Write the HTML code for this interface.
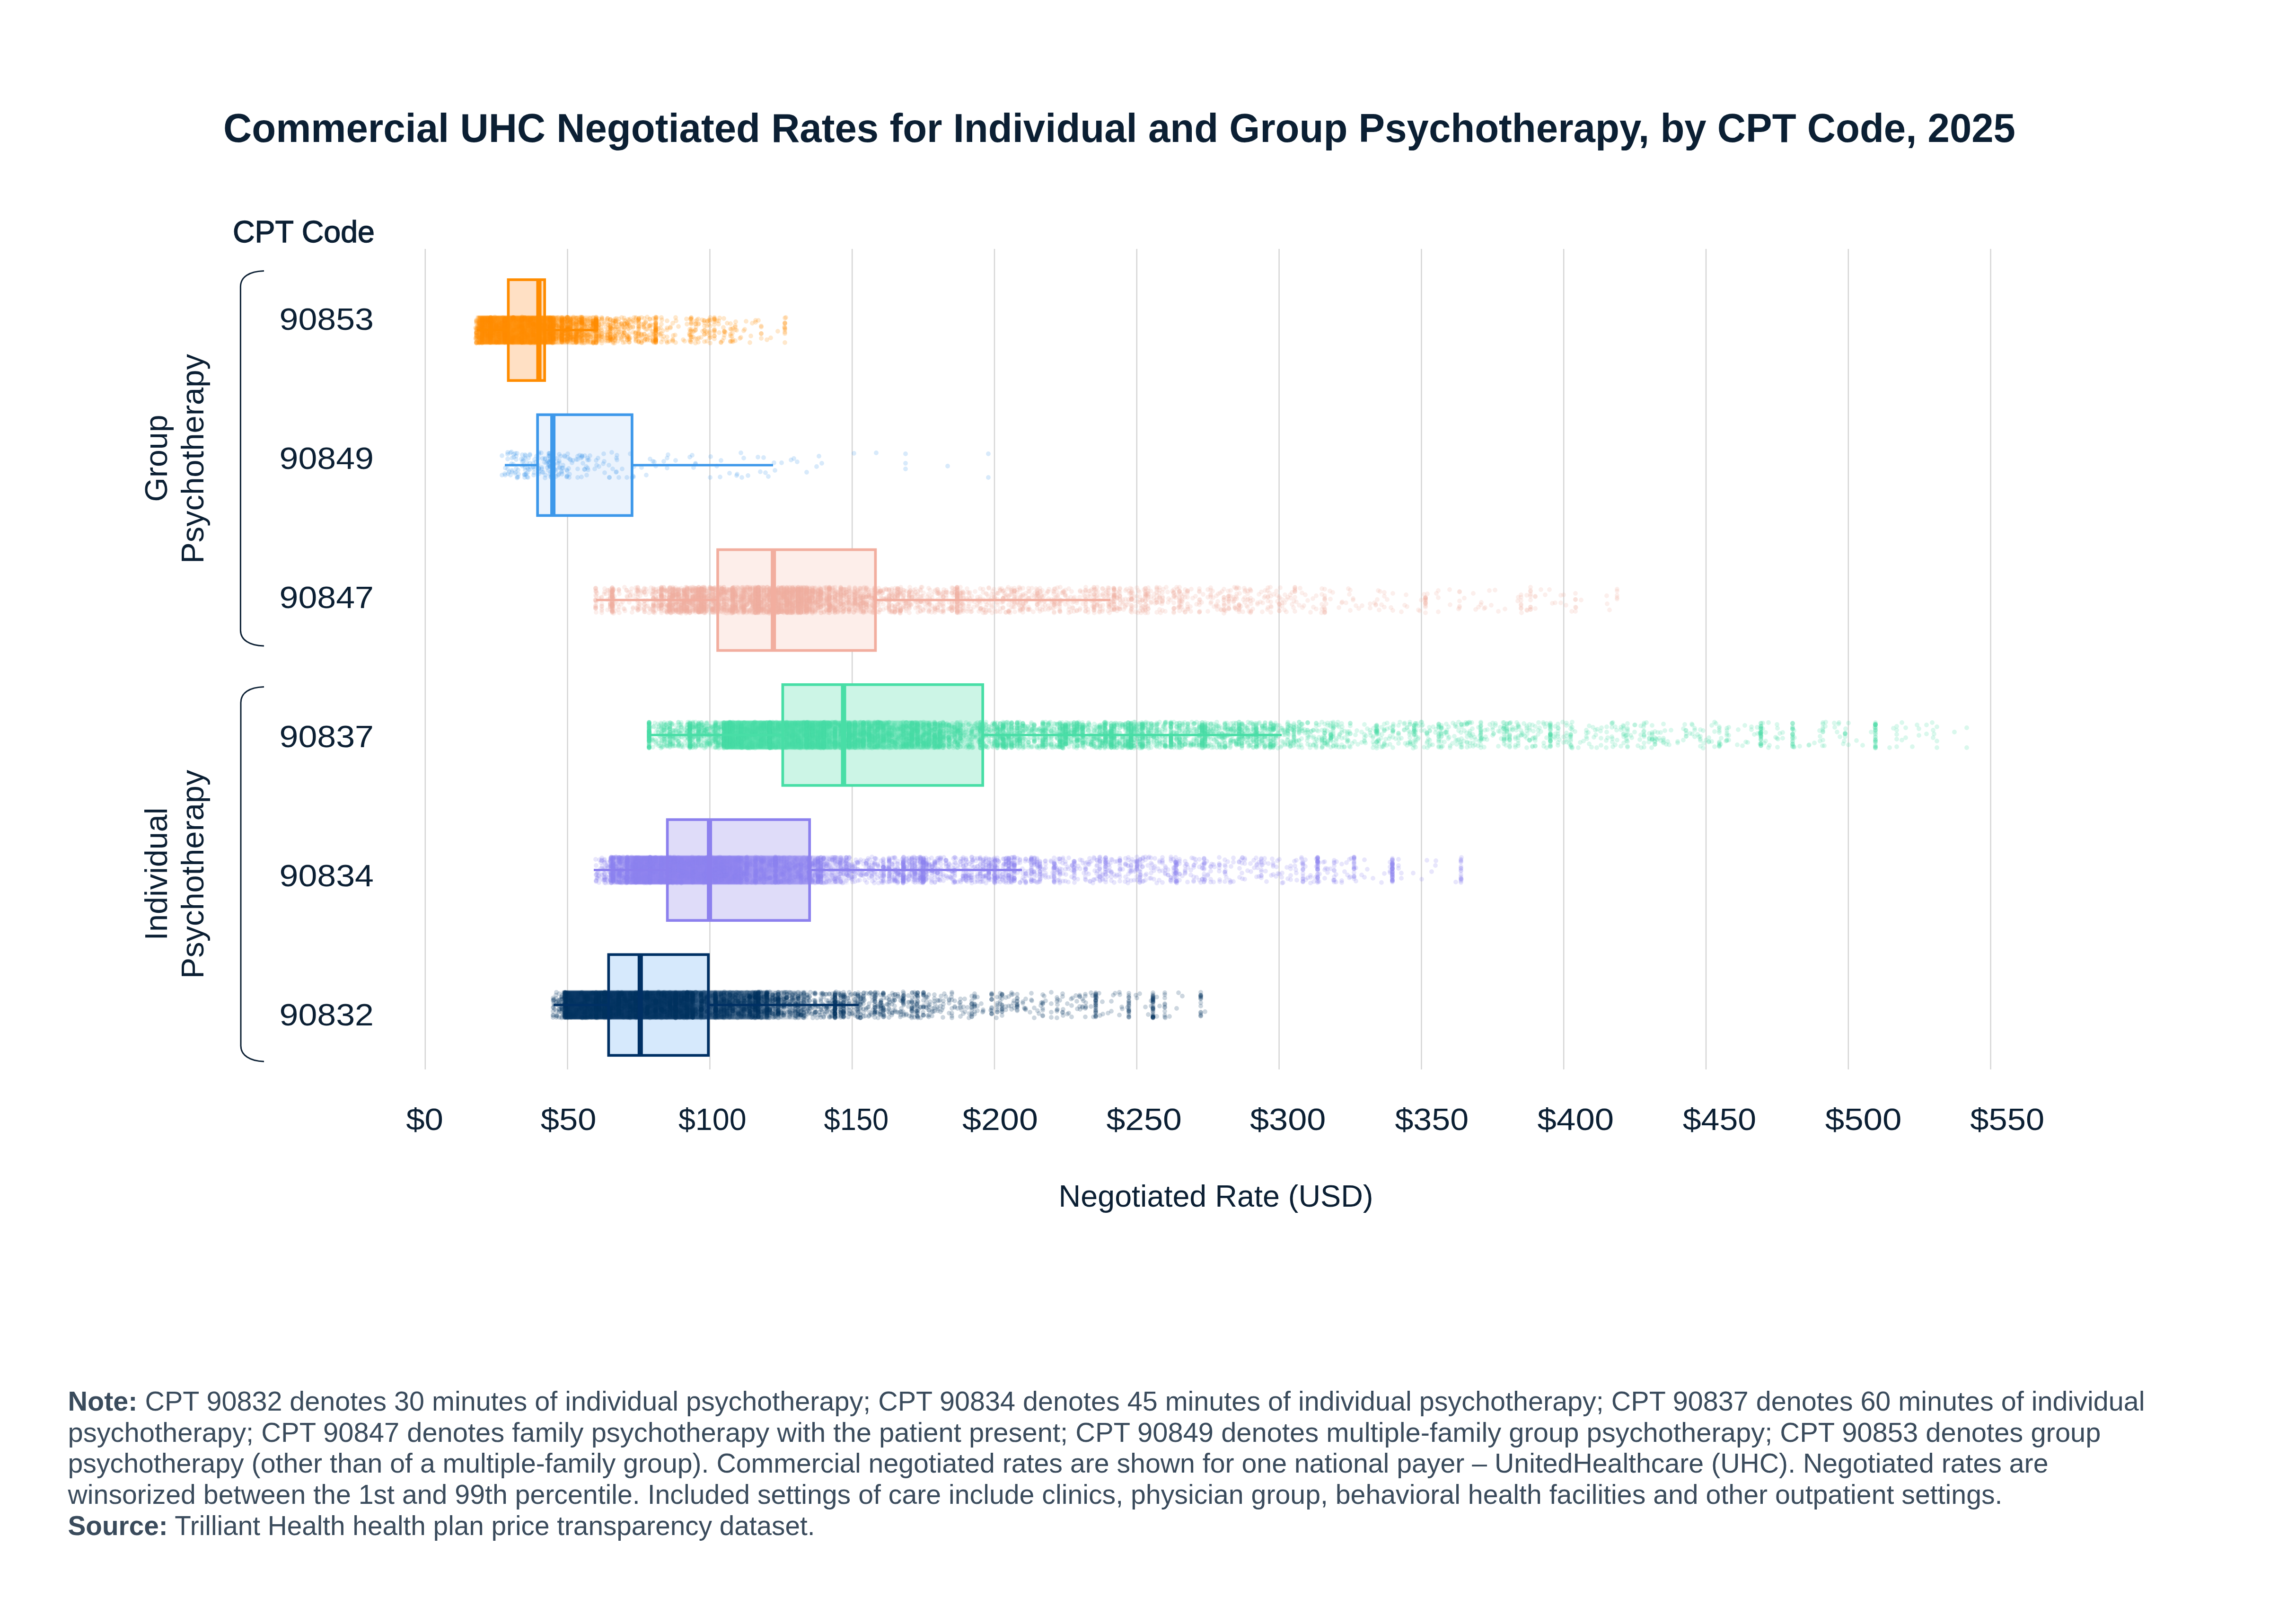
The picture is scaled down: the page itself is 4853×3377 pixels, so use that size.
<!DOCTYPE html><html><head><meta charset="utf-8"><title>Commercial UHC Negotiated Rates</title><style>html,body{margin:0;padding:0;background:#fff}svg{display:block}text{font-family:"Liberation Sans",Arial,sans-serif;fill:#0b1f33}</style></head><body><svg width="4853" height="3377" viewBox="0 0 4853 3377"><rect width="4853" height="3377" fill="#fff"/><text x="472" y="300" font-size="86" font-weight="700" textLength="3788" lengthAdjust="spacingAndGlyphs">Commercial UHC Negotiated Rates for Individual and Group Psychotherapy, by CPT Code, 2025</text><text x="492" y="511.7" font-size="64" stroke="#0b1f33" stroke-width="1.4" textLength="300" lengthAdjust="spacingAndGlyphs">CPT Code</text><path d="M898.8 526V2260M1199.6 526V2260M1500.4 526V2260M1801.2 526V2260M2102.0 526V2260M2402.8 526V2260M2703.6 526V2260M3004.4 526V2260M3305.2 526V2260M3606.0 526V2260M3906.8 526V2260M4207.6 526V2260" stroke="#d5d5d5" stroke-width="2.5" fill="none"/><text x="897.6" y="2388" font-size="65" text-anchor="middle" textLength="78.8" lengthAdjust="spacingAndGlyphs">$0</text><text x="1201.7" y="2388" font-size="65" text-anchor="middle" textLength="117.8" lengthAdjust="spacingAndGlyphs">$50</text><text x="1505.8" y="2388" font-size="65" text-anchor="middle" textLength="143.8" lengthAdjust="spacingAndGlyphs">$100</text><text x="1809.9" y="2388" font-size="65" text-anchor="middle" textLength="136.8" lengthAdjust="spacingAndGlyphs">$150</text><text x="2114.0" y="2388" font-size="65" text-anchor="middle" textLength="159.8" lengthAdjust="spacingAndGlyphs">$200</text><text x="2418.1" y="2388" font-size="65" text-anchor="middle" textLength="159.3" lengthAdjust="spacingAndGlyphs">$250</text><text x="2722.2" y="2388" font-size="65" text-anchor="middle" textLength="160.5" lengthAdjust="spacingAndGlyphs">$300</text><text x="3026.3" y="2388" font-size="65" text-anchor="middle" textLength="155.8" lengthAdjust="spacingAndGlyphs">$350</text><text x="3330.4" y="2388" font-size="65" text-anchor="middle" textLength="161.6" lengthAdjust="spacingAndGlyphs">$400</text><text x="3634.5" y="2388" font-size="65" text-anchor="middle" textLength="155.5" lengthAdjust="spacingAndGlyphs">$450</text><text x="3938.6" y="2388" font-size="65" text-anchor="middle" textLength="161.8" lengthAdjust="spacingAndGlyphs">$500</text><text x="4242.7" y="2388" font-size="65" text-anchor="middle" textLength="156.8" lengthAdjust="spacingAndGlyphs">$550</text><text x="2570" y="2549.5" font-size="65" text-anchor="middle" textLength="665" lengthAdjust="spacingAndGlyphs">Negotiated Rate (USD)</text><text x="790" y="697" font-size="65" text-anchor="end" textLength="199.5" lengthAdjust="spacingAndGlyphs">90853</text><text x="790" y="991" font-size="65" text-anchor="end" textLength="199.5" lengthAdjust="spacingAndGlyphs">90849</text><text x="790" y="1285" font-size="65" text-anchor="end" textLength="199.5" lengthAdjust="spacingAndGlyphs">90847</text><text x="790" y="1579" font-size="65" text-anchor="end" textLength="199.5" lengthAdjust="spacingAndGlyphs">90837</text><text x="790" y="1873" font-size="65" text-anchor="end" textLength="199.5" lengthAdjust="spacingAndGlyphs">90834</text><text x="790" y="2167" font-size="65" text-anchor="end" textLength="199.5" lengthAdjust="spacingAndGlyphs">90832</text><path d="M558 572.5C527 573.5 508.4 585 508.4 606V1332C508.4 1352 527 1364.5 558 1365M558 1451.5C527 1452.5 509 1464 509 1485V2210C509 2230 528 2242.5 558 2243.3" stroke="#0b1f33" stroke-width="3" fill="none"/><text transform="translate(353,968.5) rotate(-90)" x="0" y="0" font-size="66" text-anchor="middle" textLength="184" lengthAdjust="spacingAndGlyphs">Group</text><text transform="translate(429.6,969.5) rotate(-90)" x="0" y="0" font-size="66" text-anchor="middle" textLength="443" lengthAdjust="spacingAndGlyphs">Psychotherapy</text><text transform="translate(353,1847) rotate(-90)" x="0" y="0" font-size="66" text-anchor="middle" textLength="281" lengthAdjust="spacingAndGlyphs">Individual</text><text transform="translate(429.6,1847.5) rotate(-90)" x="0" y="0" font-size="66" text-anchor="middle" textLength="441.5" lengthAdjust="spacingAndGlyphs">Psychotherapy</text><text x="143.5" y="2981.0" font-size="57" style="fill:#3a4b5c" textLength="4390.0" lengthAdjust="spacingAndGlyphs"><tspan font-weight="700">Note:</tspan> CPT 90832 denotes 30 minutes of individual psychotherapy; CPT 90834 denotes 45 minutes of individual psychotherapy; CPT 90837 denotes 60 minutes of individual</text><text x="143.5" y="3046.7" font-size="57" style="fill:#3a4b5c" textLength="4297.0" lengthAdjust="spacingAndGlyphs">psychotherapy; CPT 90847 denotes family psychotherapy with the patient present; CPT 90849 denotes multiple-family group psychotherapy; CPT 90853 denotes group</text><text x="143.5" y="3112.4" font-size="57" style="fill:#3a4b5c" textLength="4186.0" lengthAdjust="spacingAndGlyphs">psychotherapy (other than of a multiple-family group). Commercial negotiated rates are shown for one national payer – UnitedHealthcare (UHC). Negotiated rates are</text><text x="143.5" y="3178.1" font-size="57" style="fill:#3a4b5c" textLength="4089.0" lengthAdjust="spacingAndGlyphs">winsorized between the 1st and 99th percentile. Included settings of care include clinics, physician group, behavioral health facilities and other outpatient settings.</text><text x="143.5" y="3243.8" font-size="57" style="fill:#3a4b5c" textLength="1579.0" lengthAdjust="spacingAndGlyphs"><tspan font-weight="700">Source:</tspan> Trilliant Health health plan price transparency dataset.</text><rect x="1074.4" y="591.1" width="76.8" height="213" fill="#ffe0c4"/><rect x="1136.2" y="876.4" width="199.7" height="213" fill="#ebf3fd"/><rect x="1517.0" y="1161.6" width="333.4" height="213" fill="#fdeeea"/><rect x="1654.4" y="1446.8" width="422.8" height="213" fill="#ccf5e6"/><rect x="1410.6" y="1732.1" width="300.6" height="213" fill="#dfdcf9"/><rect x="1286.4" y="2017.3" width="210.8" height="213" fill="#d6e9fc"/><defs><linearGradient id="g0" gradientUnits="userSpaceOnUse" x1="1005" x2="1268" y1="0" y2="0"><stop offset="0.0000" stop-color="#ff8c00" stop-opacity="0.000"/><stop offset="0.0114" stop-color="#ff8c00" stop-opacity="0.400"/><stop offset="0.0228" stop-color="#ff8c00" stop-opacity="0.823"/><stop offset="0.0342" stop-color="#ff8c00" stop-opacity="0.899"/><stop offset="0.0456" stop-color="#ff8c00" stop-opacity="0.920"/><stop offset="0.0570" stop-color="#ff8c00" stop-opacity="0.936"/><stop offset="0.6160" stop-color="#ff8c00" stop-opacity="0.902"/><stop offset="0.6274" stop-color="#ff8c00" stop-opacity="0.814"/><stop offset="0.6388" stop-color="#ff8c00" stop-opacity="0.647"/><stop offset="0.6502" stop-color="#ff8c00" stop-opacity="0.456"/><stop offset="0.6730" stop-color="#ff8c00" stop-opacity="0.444"/><stop offset="0.6958" stop-color="#ff8c00" stop-opacity="0.432"/><stop offset="0.7186" stop-color="#ff8c00" stop-opacity="0.420"/><stop offset="0.7414" stop-color="#ff8c00" stop-opacity="0.408"/><stop offset="0.7643" stop-color="#ff8c00" stop-opacity="0.395"/><stop offset="0.7871" stop-color="#ff8c00" stop-opacity="0.382"/><stop offset="0.8099" stop-color="#ff8c00" stop-opacity="0.369"/><stop offset="0.8327" stop-color="#ff8c00" stop-opacity="0.356"/><stop offset="0.8555" stop-color="#ff8c00" stop-opacity="0.342"/><stop offset="0.8783" stop-color="#ff8c00" stop-opacity="0.328"/><stop offset="0.9011" stop-color="#ff8c00" stop-opacity="0.314"/><stop offset="0.9240" stop-color="#ff8c00" stop-opacity="0.299"/><stop offset="0.9468" stop-color="#ff8c00" stop-opacity="0.284"/><stop offset="0.9696" stop-color="#ff8c00" stop-opacity="0.269"/><stop offset="0.9810" stop-color="#ff8c00" stop-opacity="0.211"/><stop offset="0.9924" stop-color="#ff8c00" stop-opacity="0.030"/></linearGradient><linearGradient id="g3" gradientUnits="userSpaceOnUse" x1="1468" x2="1987" y1="0" y2="0"><stop offset="0.0000" stop-color="#48dea6" stop-opacity="0.000"/><stop offset="0.0116" stop-color="#48dea6" stop-opacity="0.020"/><stop offset="0.0173" stop-color="#48dea6" stop-opacity="0.035"/><stop offset="0.0231" stop-color="#48dea6" stop-opacity="0.050"/><stop offset="0.0289" stop-color="#48dea6" stop-opacity="0.064"/><stop offset="0.0347" stop-color="#48dea6" stop-opacity="0.078"/><stop offset="0.0405" stop-color="#48dea6" stop-opacity="0.092"/><stop offset="0.0462" stop-color="#48dea6" stop-opacity="0.106"/><stop offset="0.0520" stop-color="#48dea6" stop-opacity="0.120"/><stop offset="0.0578" stop-color="#48dea6" stop-opacity="0.133"/><stop offset="0.0636" stop-color="#48dea6" stop-opacity="0.146"/><stop offset="0.0694" stop-color="#48dea6" stop-opacity="0.159"/><stop offset="0.0751" stop-color="#48dea6" stop-opacity="0.172"/><stop offset="0.0809" stop-color="#48dea6" stop-opacity="0.185"/><stop offset="0.0867" stop-color="#48dea6" stop-opacity="0.197"/><stop offset="0.0925" stop-color="#48dea6" stop-opacity="0.209"/><stop offset="0.0983" stop-color="#48dea6" stop-opacity="0.221"/><stop offset="0.1040" stop-color="#48dea6" stop-opacity="0.233"/><stop offset="0.1098" stop-color="#48dea6" stop-opacity="0.245"/><stop offset="0.1156" stop-color="#48dea6" stop-opacity="0.256"/><stop offset="0.1214" stop-color="#48dea6" stop-opacity="0.406"/><stop offset="0.1272" stop-color="#48dea6" stop-opacity="0.687"/><stop offset="0.1329" stop-color="#48dea6" stop-opacity="0.836"/><stop offset="0.1387" stop-color="#48dea6" stop-opacity="0.914"/><stop offset="0.5491" stop-color="#48dea6" stop-opacity="0.863"/><stop offset="0.5549" stop-color="#48dea6" stop-opacity="0.783"/><stop offset="0.5607" stop-color="#48dea6" stop-opacity="0.657"/><stop offset="0.5665" stop-color="#48dea6" stop-opacity="0.601"/><stop offset="0.9538" stop-color="#48dea6" stop-opacity="0.498"/><stop offset="0.9595" stop-color="#48dea6" stop-opacity="0.368"/><stop offset="0.9653" stop-color="#48dea6" stop-opacity="0.205"/><stop offset="0.9711" stop-color="#48dea6" stop-opacity="0.124"/><stop offset="0.9769" stop-color="#48dea6" stop-opacity="0.097"/><stop offset="0.9827" stop-color="#48dea6" stop-opacity="0.069"/><stop offset="0.9884" stop-color="#48dea6" stop-opacity="0.040"/><stop offset="0.9942" stop-color="#48dea6" stop-opacity="0.010"/><stop offset="1.0000" stop-color="#48dea6" stop-opacity="0.000"/></linearGradient><linearGradient id="g4" gradientUnits="userSpaceOnUse" x1="1286" x2="1797" y1="0" y2="0"><stop offset="0.0000" stop-color="#8c80ee" stop-opacity="0.000"/><stop offset="0.0059" stop-color="#8c80ee" stop-opacity="0.076"/><stop offset="0.0117" stop-color="#8c80ee" stop-opacity="0.324"/><stop offset="0.0176" stop-color="#8c80ee" stop-opacity="0.505"/><stop offset="0.0235" stop-color="#8c80ee" stop-opacity="0.539"/><stop offset="0.0294" stop-color="#8c80ee" stop-opacity="0.571"/><stop offset="0.0352" stop-color="#8c80ee" stop-opacity="0.600"/><stop offset="0.0411" stop-color="#8c80ee" stop-opacity="0.627"/><stop offset="0.0470" stop-color="#8c80ee" stop-opacity="0.653"/><stop offset="0.0528" stop-color="#8c80ee" stop-opacity="0.677"/><stop offset="0.0587" stop-color="#8c80ee" stop-opacity="0.699"/><stop offset="0.0646" stop-color="#8c80ee" stop-opacity="0.719"/><stop offset="0.0705" stop-color="#8c80ee" stop-opacity="0.738"/><stop offset="0.0763" stop-color="#8c80ee" stop-opacity="0.756"/><stop offset="0.0822" stop-color="#8c80ee" stop-opacity="0.773"/><stop offset="0.0881" stop-color="#8c80ee" stop-opacity="0.820"/><stop offset="0.0939" stop-color="#8c80ee" stop-opacity="0.896"/><stop offset="0.0998" stop-color="#8c80ee" stop-opacity="0.940"/><stop offset="0.1057" stop-color="#8c80ee" stop-opacity="0.965"/><stop offset="0.5401" stop-color="#8c80ee" stop-opacity="0.950"/><stop offset="0.5460" stop-color="#8c80ee" stop-opacity="0.914"/><stop offset="0.5519" stop-color="#8c80ee" stop-opacity="0.850"/><stop offset="0.5577" stop-color="#8c80ee" stop-opacity="0.783"/><stop offset="0.5988" stop-color="#8c80ee" stop-opacity="0.773"/><stop offset="0.6399" stop-color="#8c80ee" stop-opacity="0.762"/><stop offset="0.6810" stop-color="#8c80ee" stop-opacity="0.751"/><stop offset="0.7221" stop-color="#8c80ee" stop-opacity="0.739"/><stop offset="0.7573" stop-color="#8c80ee" stop-opacity="0.729"/><stop offset="0.7926" stop-color="#8c80ee" stop-opacity="0.718"/><stop offset="0.8278" stop-color="#8c80ee" stop-opacity="0.707"/><stop offset="0.8337" stop-color="#8c80ee" stop-opacity="0.655"/><stop offset="0.8395" stop-color="#8c80ee" stop-opacity="0.562"/><stop offset="0.8454" stop-color="#8c80ee" stop-opacity="0.444"/><stop offset="0.8513" stop-color="#8c80ee" stop-opacity="0.346"/><stop offset="0.8630" stop-color="#8c80ee" stop-opacity="0.334"/><stop offset="0.8748" stop-color="#8c80ee" stop-opacity="0.322"/><stop offset="0.8865" stop-color="#8c80ee" stop-opacity="0.309"/><stop offset="0.8982" stop-color="#8c80ee" stop-opacity="0.297"/><stop offset="0.9100" stop-color="#8c80ee" stop-opacity="0.284"/><stop offset="0.9217" stop-color="#8c80ee" stop-opacity="0.270"/><stop offset="0.9335" stop-color="#8c80ee" stop-opacity="0.257"/><stop offset="0.9452" stop-color="#8c80ee" stop-opacity="0.243"/><stop offset="0.9569" stop-color="#8c80ee" stop-opacity="0.229"/><stop offset="0.9687" stop-color="#8c80ee" stop-opacity="0.215"/><stop offset="0.9804" stop-color="#8c80ee" stop-opacity="0.200"/><stop offset="0.9922" stop-color="#8c80ee" stop-opacity="0.074"/><stop offset="0.9980" stop-color="#8c80ee" stop-opacity="0.000"/></linearGradient><linearGradient id="g5" gradientUnits="userSpaceOnUse" x1="1188" x2="1712" y1="0" y2="0"><stop offset="0.0000" stop-color="#00305f" stop-opacity="0.000"/><stop offset="0.0057" stop-color="#00305f" stop-opacity="0.429"/><stop offset="0.0115" stop-color="#00305f" stop-opacity="0.894"/><stop offset="0.0172" stop-color="#00305f" stop-opacity="0.965"/><stop offset="0.5267" stop-color="#00305f" stop-opacity="0.928"/><stop offset="0.5324" stop-color="#00305f" stop-opacity="0.875"/><stop offset="0.5382" stop-color="#00305f" stop-opacity="0.783"/><stop offset="0.5668" stop-color="#00305f" stop-opacity="0.771"/><stop offset="0.5897" stop-color="#00305f" stop-opacity="0.761"/><stop offset="0.6126" stop-color="#00305f" stop-opacity="0.750"/><stop offset="0.6355" stop-color="#00305f" stop-opacity="0.739"/><stop offset="0.6584" stop-color="#00305f" stop-opacity="0.727"/><stop offset="0.6813" stop-color="#00305f" stop-opacity="0.715"/><stop offset="0.7042" stop-color="#00305f" stop-opacity="0.702"/><stop offset="0.7214" stop-color="#00305f" stop-opacity="0.692"/><stop offset="0.7385" stop-color="#00305f" stop-opacity="0.682"/><stop offset="0.7557" stop-color="#00305f" stop-opacity="0.671"/><stop offset="0.7729" stop-color="#00305f" stop-opacity="0.660"/><stop offset="0.7901" stop-color="#00305f" stop-opacity="0.648"/><stop offset="0.8073" stop-color="#00305f" stop-opacity="0.637"/><stop offset="0.8244" stop-color="#00305f" stop-opacity="0.624"/><stop offset="0.8302" stop-color="#00305f" stop-opacity="0.540"/><stop offset="0.8359" stop-color="#00305f" stop-opacity="0.437"/><stop offset="0.8416" stop-color="#00305f" stop-opacity="0.312"/><stop offset="0.8473" stop-color="#00305f" stop-opacity="0.262"/><stop offset="0.8702" stop-color="#00305f" stop-opacity="0.250"/><stop offset="0.8931" stop-color="#00305f" stop-opacity="0.238"/><stop offset="0.9160" stop-color="#00305f" stop-opacity="0.226"/><stop offset="0.9389" stop-color="#00305f" stop-opacity="0.214"/><stop offset="0.9618" stop-color="#00305f" stop-opacity="0.201"/><stop offset="0.9790" stop-color="#00305f" stop-opacity="0.175"/><stop offset="0.9847" stop-color="#00305f" stop-opacity="0.121"/><stop offset="0.9905" stop-color="#00305f" stop-opacity="0.062"/><stop offset="0.9962" stop-color="#00305f" stop-opacity="0.000"/></linearGradient><linearGradient id="vg" x1="0" y1="0" x2="0" y2="1"><stop offset="0" stop-color="#000"/><stop offset="0.047" stop-color="#fff"/><stop offset="0.953" stop-color="#fff"/><stop offset="1" stop-color="#000"/></linearGradient><mask id="vm" maskContentUnits="objectBoundingBox"><rect width="1" height="1" fill="url(#vg)"/></mask></defs><rect x="1005" y="665.7" width="263" height="63.8" fill="url(#g0)" mask="url(#vm)"/><g stroke="#ff8c00" stroke-width="9.8" stroke-linecap="round" stroke-opacity="0.2" fill="none"><path d="M1005 693h0m0 22h0m2 -11h0m0 -25h0m0 46h0m10 -11h0m0 -17h0m2 -21h0m0 49h0m4 -38h0m2 19h0m4 14h0m1 -44h0m1 17h0m6 17h0m0 -26h0m6 15h0m1 23h0m2 -46h0m2 36h0m1 -24h0m5 35h0m1 -20h0m5 -20h0m3 -12h0m1 22h0m3 29h0m0 -13h0m6 -24h0m0 15h0m3 13h0m4 -37h0m2 47h0m2 -25h0m4 15h0m1 -28h0m2 -10h0m6 27h0m0 16h0m2 -34h0m4 -11h0m2 21h0m2 30h0m1 -13h0m7 -23h0m0 -13h0m5 28h0m1 20h0m5 -38h0m0 -12h0m1 42h0m3 -18h0m3 28h0m3 -54h0m1 40h0m1 -24h0m4 12h0m3 23h0m1 -43h0m6 24h0m0 -16h0m5 30h0m1 -42h0m5 15h0m0 17h0m5 18h0m1 -48h0m3 24h0m3 15h0m0 -28h0m4 -17h0m3 34h0m4 -16h0m1 -12h0m0 38h0m6 -11h0m4 -12h0m0 -12h0m2 -10h0m0 46h0m6 -11h0m4 -31h0m2 15h0m0 28h0m6 -15h0m2 -22h0m1 42h0m4 -30h0m2 20h0m1 -42h0m2 13h0m1 19h0m0 23h0m6 -34h0m2 18h0m1 -32h0m3 44h0m4 -26h0m2 -13h0m0 24h0m6 12h0m0 -47h0m3 28h0m2 -15h0m1 24h0m6 9h0m0 -24h0m0 -19h0m5 34h0m1 17h0m0 -40h0m8 33h0m1 -16h0m0 -10h0m2 -16h0m7 37h0m1 -19h0m5 -11h0m0 42h0m0 -20h0m4 -31h0m2 41h0m4 -24h0m1 12h0m5 10h0m2 -29h0m0 -13h0m3 53h0m1 -26h0m4 -20h0m3 12h0m1 19h0m4 14h0m2 -49h0m6 16h0m0 12h0m5 10h0m1 -39h0m5 31h0m1 17h0m0 -27h0m6 -23h0m0 14h0m2 29h0m7 -18h0m0 -16h0m3 39h0m4 -11h0m0 -20h0m6 12h0m2 21h0m1 -48h0m5 14h0m0 22h0m10 -16h0m0 16h0m2 -38h0m0 52h0m11 -2h0m1 -28h0m0 -15h0m12 43h0m0 -38h0m1 26h0m5 -38h0m6 19h0m10 28h0m7 -44h0m1 11h0m5 20h0m1 14h0m3 -44h0m6 25h0m3 16h0m0 -31h0m6 -11h0m6 39h0m3 -13h0m3 -23h0m1 12h0m0 33h0m10 -46h0m1 38h0m0 -11h0m1 22h0m0 -36h0m9 -16h0m0 37h0m0 -11h0m9 -14h0m1 18h0m1 -31h0m3 52h0m5 -32h0m1 22h0m3 -12h0m4 -19h0m7 39h0m0 -12h0m0 -15h0m10 2h0m0 23h0m1 -40h0m9 35h0m8 -16h0m5 -20h0m8 45h0m2 -14h0m3 -27h0m13 -6h0m6 38h0m0 -24h0m0 14h0m12 13h0m23 -18h0m14 -9h0m1 14h0m0 19h0m0 -52h0"/><path d="M1007 723h0m0 -19h0m0 -11h0m0 -12h0m6 34h0m3 -39h0m2 14h0m1 14h0m0 20h0m6 -42h0m4 28h0m2 -11h0m0 -27h0m0 48h0m5 -38h0m5 27h0m2 -12h0m3 -27h0m2 51h0m1 -33h0m4 18h0m6 13h0m1 -26h0m2 -13h0m2 27h0m6 15h0m2 -22h0m0 -13h0m1 24h0m0 -39h0m8 50h0m1 -19h0m2 -32h0m7 20h0m0 18h0m2 10h0m2 -45h0m7 28h0m1 -11h0m0 23h0m0 10h0m6 -53h0m4 36h0m2 -26h0m0 38h0m1 -25h0m9 -22h0m0 35h0m1 -24h0m0 14h0m1 28h0m9 -7h0m3 -45h0m0 16h0m0 15h0m11 -9h0m0 -21h0m1 49h0m1 -11h0m5 -27h0m0 17h0m6 -30h0m0 47h0m1 -26h0m4 14h0m1 -23h0m6 38h0m0 -23h0m1 -25h0m3 15h0m2 25h0m6 -37h0m0 21h0m0 24h0m6 -11h0m1 -22h0m5 -18h0m0 51h0m1 -24h0m5 -15h0m0 25h0m6 16h0m1 -54h0m4 23h0m1 19h0m1 -32h0m2 22h0m6 18h0m1 -44h0m2 20h0m0 12h0m5 -23h0m3 34h0m3 -23h0m0 12h0m2 -33h0m6 14h0m0 34h0m5 -45h0m1 21h0m2 11h0m4 13h0m0 -35h0m0 -18h0m4 28h0m2 -18h0m1 30h0m5 -39h0m0 49h0m5 -36h0m2 24h0m5 -35h0m1 48h0m0 -27h0m5 11h0m6 -16h0m0 -12h0m0 37h0m3 11h0m3 -22h0m6 -29h0m1 12h0m4 30h0m1 -14h0m5 -30h0m1 13h0m1 38h0m5 -13h0m1 -15h0m3 -18h0m8 15h0m2 -21h0m2 33h0m2 12h0m0 -34h0m6 9h0m0 -17h0m6 47h0m0 -12h0m4 -23h0m2 -13h0m6 44h0m0 -21h0m5 -22h0m2 12h0m5 15h0m0 19h0m6 -31h0m0 -15h0m0 37h0m6 -9h0m6 -17h0m3 32h0m0 -18h0m9 25h0m0 -12h0m7 -19h0m5 24h0m7 -39h0m18 43h0m11 -12h0m0 -13h0m1 26h0m0 -48h0m2 11h0m9 12h0m0 28h0m0 -46h0m7 35h0m7 -38h0m5 31h0m5 14h0m0 -32h0m2 -11h0m4 31h0m10 -38h0m0 15h0m0 16h0m0 14h0m9 -38h0m5 45h0m6 -50h0m1 27h0m13 -16h0m0 22h0m0 15h0m2 -25h0m8 -8h0m3 10h0m9 15h0m8 -17h0m23 -15h0m12 24h0m0 -16h0m20 25h0m30 -20h0m0 -11h0m2 -12h0"/><path d="M1007 708h0m0 16h0m0 -27h0m0 -13h0m11 5h0m1 28h0m0 -39h0m0 22h0m11 -17h0m1 18h0m0 13h0m5 10h0m1 -32h0m0 -21h0m6 13h0m0 25h0m6 14h0m0 -28h0m3 -22h0m2 38h0m7 -23h0m2 12h0m4 -28h0m0 38h0m0 11h0m5 -32h0m6 -12h0m0 27h0m2 10h0m4 10h0m2 -53h0m1 27h0m4 16h0m6 -24h0m0 33h0m1 -45h0m5 27h0m1 -35h0m3 17h0m2 35h0m1 -24h0m5 15h0m1 -34h0m5 45h0m1 -24h0m1 -10h0m4 22h0m1 -39h0m4 10h0m1 40h0m1 -26h0m5 -25h0m2 42h0m1 -23h0m4 13h0m5 16h0m3 -45h0m0 34h0m3 -19h0m6 29h0m0 -40h0m0 24h0m5 -12h0m1 -20h0m1 40h0m4 -29h0m2 21h0m5 -10h0m0 23h0m2 -41h0m3 32h0m3 -24h0m4 35h0m0 -44h0m0 24h0m6 -8h0m1 20h0m5 -31h0m0 40h0m1 -19h0m5 9h0m6 -26h0m0 41h0m0 -28h0m0 -24h0m5 42h0m5 -35h0m1 18h0m1 24h0m6 -12h0m1 -20h0m5 29h0m1 -19h0m0 -21h0m5 31h0m1 -20h0m6 36h0m0 -24h0m0 -23h0m6 10h0m0 28h0m6 -15h0m5 11h0m0 -20h0m1 -16h0m8 45h0m4 -48h0m0 28h0m1 -15h0m5 29h0m2 -21h0m4 -11h0m3 22h0m1 13h0m3 -45h0m5 22h0m2 14h0m3 -25h0m1 34h0m5 -15h0m1 -10h0m0 -16h0m6 37h0m2 -30h0m2 11h0m0 10h0m8 -28h0m6 27h0m0 17h0m6 -40h0m0 14h0m6 29h0m0 -18h0m4 -15h0m4 26h0m1 -35h0m3 -12h0m6 44h0m0 -25h0m7 17h0m0 16h0m5 -27h0m0 -14h0m0 -11h0m9 36h0m4 -30h0m11 21h0m4 25h0m13 -14h0m1 16h0m30 -16h0m3 -36h0m0 51h0m0 -40h0m0 16h0m10 -8h0m2 -15h0m1 40h0m15 -34h0m0 16h0m11 -19h0m0 20h0m1 14h0m9 -17h0m0 -20h0m17 44h0m4 -12h0m16 13h0m0 -10h0m2 -17h0m48 -17h0m62 7h0m0 13h0"/><path d="M1007 708h0m0 17h0m0 -49h0m0 19h0m6 -10h0m6 13h0m0 11h0m0 -35h0m6 13h0m6 -9h0m0 27h0m3 -10h0m3 25h0m6 -35h0m0 18h0m6 21h0m4 -40h0m1 22h0m1 -12h0m10 -5h0m2 30h0m0 -10h0m0 -31h0m6 19h0m2 -11h0m7 35h0m1 -11h0m1 -37h0m1 24h0m9 -4h0m1 18h0m3 -35h0m5 9h0m0 35h0m0 -16h0m6 -31h0m7 16h0m0 34h0m0 -13h0m5 -35h0m1 23h0m5 -11h0m0 23h0m0 12h0m6 -49h0m7 20h0m2 23h0m2 -34h0m2 -10h0m2 31h0m3 21h0m7 -28h0m0 -11h0m0 -14h0m0 42h0m5 9h0m0 -18h0m6 -12h0m0 22h0m0 -35h0m6 26h0m7 -25h0m0 10h0m5 20h0m0 12h0m0 -51h0m6 28h0m1 -16h0m5 -12h0m0 46h0m5 -26h0m1 -11h0m0 26h0m7 12h0m5 -32h0m1 19h0m0 -32h0m7 41h0m3 -32h0m1 -11h0m1 28h0m5 26h0m3 -39h0m0 24h0m9 -37h0m1 24h0m0 15h0m5 -27h0m1 39h0m4 -24h0m1 -25h0m1 35h0m4 -18h0m2 28h0m6 -16h0m0 -30h0m10 40h0m4 -28h0m1 16h0m3 -27h0m0 46h0m9 -30h0m1 19h0m0 -31h0m6 42h0m2 -20h0m6 -15h0m4 23h0m7 -26h0m1 35h0m7 -26h0m2 -12h0m9 31h0m0 -40h0m6 19h0m0 32h0m0 -21h0m11 -9h0m1 28h0m0 -14h0m10 -17h0m2 -14h0m0 44h0m8 -11h0m4 -10h0m0 21h0m0 -46h0m0 11h0m12 21h0m19 -14h0m5 28h0m37 -19h0m2 12h0m0 -38h0m9 24h0m1 -14h0m5 39h0m13 -45h0m0 28h0m9 -20h0m3 -15h0m9 27h0m0 12h0m0 -30h0m21 22h0m17 2h0m1 18h0m5 -31h0m105 2h0m0 -11h0"/><path d="M1007 704h0m0 12h0m0 -38h0m2 11h0m4 36h0m6 -31h0m0 -14h0m0 27h0m10 -30h0m2 34h0m1 -24h0m3 10h0m2 23h0m0 -49h0m6 10h0m2 22h0m4 -11h0m1 31h0m5 -11h0m1 -31h0m1 18h0m10 -19h0m0 13h0m0 24h0m0 -10h0m10 -17h0m2 -10h0m3 39h0m3 -48h0m7 25h0m4 13h0m2 -23h0m5 -12h0m0 49h0m0 -22h0m6 13h0m0 -21h0m7 -9h0m1 -12h0m4 53h0m0 -16h0m2 -18h0m5 -17h0m5 12h0m0 22h0m0 11h0m10 -24h0m2 22h0m1 -35h0m5 18h0m2 24h0m5 -36h0m2 -12h0m3 39h0m0 -11h0m6 -16h0m3 -10h0m1 29h0m4 -10h0m5 -9h0m1 -10h0m4 31h0m0 -11h0m1 22h0m5 -46h0m1 11h0m5 31h0m0 -19h0m6 -18h0m1 26h0m6 13h0m6 -32h0m0 11h0m0 11h0m2 -36h0m8 39h0m1 -34h0m1 17h0m0 27h0m10 -18h0m0 -12h0m2 26h0m6 -39h0m3 18h0m3 29h0m5 -23h0m1 -24h0m0 13h0m0 23h0m12 -9h0m0 11h0m1 -43h0m11 41h0m4 -32h0m2 10h0m0 12h0m4 14h0m6 -22h0m0 -18h0m2 34h0m13 -23h0m1 16h0m10 -19h0m0 26h0m2 -37h0m2 48h0m9 -43h0m5 22h0m0 17h0m6 -40h0m0 31h0m6 14h0m6 -35h0m0 17h0m12 -12h0m6 17h0m2 13h0m4 -27h0m0 -14h0m0 -12h0m17 40h0m58 -30h0m0 27h0m0 -37h0m0 25h0m15 -11h0m13 13h0m6 -19h0m15 -4h0m21 25h0m18 18h0m110 -16h0"/><path d="M1007 713h0m0 -12h0m6 -18h0m0 41h0m6 -31h0m0 15h0m0 -35h0m12 3h0m0 30h0m1 -19h0m5 27h0m0 -17h0m6 -19h0m3 13h0m3 14h0m6 17h0m0 -27h0m6 -12h0m0 23h0m6 -9h0m0 -22h0m0 43h0m5 -11h0m1 -20h0m10 26h0m1 -42h0m12 48h0m2 -30h0m2 -12h0m3 28h0m6 18h0m0 -43h0m7 9h0m0 19h0m5 -32h0m0 44h0m6 -18h0m0 -17h0m7 26h0m2 13h0m7 -38h0m4 -13h0m3 21h0m2 27h0m4 -15h0m7 -27h0m0 17h0m1 19h0m5 -10h0m5 -28h0m1 39h0m1 -27h0m4 16h0m7 9h0m0 -31h0m0 12h0m1 -24h0m5 34h0m4 -20h0m2 35h0m1 -25h0m0 -24h0m6 35h0m4 -25h0m4 35h0m4 -19h0m2 11h0m3 -23h0m6 33h0m0 -45h0m1 30h0m4 -17h0m8 22h0m1 13h0m8 -42h0m1 15h0m2 28h0m6 -36h0m0 14h0m0 11h0m0 -39h0m12 40h0m0 -15h0m6 -17h0m6 31h0m3 9h0m3 -43h0m0 11h0m0 12h0m6 13h0m4 -18h0m2 -15h0m3 26h0m11 -15h0m2 18h0m8 -24h0m0 33h0m22 -7h0m0 -34h0m2 12h0m0 34h0m12 -40h0m2 34h0m16 -30h0m1 31h0m5 -14h0m0 -27h0m6 17h0m69 19h0m3 -12h0m13 -17h0m17 21h0m7 -29h0m14 2h0"/><path d="M1007 718h0m0 -16h0m6 -21h0m6 9h0m0 27h0m0 -16h0m6 -21h0m6 28h0m6 -10h0m0 -27h0m0 14h0m0 32h0m12 -25h0m6 32h0m2 -11h0m4 -17h0m6 -8h0m0 23h0m0 -35h0m0 48h0m6 -27h0m10 20h0m2 -45h0m13 38h0m0 -14h0m5 -17h0m0 45h0m5 -18h0m8 10h0m1 -35h0m10 3h0m0 22h0m3 14h0m4 -28h0m8 29h0m2 -29h0m8 32h0m6 -30h0m2 11h0m3 -30h0m1 10h0m0 36h0m5 -22h0m1 13h0m4 -30h0m7 28h0m1 -15h0m5 -20h0m1 44h0m0 -33h0m6 18h0m4 -10h0m1 -14h0m0 42h0m5 -9h0m2 -13h0m6 -18h0m5 35h0m1 -11h0m0 -14h0m6 -11h0m5 28h0m1 -38h0m0 26h0m12 -12h0m0 29h0m11 -27h0m1 10h0m0 26h0m6 -48h0m0 36h0m5 -23h0m7 12h0m2 12h0m10 -5h0m6 11h0m0 -23h0m0 -20h0m10 45h0m2 -43h0m0 14h0m18 1h0m0 20h0m6 -31h0m4 37h0m20 -12h0m0 -31h0m15 36h0m21 7h0m0 -18h0m0 -14h0m2 -15h0m73 47h0m33 -17h0m16 -27h0"/><path d="M1007 723h0m0 -10h0m2 -17h0m10 -11h0m0 33h0m0 -20h0m6 9h0m0 -32h0m12 32h0m0 -13h0m0 -20h0m0 50h0m12 -38h0m3 14h0m3 19h0m3 -28h0m9 -11h0m0 22h0m0 11h0m6 -22h0m0 33h0m10 -3h0m2 -49h0m14 44h0m0 -24h0m4 -22h0m0 34h0m7 15h0m8 -43h0m2 11h0m4 34h0m4 -19h0m3 -22h0m3 38h0m10 -31h0m8 33h0m7 -26h0m4 12h0m0 -35h0m1 12h0m4 41h0m2 -28h0m5 -10h0m1 26h0m0 -40h0m8 31h0m3 11h0m0 -40h0m0 16h0m7 8h0m5 -19h0m1 34h0m5 -21h0m6 8h0m1 13h0m0 -29h0m0 -11h0m6 50h0m2 -17h0m0 -11h0m4 -14h0m6 28h0m0 -39h0m2 25h0m12 12h0m10 -23h0m0 11h0m6 -20h0m0 43h0m0 -13h0m6 -21h0m18 25h0m6 10h0m0 -28h0m6 -12h0m4 31h0m8 -30h0m0 16h0m12 7h0m0 -20h0m9 33h0m1 -28h0m20 16h0m0 -28h0m18 35h0m18 7h0m0 -25h0m0 13h0m79 6h0"/><path d="M1007 703h0m2 -10h0m10 -16h0m0 11h0m0 25h0m0 -15h0m13 -17h0m1 30h0m4 -11h0m2 -10h0m10 2h0m8 22h0m1 -11h0m3 -12h0m6 -13h0m0 30h0m0 12h0m6 -28h0m12 22h0m1 -42h0m17 17h0m0 24h0m0 -37h0m0 24h0m10 6h0m8 -25h0m6 11h0m1 14h0m17 -18h0m13 28h0m5 -10h0m0 -30h0m0 14h0m6 25h0m7 -12h0m1 -16h0m10 23h0m0 -31h0m0 11h0m1 33h0m6 -25h0m5 -18h0m1 28h0m0 13h0m5 -24h0m7 -12h0m0 27h0m6 10h0m0 -19h0m6 -27h0m3 35h0m3 -25h0m0 11h0m4 -23h0m1 32h0m14 6h0m5 -24h0m6 -10h0m0 20h0m0 23h0m4 -10h0m3 -25h0m19 28h0m4 -15h0m0 -12h0m6 35h0m6 -40h0m18 21h0m1 -18h0m8 27h0m21 -39h0m0 40h0m0 -29h0m36 34h0m0 -15h0m0 -11h0"/><path d="M1007 710h0m4 -16h0m8 -15h0m0 25h0m1 13h0m3 -23h0m10 15h0m1 -30h0m3 12h0m6 11h0m7 -12h0m17 -4h0m0 11h0m0 18h0m0 -41h0m6 31h0m0 18h0m13 -11h0m1 -36h0m16 14h0m0 -14h0m0 37h0m3 -12h0m11 12h0m4 -39h0m7 24h0m0 -13h0m0 29h0m17 -19h0m13 27h0m5 -12h0m0 -19h0m0 -15h0m7 25h0m0 18h0m7 -10h0m10 3h0m0 -12h0m1 -20h0m0 43h0m12 -41h0m0 16h0m0 11h0m0 -38h0m6 48h0m6 -18h0m2 10h0m4 13h0m0 -47h0m2 10h0m3 15h0m7 -23h0m0 37h0m0 -23h0m24 0h0m0 -12h0m6 43h0m0 -52h0m2 31h0m28 4h0m0 -11h0m2 21h0m10 -32h0m28 30h0m0 -28h0m21 -15h0m5 35h0m30 15h0m0 -19h0m0 -12h0"/><path d="M1008 710h0m5 -20h0m6 -14h0m0 35h0m6 -13h0m9 9h0m3 -22h0m0 -12h0m6 21h0m12 0h0m12 -2h0m0 -15h0m0 25h0m0 14h0m19 5h0m4 -43h0m13 -5h0m0 20h0m0 30h0m6 -11h0m1 -11h0m12 -27h0m6 34h0m1 -17h0m17 4h0m17 17h0m0 -21h0m0 -18h0m7 9h0m9 31h0m8 -9h0m1 -22h0m0 37h0m0 -27h0m7 20h0m0 -38h0m1 24h0m9 17h0m0 -41h0m1 13h0m11 31h0m1 -11h0m1 -22h0m5 13h0m1 -22h0m5 35h0m0 -23h0m4 13h0m2 -24h0m18 8h0m2 11h0m4 -20h0m0 48h0m6 -15h0m24 2h0m0 -20h0m10 23h0m32 0h0m54 5h0m0 -20h0m0 -16h0"/><path d="M1011 712h0m2 -15h0m6 -12h0m6 25h0m0 -12h0m0 -25h0m12 40h0m0 -37h0m0 12h0m0 12h0m18 -13h0m12 4h0m0 -15h0m0 36h0m0 11h0m6 -20h0m30 -28h0m0 18h0m0 29h0m6 -18h0m13 -29h0m8 34h0m3 -21h0m18 -1h0m12 25h0m0 -19h0m0 -13h0m7 24h0m17 13h0m0 -15h0m1 -12h0m0 -16h0m12 22h0m0 -20h0m0 32h0m6 -22h0m11 25h0m1 10h0m2 -21h0m10 -17h0m1 36h0m0 -17h0m23 -23h0m5 14h0m1 32h0m6 -18h0m24 7h0m4 -18h0m92 23h0m0 -24h0"/><path d="M1019 693h0m0 -12h0m1 28h0m17 -28h0m0 31h0m0 -17h0m30 -9h0m0 10h0m0 19h0m0 -41h0m6 31h0m30 -29h0m0 44h0m1 -27h0m6 17h0m13 -29h0m10 9h0m18 -3h0m12 18h0m1 -33h0m0 16h0m5 27h0m1 -18h0m17 21h0m1 -24h0m0 -12h0m0 24h0m12 -11h0m0 10h0m0 12h0m6 -36h0m12 31h0m6 -11h0m6 -17h0m0 -10h0m4 40h0m20 -27h0m6 9h0m0 -18h0m0 39h0m30 -10h0m3 10h0m93 4h0m0 -24h0"/><path d="M1019 696h0m1 -21h0m7 15h0m10 -13h0m0 31h0m0 -16h0m30 2h0m0 -10h0m0 25h0m0 13h0m1 -48h0m35 11h0m0 -11h0m0 41h0m4 -16h0m17 -15h0m10 4h0m30 -12h0m0 29h0m0 -16h0m5 27h0m19 0h0m0 -28h0m0 14h0m0 -29h0m12 22h0m0 15h0m6 -27h0m12 35h0m0 -13h0m12 -25h0m24 3h0m6 11h0m3 25h0m0 -41h0m27 39h0m96 -1h0m0 -18h0"/><path d="M1022 683h0m3 17h0m12 4h0m0 -29h0m0 12h0m1 29h0m29 -20h0m0 -11h0m0 24h0m0 -34h0m6 44h0m30 -45h0m1 15h0m60 -11h0m0 25h0m0 11h0m1 -22h0m23 21h0m0 -33h0m0 12h0m0 11h0m12 -1h0m0 -11h0m5 25h0m1 -40h0m12 38h0m6 -9h0m6 -22h0m24 -5h0m6 16h0m7 17h0m23 1h0m96 12h0m0 -13h0m0 -18h0"/><path d="M1025 692h0m0 -12h0m12 25h0m0 -28h0m2 17h0m28 -10h0m0 17h0m0 12h0m6 9h0m0 -46h0m31 1h0m5 20h0m55 -19h0m0 17h0m0 12h0m6 11h0m18 -9h0m0 -16h0m0 -15h0m5 42h0m7 -25h0m0 10h0m6 11h0m0 -40h0m12 40h0m7 -16h0m5 -22h0m24 10h0m6 -8h0m0 17h0m31 16h0m95 10h0m0 -28h0"/><path d="M1025 699h0m3 -22h0m9 26h0m0 -17h0m30 6h0m0 -13h0m0 28h0m6 12h0m36 -48h0m55 24h0m0 -20h0m2 31h0m3 -21h0m1 31h0m18 -7h0m0 -17h0m1 -16h0m4 45h0m7 -16h0m0 -11h0m6 -20h0m0 39h0m12 8h0m2 -11h0m6 -10h0m4 -18h0m24 0h0m6 11h0m126 27h0"/><path d="M1025 701h0m12 12h0m0 -37h0m30 22h0m0 -18h0m0 31h0m42 -38h0m55 29h0m0 -28h0m0 14h0m5 24h0m19 -11h0m0 17h0m0 -36h0m12 16h0m6 -8h0m0 19h0m1 -33h0m13 37h0m10 -32h0m24 6h0m6 -11h0m0 20h0m126 20h0"/><path d="M1037 709h0m2 -29h0m28 6h0m0 15h0m1 14h0m42 -40h0m54 19h0m5 11h0m1 -21h0m0 -11h0m0 44h0m18 -8h0m0 -14h0m1 -19h0m6 42h0m5 -19h0m6 -10h0m1 24h0m23 -31h0m26 2h0m4 10h0m0 -19h0m126 49h0m0 -11h0"/><path d="M1037 704h0m3 -27h0m27 -1h0m0 27h0m6 11h0m0 -24h0m38 -15h0m53 20h0m6 10h0m0 -31h0m0 42h0m18 -8h0m0 10h0m2 -32h0m4 -11h0m6 19h0m7 18h0m23 -37h0m30 6h0m0 10h0m126 31h0"/><path d="M1037 712h0m30 -33h0m0 24h0m6 9h0m0 -21h0m97 22h0m0 -25h0m0 -12h0m18 25h0m5 16h0m1 -41h0m6 22h0m8 10h0m23 -33h0m29 6h0m4 18h0m122 16h0"/><path d="M1037 707h0m30 -30h0m1 21h0m3 9h0m2 -20h0m0 32h0m97 -38h0m0 14h0m0 13h0m20 -3h0m3 -12h0m12 2h0m28 -13h0m27 1h0"/><path d="M1067 677h0m1 30h0m5 10h0m1 -22h0m96 -6h0m0 26h0m0 -40h0m24 37h0m6 -21h0m60 -11h0m0 11h0"/><path d="M1068 678h0m0 26h0m102 -16h0m24 16h0m6 -13h0m60 -5h0"/><path d="M1068 676h0m3 31h0m99 -18h0m32 7h0m58 -14h0"/><path d="M1068 676h0m5 33h0m97 -12h0m36 -2h0m54 -8h0"/><path d="M1073 684h0m0 22h0m97 -15h0m36 0h0m54 -10h0"/><path d="M1074 711h0m96 -16h0m36 1h0m54 -17h0m2 10h0"/><path d="M1206 697h0m54 -13h0"/><path d="M1206 694h0m54 -10h0"/><path d="M1260 685h0"/><path d="M1260 688h0"/><path d="M1260 685h0"/><path d="M1260 679h0"/><path d="M1260 685h0"/><path d="M1260 685h0"/><path d="M1260 684h0"/><path d="M1260 678h0"/></g><g stroke="#3d98ea" stroke-width="9.8" stroke-linecap="round" stroke-opacity="0.2" fill="none"><path d="M1061 1004h0m0 -41h0m7 26h0m5 -33h0m0 14h0m1 31h0m7 -21h0m1 14h0m4 -34h0m5 30h0m0 -19h0m2 37h0m9 -38h0m2 15h0m4 18h0m2 -42h0m3 16h0m2 12h0m5 -29h0m7 19h0m1 25h0m1 -13h0m5 -27h0m3 19h0m2 14h0m5 -40h0m3 12h0m5 41h0m3 -32h0m4 16h0m1 -36h0m3 11h0m1 38h0m7 -26h0m2 11h0m2 15h0m2 -38h0m5 -9h0m1 28h0m5 14h0m5 -39h0m5 30h0m0 14h0m6 -37h0m14 1h0m3 38h0m0 -18h0m4 -29h0m7 17h0m3 13h0m1 -29h0m4 41h0m2 -32h0m15 19h0m3 -18h0m15 7h0m1 -21h0m2 40h0m9 -16h0m1 26h0m5 -53h0m2 35h0m8 -23h0m5 41h0m7 -18h0m10 18h0m7 -50h0m4 50h0m4 -23h0m16 2h0m10 16h0m8 -34h0m9 6h0m20 -1h0m7 14h0m0 -21h0m18 5h0m30 -7h0m8 22h0m4 -9h0m31 30h0m1 -44h0m13 20h0m7 23h0m2 -35h0m18 27h0m15 5h0m9 -48h0m2 52h0m4 -41h0m9 37h0m21 -39h0m5 31h0m7 -30h0m4 32h0m18 -21h0m2 16h0m14 -16h0m20 -6h0m13 4h0m20 22h0m21 -12h0m5 -22h0m6 15h0m68 -21h0m47 -1h0m62 2h0m0 20h0m0 12h0m89 -6h0m86 -26h0m0 50h0"/><path d="M1067 1001h0m6 -10h0m0 -31h0m6 44h0m3 -36h0m3 13h0m4 -23h0m1 40h0m3 12h0m11 -34h0m0 -15h0m5 42h0m1 -15h0m7 -20h0m3 24h0m0 -13h0m9 20h0m1 -28h0m9 20h0m0 -35h0m7 42h0m5 -21h0m6 11h0m3 -25h0m3 39h0m1 -29h0m5 -15h0m6 36h0m4 -15h0m1 25h0m5 -40h0m2 32h0m3 -13h0m8 25h0m1 -13h0m1 -36h0m6 13h0m15 -1h0m8 37h0m1 -44h0m6 28h0m6 -24h0m19 15h0m3 -15h0m13 7h0m11 34h0m14 -11h0m2 -26h0m34 34h0m42 -31h0m6 10h0m26 -24h0m51 1h0m7 19h0m88 21h0m66 5h0m54 -38h0"/><path d="M1068 1004h0m8 -7h0m3 -40h0m7 9h0m2 34h0m5 -42h0m2 50h0m11 -34h0m3 35h0m1 -16h0m1 -30h0m9 23h0m13 -10h0m6 25h0m0 -42h0m0 31h0m13 -20h0m1 34h0m6 -25h0m2 -21h0m3 39h0m1 12h0m5 -37h0m11 30h0m1 -14h0m0 -14h0m12 -9h0m5 40h0m3 -15h0m7 -12h0m12 -14h0m18 22h0m6 -14h0m21 14h0m37 11h0m1 -35h0m35 46h0"/><path d="M1081 955h0m1 42h0m9 -33h0m4 29h0m11 -23h0m1 13h0m4 20h0m6 -11h0m3 -30h0m7 25h0m11 -19h0m7 20h0m3 10h0m4 -29h0m8 7h0m2 -13h0m1 23h0m3 19h0m16 -27h0m5 20h0m13 -31h0m3 42h0m8 -36h0m17 -5h0m14 21h0m5 -26h0"/><path d="M1096 1002h0m14 -34h0m2 33h0m16 -14h0m17 4h0m12 -16h0m3 10h0m0 -20h0m8 12h0m1 -20h0m19 32h0m16 13h0m26 -36h0m13 27h0"/><path d="M1114 1008h0m46 -25h0m2 -24h0m2 14h0m26 16h0m40 -26h0"/><path d="M1115 999h0m46 -23h0m2 10h0"/><path d="M1116 1009h0m47 -23h0m3 -13h0"/></g><g stroke="#f2ae9f" stroke-width="9.8" stroke-linecap="round" stroke-opacity="0.2" fill="none"><path d="M1258 1268h0m1 -25h0m0 38h0m1 13h0m2 -40h0m9 8h0m1 14h0m0 19h0m6 -51h0m3 11h0m3 34h0m0 -22h0m6 11h0m0 -32h0m4 16h0m0 30h0m5 -17h0m8 13h0m1 -39h0m5 28h0m7 10h0m0 -46h0m5 19h0m5 13h0m3 -22h0m3 43h0m2 -10h0m6 -42h0m0 13h0m0 11h0m4 15h0m7 -32h0m6 37h0m1 -16h0m3 -13h0m1 -12h0m3 35h0m3 15h0m4 -53h0m2 14h0m3 20h0m0 13h0m5 -22h0m0 -22h0m6 34h0m4 -22h0m2 12h0m0 -27h0m0 53h0m8 -46h0m1 35h0m3 11h0m4 -31h0m2 -20h0m0 35h0m6 11h0m0 -37h0m0 18h0m6 -9h0m0 -20h0m4 43h0m2 -14h0m0 -20h0m3 44h0m3 -16h0m2 -21h0m2 10h0m2 -20h0m0 41h0m6 -11h0m0 -22h0m4 -12h0m1 47h0m1 -22h0m6 -10h0m0 19h0m2 -37h0m4 48h0m0 -20h0m3 -16h0m2 25h0m2 -37h0m3 53h0m0 -29h0m3 -15h0m1 33h0m4 -42h0m1 31h0m2 -14h0m0 37h0m5 -13h0m2 -17h0m1 -20h0m5 11h0m1 33h0m1 -14h0m3 -32h0m2 22h0m4 28h0m3 -16h0m0 -23h0m2 -11h0m4 23h0m0 19h0m4 -29h0m2 -10h0m0 30h0m3 19h0m4 -10h0m1 -19h0m1 -13h0m7 43h0m1 -36h0m0 19h0m1 -31h0m5 23h0m2 15h0m3 -45h0m1 21h0m2 33h0m2 -44h0m1 23h0m2 11h0m3 -43h0m1 22h0m2 29h0m2 -42h0m4 25h0m2 -35h0m2 48h0m2 -26h0m1 -10h0m4 20h0m1 22h0m1 -50h0m0 38h0m5 -27h0m1 11h0m4 23h0m0 -46h0m0 33h0m6 -17h0m4 9h0m1 22h0m1 -50h0m1 11h0m3 30h0m4 -16h0m2 -25h0m2 52h0m1 -41h0m1 22h0m6 -8h0m1 -25h0m1 40h0m2 -30h0m2 44h0m3 -35h0m2 10h0m1 16h0m0 -44h0m6 12h0m1 39h0m2 -19h0m1 -11h0m1 -22h0m4 47h0m1 -35h0m4 19h0m3 23h0m1 -13h0m0 -41h0m2 20h0m0 -10h0m7 41h0m1 -18h0m1 -33h0m1 15h0m5 27h0m1 -15h0m0 -20h0m2 47h0m4 -38h0m2 20h0m2 -30h0m2 45h0m0 -25h0m5 -12h0m1 28h0m2 -39h0m2 21h0m2 28h0m3 -18h0m1 -21h0m5 -11h0m1 40h0m2 11h0m0 -31h0m5 10h0m1 -24h0m3 34h0m1 -25h0m2 37h0m4 -27h0m3 -26h0m4 48h0m1 -31h0m2 12h0m4 -27h0m0 38h0m6 -20h0m1 31h0m1 -18h0m1 -25h0m3 -9h0m4 45h0m1 -22h0m6 -16h0m1 28h0m4 18h0m2 -35h0m4 -13h0m1 29h0m1 11h0m6 -30h0m6 26h0m2 -17h0m1 -15h0m0 44h0m7 -18h0m2 -16h0m4 -17h0m2 46h0m0 -21h0m4 -12h0m2 24h0m2 -39h0m3 52h0m2 -31h0m5 -10h0m0 30h0m3 -12h0m4 25h0m3 -34h0m1 -18h0m1 41h0m6 -11h0m0 20h0m1 -40h0m7 10h0m3 -14h0m1 39h0m0 -11h0m6 -9h0m6 17h0m0 -39h0m0 13h0m5 35h0m7 -45h0m0 12h0m0 22h0m9 -10h0m1 -21h0m1 41h0m2 -52h0m4 44h0m1 -23h0m2 -14h0m2 26h0m8 -11h0m0 -10h0m0 28h0m1 14h0m1 -54h0m9 14h0m2 15h0m1 15h0m0 -40h0m5 49h0m5 -23h0m0 13h0m1 -36h0m1 12h0m8 16h0m5 -15h0m3 -18h0m0 48h0m2 -19h0m5 -16h0m6 38h0m0 -11h0m1 -36h0m5 20h0m2 -12h0m1 22h0m5 16h0m3 -32h0m2 -15h0m9 41h0m2 -14h0m6 -31h0m0 11h0m3 32h0m3 -14h0m4 -22h0m1 43h0m0 -31h0m7 20h0m0 -40h0m2 12h0m4 39h0m0 -27h0m8 -21h0m1 43h0m1 -18h0m8 -9h0m0 32h0m6 -20h0m1 -22h0m5 12h0m0 19h0m3 11h0m3 -48h0m7 44h0m0 -21h0m5 -13h0m2 24h0m4 12h0m0 -47h0m3 25h0m3 14h0m0 -26h0m5 -11h0m3 48h0m4 -27h0m0 12h0m0 -24h0m5 -10h0m4 29h0m3 12h0m1 -21h0m3 -10h0m2 40h0m5 -53h0m1 37h0m0 -10h0m3 -11h0m6 26h0m3 -10h0m0 -30h0m0 20h0m1 30h0m5 -41h0m4 27h0m0 -38h0m2 48h0m0 -26h0m9 18h0m3 -27h0m0 14h0m4 20h0m2 -45h0m8 15h0m2 35h0m6 -49h0m2 42h0m0 -15h0m0 -13h0m11 31h0m0 -41h0m0 14h0m4 10h0m5 -18h0m3 26h0m1 -15h0m10 20h0m0 -36h0m2 46h0m0 -26h0m7 -27h0m0 18h0m2 15h0m3 13h0m4 -35h0m2 17h0m6 -11h0m0 -12h0m5 26h0m2 15h0m4 -26h0m2 -12h0m2 23h0m3 19h0m12 -3h0m0 -27h0m1 -14h0m6 28h0m5 -16h0m0 32h0m0 -44h0m10 7h0m3 15h0m2 11h0m3 -35h0m1 49h0m3 -35h0m3 13h0m5 19h0m1 -10h0m5 -38h0m1 13h0m8 -6h0m3 40h0m1 -25h0m2 11h0m7 -20h0m2 -14h0m1 46h0m0 -17h0m6 -9h0m3 23h0m1 -36h0m2 25h0m6 -8h0m2 21h0m4 -40h0m3 30h0m3 -11h0m4 -24h0m1 49h0m1 -39h0m1 27h0m6 -10h0m2 23h0m3 -33h0m0 -18h0m5 9h0m1 17h0m3 12h0m0 15h0m6 -49h0m3 13h0m0 31h0m0 -20h0m5 11h0m6 -32h0m1 12h0m1 11h0m9 -4h0m2 -27h0m0 53h0m0 -42h0m6 9h0m5 15h0m1 -24h0m0 38h0m8 -49h0m3 10h0m1 22h0m11 -20h0m1 40h0m0 -19h0m4 -11h0m2 -22h0m3 43h0m3 -34h0m0 21h0m6 -10h0m2 28h0m4 -43h0m5 16h0m0 14h0m1 11h0m7 -42h0m3 19h0m8 13h0m6 -26h0m0 43h0m0 -26h0m18 24h0m0 -30h0m0 -16h0m6 29h0m4 -26h0m1 14h0m2 19h0m8 -11h0m1 -16h0m6 33h0m6 -20h0m0 -23h0m0 35h0m9 -19h0m1 24h0m0 -14h0m4 -23h0m6 24h0m2 -31h0m1 41h0m3 -21h0m6 32h0m0 -50h0m0 35h0m9 -11h0m2 -24h0m5 37h0m2 -25h0m1 11h0m2 26h0m2 -47h0m6 23h0m10 9h0m3 -21h0m7 37h0m1 -19h0m3 -11h0m2 -15h0m5 40h0m4 -35h0m2 -12h0m1 31h0m12 -23h0m2 22h0m4 13h0m0 -23h0m2 -19h0m9 32h0m0 15h0m1 -32h0m11 0h0m4 20h0m6 -36h0m0 51h0m0 -30h0m9 17h0m2 -36h0m4 10h0m12 16h0m6 25h0m5 -29h0m1 18h0m17 12h0m1 -18h0m0 -33h0m0 12h0m6 30h0m0 -18h0m11 -19h0m1 17h0m18 18h0m6 -10h0m14 -30h0m2 12h0m2 34h0m6 -22h0m6 12h0m13 0h0m17 5h0m9 -11h0m8 -26h0m2 41h0m5 -11h0m6 -18h0m14 24h0m4 -30h0m18 39h0m7 -14h0m3 -22h0m26 32h0m6 -21h0m6 -12h0m3 20h0m0 19h0m23 -41h0m4 39h0m0 -30h0m24 -17h0m1 32h0m18 9h0m2 -37h0m0 20h0m10 -6h0m19 -10h0m5 34h0m11 -10h0m7 8h0m11 -38h0m4 31h0m8 -32h0m7 45h0m14 -5h0m27 -17h0m7 -13h0m0 28h0m1 10h0m11 -37h0m0 31h0m8 -48h0m0 27h0m0 15h0m10 -22h0m12 -15h0m9 11h0m9 -11h0m6 29h0m18 -17h0m0 16h0m11 5h0m12 13h0m8 -38h0m0 13h0m0 16h0m12 -15h0m54 -9h0m1 17h0m5 13h0m16 -31h0m0 -13h0"/><path d="M1259 1269h0m0 17h0m0 -28h0m0 -15h0m13 38h0m0 -18h0m5 -8h0m9 -7h0m3 18h0m1 16h0m4 10h0m0 -37h0m0 -13h0m8 28h0m6 -24h0m0 37h0m1 12h0m7 -23h0m2 14h0m6 -39h0m2 15h0m9 -18h0m3 15h0m0 27h0m7 -39h0m3 26h0m0 17h0m0 -28h0m9 -10h0m5 37h0m0 -12h0m0 -34h0m9 7h0m2 36h0m8 -21h0m0 -10h0m0 24h0m0 -36h0m0 51h0m11 -44h0m0 11h0m0 21h0m0 -10h0m6 -31h0m4 36h0m2 -15h0m0 28h0m3 -40h0m6 29h0m1 -10h0m0 23h0m2 -51h0m0 16h0m8 19h0m1 -30h0m1 41h0m1 -29h0m7 7h0m0 13h0m0 15h0m2 -40h0m4 -10h0m4 41h0m1 -14h0m1 -18h0m4 44h0m2 -34h0m0 -21h0m1 38h0m5 -29h0m2 41h0m3 -50h0m0 28h0m1 13h0m5 -27h0m1 39h0m3 -29h0m1 -20h0m2 35h0m4 -23h0m2 33h0m0 -20h0m3 -29h0m3 37h0m0 -16h0m5 -14h0m0 44h0m5 -11h0m1 -16h0m3 -23h0m3 49h0m1 -35h0m1 18h0m5 -28h0m0 19h0m1 19h0m5 10h0m0 -39h0m1 18h0m5 -32h0m1 44h0m1 -20h0m3 -13h0m5 25h0m2 19h0m0 -36h0m3 -14h0m3 37h0m0 -14h0m5 -15h0m1 -11h0m0 51h0m5 -12h0m1 -21h0m1 11h0m5 20h0m0 -50h0m4 26h0m1 15h0m1 -29h0m4 -9h0m1 50h0m2 -19h0m2 -13h0m5 -22h0m0 12h0m3 39h0m0 -17h0m2 -12h0m5 21h0m1 -33h0m2 19h0m1 25h0m2 -54h0m1 19h0m5 -11h0m0 32h0m1 -12h0m5 22h0m1 -50h0m0 19h0m4 11h0m2 -22h0m0 33h0m4 10h0m2 -32h0m0 -19h0m3 37h0m2 -27h0m2 17h0m1 25h0m3 -52h0m4 43h0m0 -24h0m1 14h0m2 21h0m0 -46h0m7 17h0m1 20h0m2 -30h0m2 -14h0m0 33h0m4 19h0m1 -28h0m4 -17h0m1 31h0m5 11h0m0 -29h0m2 10h0m1 -30h0m2 11h0m4 29h0m0 13h0m4 -50h0m1 28h0m1 -13h0m5 31h0m1 -10h0m0 -29h0m6 15h0m0 -26h0m3 16h0m1 25h0m2 12h0m2 -46h0m3 23h0m5 -10h0m2 26h0m0 -43h0m3 32h0m3 20h0m1 -42h0m5 13h0m0 -25h0m2 45h0m4 -31h0m4 12h0m2 13h0m0 -36h0m1 50h0m5 -40h0m3 22h0m1 -35h0m2 24h0m0 22h0m6 -36h0m4 18h0m1 11h0m1 -38h0m4 11h0m2 41h0m6 -23h0m4 17h0m2 -43h0m0 15h0m3 18h0m5 -25h0m2 34h0m2 -15h0m6 -23h0m0 11h0m4 26h0m3 -12h0m4 -17h0m1 -15h0m3 25h0m1 23h0m2 -12h0m3 -28h0m3 10h0m4 14h0m2 17h0m0 -49h0m4 20h0m2 19h0m4 -36h0m2 10h0m2 37h0m4 -14h0m2 -14h0m3 -12h0m1 -11h0m0 46h0m6 -10h0m3 16h0m2 -44h0m4 17h0m8 -23h0m1 41h0m6 -14h0m0 -15h0m6 -12h0m0 35h0m0 12h0m6 -23h0m0 -15h0m6 37h0m0 -47h0m1 34h0m4 -24h0m7 29h0m0 -17h0m6 26h0m1 -42h0m4 21h0m1 -11h0m6 18h0m4 -30h0m3 11h0m5 21h0m3 -13h0m3 -20h0m0 45h0m11 -7h0m2 -15h0m4 -13h0m1 37h0m2 -16h0m1 -30h0m9 3h0m1 40h0m5 -12h0m4 -26h0m7 27h0m1 12h0m1 -30h0m6 -9h0m7 34h0m5 -33h0m0 19h0m2 -29h0m3 40h0m6 -10h0m0 -24h0m0 45h0m0 -33h0m7 19h0m5 -30h0m1 39h0m2 -25h0m7 -12h0m2 29h0m3 -16h0m2 28h0m6 -10h0m8 -15h0m6 18h0m6 9h0m0 -43h0m5 20h0m1 11h0m5 -22h0m1 -19h0m2 48h0m4 -11h0m2 -30h0m4 16h0m6 27h0m2 -38h0m7 -10h0m3 26h0m0 14h0m3 -25h0m3 35h0m3 -49h0m9 6h0m0 18h0m0 13h0m11 -20h0m1 11h0m0 -26h0m6 39h0m3 -25h0m3 -18h0m0 51h0m0 -19h0m12 -25h0m0 39h0m0 -24h0m12 -4h0m6 17h0m0 -29h0m6 17h0m0 26h0m4 -35h0m2 25h0m4 -12h0m6 -20h0m2 38h0m6 -21h0m5 -12h0m1 38h0m0 -15h0m2 -34h0m6 14h0m3 19h0m1 14h0m1 -50h0m5 12h0m6 24h0m5 -13h0m2 31h0m0 -51h0m8 40h0m2 -19h0m7 26h0m0 -17h0m7 -24h0m8 9h0m4 13h0m0 -31h0m0 41h0m5 12h0m4 -33h0m0 -12h0m6 22h0m2 19h0m0 -49h0m0 14h0m7 23h0m0 -13h0m5 29h0m7 -50h0m0 35h0m2 -19h0m9 -18h0m1 14h0m0 17h0m2 22h0m9 -34h0m0 -14h0m1 37h0m0 -12h0m12 -12h0m0 27h0m0 -44h0m6 33h0m6 -10h0m2 -21h0m6 9h0m3 9h0m1 16h0m1 15h0m0 -49h0m9 36h0m4 14h0m1 -47h0m3 13h0m0 12h0m3 12h0m9 -42h0m0 13h0m0 39h0m0 -17h0m6 -11h0m12 -3h0m3 11h0m3 -32h0m5 10h0m1 11h0m0 24h0m6 -16h0m2 -27h0m4 47h0m7 -27h0m8 -16h0m3 46h0m0 -33h0m1 23h0m7 -40h0m4 29h0m0 -12h0m0 29h0m10 -35h0m2 37h0m5 -10h0m7 9h0m10 -32h0m8 13h0m0 -24h0m0 44h0m8 -37h0m16 2h0m0 -11h0m1 25h0m11 -13h0m0 19h0m2 10h0m6 -35h0m8 36h0m0 -22h0m1 11h0m8 -29h0m1 11h0m0 26h0m10 -24h0m3 23h0m2 -42h0m7 36h0m1 -25h0m7 39h0m4 -30h0m0 10h0m0 -23h0m6 33h0m6 -36h0m0 17h0m0 31h0m15 -21h0m8 -23h0m8 9h0m5 -12h0m1 36h0m0 -14h0m6 24h0m0 -34h0m13 -2h0m5 33h0m0 -13h0m6 -11h0m9 26h0m3 -31h0m9 -10h0m3 32h0m1 -14h0m2 -28h0m16 42h0m6 -27h0m23 2h0m0 28h0m12 0h0m6 -42h0m0 19h0m3 12h0m14 -24h0m20 20h0m17 -25h0m6 18h0m12 21h0m24 -10h0m12 3h0m3 -12h0m6 -17h0m9 33h0m6 -16h0m12 23h0m30 -8h0m27 9h0m12 -28h0m0 20h0m27 -35h0m45 3h0m0 30h0m40 2h0m6 -10h0m8 11h0m70 -22h0m6 24h0m13 4h0m7 -42h0m0 12h0m10 26h0m42 -12h0m18 -17h0m25 35h0m0 -25h0m88 -18h0m0 17h0"/><path d="M1259 1268h0m0 17h0m0 -41h0m13 43h0m6 -36h0m12 25h0m0 -13h0m0 -13h0m0 38h0m11 3h0m5 -14h0m2 -31h0m13 45h0m4 -43h0m7 10h0m14 27h0m2 -37h0m0 21h0m5 -10h0m9 -8h0m0 33h0m0 -14h0m12 17h0m5 -31h0m2 18h0m0 -28h0m3 49h0m6 -28h0m0 14h0m2 -32h0m6 10h0m0 14h0m0 18h0m5 -49h0m4 41h0m3 -26h0m0 36h0m3 -49h0m1 30h0m5 10h0m0 -20h0m3 -10h0m1 39h0m2 -49h0m3 33h0m1 -15h0m4 32h0m2 -46h0m3 36h0m1 -17h0m6 -14h0m1 39h0m0 -14h0m3 -37h0m1 26h0m6 21h0m0 -30h0m1 17h0m1 -27h0m6 20h0m2 22h0m2 -47h0m2 33h0m0 -21h0m5 10h0m1 29h0m5 -43h0m1 27h0m5 -18h0m1 28h0m0 -44h0m4 27h0m6 -16h0m1 28h0m1 -41h0m1 23h0m0 30h0m6 -45h0m2 22h0m0 14h0m3 -27h0m6 20h0m0 13h0m0 -42h0m1 17h0m6 -9h0m1 -14h0m2 43h0m2 -13h0m4 -23h0m4 37h0m1 -21h0m3 -21h0m1 33h0m3 -20h0m2 30h0m1 -19h0m3 -29h0m3 39h0m0 -26h0m5 14h0m0 25h0m3 -47h0m3 13h0m0 22h0m4 9h0m2 -18h0m2 -30h0m2 12h0m8 36h0m0 -21h0m1 -25h0m1 13h0m5 20h0m2 10h0m1 -21h0m3 -14h0m0 -11h0m5 36h0m0 18h0m1 -35h0m5 -17h0m0 43h0m2 -18h0m4 27h0m1 -38h0m1 19h0m3 -29h0m1 20h0m4 22h0m3 -33h0m2 23h0m3 -10h0m1 -22h0m6 45h0m0 -32h0m1 20h0m4 -34h0m0 24h0m5 16h0m2 -30h0m5 -14h0m1 32h0m0 21h0m2 -33h0m4 22h0m0 -33h0m4 22h0m4 -30h0m0 47h0m0 -31h0m8 22h0m1 -12h0m1 -19h0m0 45h0m6 -34h0m0 -20h0m3 43h0m2 11h0m1 -21h0m0 -21h0m5 -12h0m1 23h0m3 18h0m2 12h0m0 -42h0m7 12h0m0 12h0m0 10h0m0 -44h0m6 13h0m3 36h0m2 -17h0m1 -30h0m2 19h0m4 20h0m4 -33h0m2 18h0m4 11h0m2 14h0m2 -43h0m4 23h0m2 -13h0m1 28h0m3 -43h0m5 32h0m1 -22h0m4 35h0m1 -22h0m6 -13h0m2 26h0m5 -13h0m0 -25h0m5 34h0m1 14h0m0 -38h0m6 8h0m4 12h0m1 20h0m0 -43h0m9 7h0m0 22h0m1 -11h0m1 26h0m2 -52h0m5 9h0m1 27h0m6 -8h0m0 23h0m0 -50h0m0 17h0m6 22h0m3 -32h0m2 11h0m1 29h0m1 -17h0m8 -10h0m1 -15h0m3 28h0m1 16h0m4 -38h0m8 -11h0m0 28h0m2 18h0m2 -30h0m7 -13h0m2 20h0m9 17h0m0 -22h0m0 -15h0m7 47h0m5 -11h0m0 -21h0m1 -18h0m5 9h0m4 27h0m1 16h0m7 -48h0m1 23h0m0 -12h0m4 25h0m7 -14h0m1 -11h0m2 -10h0m1 31h0m9 -12h0m1 -16h0m5 33h0m6 -12h0m1 -31h0m3 19h0m1 28h0m8 -14h0m5 15h0m1 -25h0m5 16h0m11 -26h0m1 35h0m4 -18h0m6 -15h0m2 32h0m6 -25h0m0 -15h0m9 38h0m4 -36h0m5 24h0m5 -28h0m0 38h0m0 -27h0m0 38h0m7 -20h0m6 10h0m0 -27h0m7 7h0m1 27h0m4 -15h0m0 -24h0m17 25h0m7 -12h0m0 22h0m6 -43h0m4 50h0m4 -39h0m4 18h0m6 -10h0m1 31h0m9 -42h0m2 20h0m6 13h0m5 -36h0m1 14h0m11 -3h0m1 30h0m5 -44h0m2 26h0m5 10h0m0 -28h0m9 22h0m3 -34h0m0 48h0m0 -24h0m6 -11h0m6 18h0m6 9h0m0 -19h0m2 -14h0m11 3h0m5 11h0m0 13h0m6 -27h0m0 37h0m8 -27h0m3 28h0m7 -38h0m6 35h0m1 -14h0m5 -20h0m3 31h0m1 -20h0m8 7h0m0 23h0m7 -41h0m9 17h0m4 14h0m3 11h0m7 -22h0m6 19h0m12 -39h0m7 25h0m0 15h0m5 -31h0m1 -11h0m11 35h0m0 -22h0m1 -20h0m4 9h0m8 18h0m0 18h0m7 -33h0m10 6h0m1 -13h0m0 34h0m4 -10h0m4 18h0m3 -36h0m0 10h0m1 14h0m12 -18h0m0 -14h0m0 42h0m8 -14h0m11 -24h0m5 17h0m0 22h0m14 -16h0m4 19h0m5 -22h0m1 13h0m6 -38h0m0 16h0m5 35h0m7 -21h0m7 -19h0m5 18h0m0 -27h0m6 17h0m2 32h0m21 -27h0m7 18h0m0 -33h0m12 30h0m0 -42h0m0 12h0m0 16h0m12 25h0m0 -32h0m5 -14h0m6 34h0m19 -4h0m0 -34h0m1 23h0m0 25h0m23 -30h0m0 -20h0m12 39h0m10 8h0m2 -39h0m4 25h0m0 -12h0m10 7h0m0 -11h0m1 28h0m10 -17h0m3 15h0m3 -30h0m0 -11h0m5 34h0m13 -31h0m5 21h0m7 8h0m0 15h0m0 -42h0m20 23h0m16 -30h0m0 19h0m6 20h0m6 -25h0m12 35h0m0 -27h0m0 12h0m15 -9h0m18 -17h0m3 22h0m16 8h0m42 3h0m2 12h0m0 -29h0m45 8h0m63 3h0m18 -25h0m87 13h0m0 15h0m4 -25h0m68 29h0m130 -22h0m0 17h0m20 4h0m0 -33h0m10 10h0m86 24h0m87 -21h0"/><path d="M1259 1280h0m0 -31h0m1 11h0m12 30h0m12 -43h0m6 27h0m0 -18h0m4 -10h0m0 40h0m2 -21h0m13 -10h0m20 -3h0m19 -1h0m0 35h0m5 -9h0m9 -24h0m0 40h0m4 -12h0m2 -12h0m9 19h0m3 -38h0m1 28h0m0 -12h0m11 -22h0m1 30h0m0 13h0m5 -24h0m4 -16h0m2 28h0m3 18h0m7 -38h0m0 27h0m0 -11h0m2 -29h0m2 53h0m4 -33h0m3 16h0m2 -29h0m1 45h0m4 -23h0m2 13h0m0 -27h0m5 37h0m2 -46h0m1 18h0m1 10h0m3 10h0m2 -30h0m4 14h0m0 -25h0m3 47h0m1 -10h0m2 -21h0m5 -12h0m1 22h0m5 -12h0m1 28h0m2 -44h0m4 27h0m1 -18h0m5 9h0m0 21h0m0 11h0m1 -51h0m3 29h0m2 -19h0m4 35h0m2 -23h0m4 10h0m2 -33h0m0 13h0m3 34h0m3 -22h0m4 -24h0m1 33h0m1 -23h0m0 43h0m2 -10h0m4 -18h0m4 -10h0m2 36h0m1 -48h0m1 33h0m3 -11h0m3 20h0m1 -33h0m3 -9h0m0 32h0m5 18h0m2 -32h0m2 21h0m2 -35h0m2 24h0m2 20h0m3 -36h0m3 25h0m3 -39h0m4 25h0m4 22h0m0 -31h0m2 18h0m1 -29h0m7 47h0m0 -33h0m2 -19h0m0 35h0m8 7h0m0 -16h0m2 -10h0m1 -17h0m5 35h0m0 17h0m1 -42h0m2 15h0m2 -25h0m2 44h0m4 -25h0m1 11h0m0 23h0m1 -46h0m5 35h0m4 -40h0m0 14h0m1 37h0m2 -25h0m5 16h0m1 -34h0m5 22h0m1 -11h0m2 -18h0m1 39h0m3 10h0m2 -37h0m3 17h0m1 -32h0m6 47h0m0 -25h0m2 -13h0m4 24h0m3 -16h0m3 -13h0m0 47h0m5 -19h0m1 11h0m0 -30h0m6 -11h0m0 51h0m5 -20h0m1 -14h0m0 25h0m2 -35h0m3 44h0m1 -54h0m4 35h0m2 -14h0m0 25h0m5 -41h0m2 25h0m2 -16h0m2 35h0m7 -20h0m0 -20h0m0 33h0m6 11h0m0 -34h0m4 -11h0m1 32h0m1 -11h0m6 -10h0m0 30h0m3 -48h0m3 34h0m2 -24h0m4 15h0m1 27h0m4 -14h0m1 -39h0m0 16h0m4 33h0m2 -19h0m4 -25h0m2 17h0m2 21h0m4 -10h0m0 20h0m2 -44h0m10 39h0m0 -13h0m0 -11h0m0 -19h0m6 11h0m6 -11h0m1 21h0m1 15h0m4 11h0m6 -37h0m3 19h0m3 14h0m0 -25h0m0 -19h0m8 32h0m1 -17h0m3 -15h0m1 42h0m4 -18h0m1 26h0m5 -51h0m1 33h0m0 -16h0m6 29h0m4 -31h0m3 20h0m3 10h0m2 -20h0m0 -23h0m8 8h0m1 27h0m9 -16h0m6 -19h0m6 34h0m0 -15h0m1 25h0m3 -35h0m8 38h0m1 -26h0m0 13h0m2 -24h0m2 -11h0m7 45h0m0 -16h0m2 -19h0m9 20h0m2 12h0m6 -25h0m0 -11h0m14 21h0m3 -14h0m4 24h0m3 10h0m1 -22h0m2 -29h0m3 12h0m9 19h0m6 14h0m3 -23h0m11 -18h0m1 39h0m6 -12h0m0 -12h0m6 34h0m0 -13h0m0 -29h0m16 31h0m5 -24h0m3 -14h0m5 40h0m0 -13h0m3 23h0m3 -42h0m1 11h0m3 10h0m15 -13h0m4 26h0m2 -17h0m15 1h0m3 -10h0m1 25h0m11 8h0m17 -22h0m0 -16h0m1 30h0m12 -39h0m0 46h0m6 -21h0m6 -10h0m6 32h0m6 -46h0m6 18h0m12 8h0m0 -28h0m2 12h0m0 30h0m10 -29h0m1 11h0m5 17h0m7 -44h0m9 18h0m3 -15h0m0 32h0m8 -10h0m8 11h0m8 -34h0m1 40h0m10 -8h0m0 -32h0m1 19h0m11 3h0m0 15h0m1 11h0m7 -44h0m20 36h0m3 -23h0m12 24h0m12 -35h0m0 33h0m0 -17h0m12 -21h0m5 42h0m1 -31h0m0 19h0m6 -35h0m6 17h0m1 22h0m4 12h0m4 -26h0m3 -18h0m6 28h0m6 12h0m0 -22h0m5 -23h0m1 14h0m0 20h0m6 8h0m6 -33h0m0 15h0m11 16h0m7 -11h0m5 -19h0m2 34h0m5 -26h0m18 28h0m0 -20h0m6 -18h0m1 27h0m5 -16h0m0 -20h0m18 17h0m0 14h0m6 -31h0m6 27h0m24 17h0m0 -35h0m12 28h0m0 -29h0m0 15h0m17 -16h0m0 38h0m30 -14h0m19 -17h0m16 25h0m12 7h0m0 -26h0m10 4h0m0 12h0m13 -12h0m3 22h0m2 -47h0m8 40h0m14 -32h0m6 21h0m1 23h0m36 -31h0m7 21h0m17 -7h0m24 -12h0m9 -19h0m63 48h0m0 -34h0m213 4h0m0 11h0m202 3h0m20 -21h0m0 32h0"/><path d="M1259 1283h0m1 -10h0m0 -22h0m12 30h0m18 -17h0m0 18h0m4 -32h0m0 45h0m5 -35h0m33 0h0m16 -18h0m0 14h0m0 33h0m3 -13h0m11 -25h0m0 26h0m1 16h0m18 -43h0m0 31h0m0 12h0m0 -29h0m12 22h0m2 -12h0m3 -26h0m0 12h0m9 17h0m2 14h0m0 -44h0m5 15h0m2 10h0m5 13h0m1 -40h0m0 12h0m6 20h0m1 14h0m4 -36h0m1 -11h0m0 21h0m6 31h0m0 -17h0m5 -9h0m1 -24h0m0 13h0m2 28h0m8 -15h0m2 -29h0m0 52h0m2 -41h0m4 31h0m0 -21h0m6 -18h0m2 30h0m2 -21h0m1 37h0m1 -26h0m6 -20h0m0 34h0m5 -22h0m1 12h0m0 25h0m5 -14h0m1 -32h0m4 10h0m5 -16h0m0 30h0m1 13h0m2 -33h0m4 10h0m2 17h0m2 13h0m4 -41h0m0 19h0m1 -30h0m6 46h0m3 -21h0m0 -17h0m2 29h0m6 12h0m1 -32h0m2 -11h0m1 23h0m8 17h0m0 -23h0m0 -12h0m2 -10h0m4 36h0m4 13h0m2 -35h0m5 14h0m1 12h0m1 -40h0m2 52h0m2 -41h0m7 -12h0m0 38h0m2 14h0m1 -25h0m1 -17h0m7 35h0m1 -44h0m1 18h0m0 15h0m6 20h0m2 -47h0m2 20h0m1 16h0m1 -26h0m6 18h0m4 10h0m1 -44h0m1 25h0m0 -14h0m5 24h0m1 16h0m2 -33h0m3 -15h0m4 26h0m0 19h0m3 -33h0m4 -12h0m2 36h0m0 -15h0m3 29h0m3 -41h0m2 20h0m4 11h0m0 -40h0m0 19h0m6 -10h0m1 38h0m1 -17h0m4 -33h0m0 21h0m4 24h0m2 -33h0m0 21h0m4 -11h0m2 -22h0m0 52h0m4 -10h0m3 -26h0m0 14h0m3 -23h0m2 42h0m5 -9h0m1 -17h0m2 -22h0m1 11h0m3 40h0m3 -19h0m3 -29h0m0 14h0m6 25h0m0 -16h0m6 -19h0m0 43h0m6 -20h0m6 -10h0m0 -13h0m0 35h0m8 -14h0m3 -18h0m7 -9h0m0 45h0m0 -26h0m6 16h0m0 -26h0m7 10h0m1 -21h0m1 43h0m3 -33h0m5 41h0m1 -21h0m6 -21h0m0 11h0m0 21h0m6 -12h0m0 22h0m3 -48h0m3 12h0m5 16h0m1 14h0m0 -46h0m9 36h0m2 -14h0m0 -12h0m3 38h0m10 -24h0m0 16h0m0 -32h0m2 43h0m8 -18h0m1 -13h0m1 -10h0m11 7h0m2 27h0m4 -15h0m1 -22h0m0 47h0m12 -46h0m0 40h0m1 -17h0m11 -7h0m2 -19h0m4 28h0m0 13h0m5 -34h0m1 12h0m6 28h0m6 -33h0m0 16h0m0 -29h0m6 49h0m7 -28h0m0 14h0m0 -30h0m12 22h0m0 -19h0m0 31h0m5 -23h0m12 3h0m1 -11h0m8 17h0m4 18h0m10 -11h0m4 -12h0m3 27h0m13 -44h0m0 35h0m11 -32h0m1 16h0m0 22h0m17 -9h0m7 -25h0m2 -13h0m3 38h0m0 -11h0m0 23h0m7 -35h0m4 18h0m16 -25h0m20 19h0m4 14h0m10 5h0m18 -28h0m12 -14h0m6 17h0m12 27h0m0 -33h0m6 -15h0m6 31h0m1 -14h0m11 9h0m4 12h0m2 -23h0m7 12h0m8 17h0m15 -33h0m3 15h0m3 -27h0m25 33h0m11 -25h0m6 26h0m9 -26h0m27 19h0m19 -23h0m0 20h0m5 21h0m12 -9h0m1 -23h0m0 11h0m3 -21h0m15 42h0m9 -30h0m4 25h0m0 -40h0m8 27h0m3 -12h0m0 30h0m0 -42h0m12 14h0m0 23h0m12 -3h0m12 -13h0m1 -17h0m0 34h0m23 -17h0m1 24h0m5 -42h0m3 10h0m3 27h0m18 -18h0m6 -21h0m6 14h0m24 -1h0m0 -14h0m12 36h0m0 -33h0m4 21h0m13 -17h0m77 43h0m10 -29h0m17 -2h0m5 16h0m29 6h0m62 -13h0m27 -27h0m63 47h0m213 -22h0m202 -3h0m20 19h0"/><path d="M1259 1285h0m1 -36h0m0 21h0m30 -11h0m0 19h0m4 -9h0m0 -24h0m0 46h0m54 -42h0m2 39h0m12 -43h0m19 36h0m0 -17h0m2 -18h0m3 44h0m9 -10h0m3 -33h0m0 10h0m0 12h0m12 -20h0m0 31h0m0 13h0m4 -28h0m7 -8h0m0 24h0m1 -40h0m0 52h0m6 -21h0m2 -12h0m1 -10h0m2 39h0m5 -10h0m2 -11h0m3 -21h0m0 45h0m3 -35h0m2 18h0m4 10h0m0 -20h0m0 -22h0m6 32h0m0 19h0m4 -46h0m2 14h0m3 19h0m3 10h0m1 -37h0m5 11h0m0 -24h0m1 42h0m5 -10h0m0 -21h0m0 39h0m6 -8h0m0 -20h0m1 -22h0m4 31h0m2 -18h0m6 -10h0m1 23h0m4 -10h0m0 31h0m5 -44h0m0 32h0m2 -11h0m4 22h0m1 -35h0m7 14h0m1 -22h0m2 50h0m0 -16h0m3 -24h0m11 34h0m0 -42h0m1 20h0m5 12h0m0 -23h0m4 39h0m2 -24h0m1 -24h0m5 42h0m2 -29h0m3 -10h0m1 24h0m4 10h0m2 11h0m0 -32h0m4 -17h0m3 26h0m5 -16h0m0 39h0m3 -50h0m2 27h0m5 18h0m1 -36h0m2 25h0m0 -35h0m5 20h0m0 31h0m6 -40h0m0 30h0m1 -11h0m5 21h0m1 -52h0m0 20h0m5 16h0m1 -27h0m4 41h0m0 -30h0m2 -19h0m6 34h0m0 -26h0m4 10h0m4 21h0m2 11h0m2 -41h0m1 20h0m5 -30h0m0 44h0m3 -28h0m3 10h0m2 11h0m1 -34h0m3 48h0m5 -22h0m1 -17h0m2 31h0m4 -43h0m3 51h0m1 -37h0m2 11h0m0 13h0m5 -32h0m4 41h0m3 -14h0m0 -20h0m5 11h0m1 -24h0m1 50h0m4 -39h0m1 29h0m6 -14h0m0 -23h0m4 38h0m2 -28h0m6 37h0m0 -27h0m2 10h0m4 -20h0m0 29h0m3 -39h0m2 20h0m4 11h0m9 -23h0m0 16h0m2 25h0m4 -10h0m0 -41h0m10 42h0m2 -37h0m0 13h0m6 33h0m0 -25h0m2 10h0m4 -27h0m0 -11h0m6 44h0m0 -20h0m6 -14h0m5 28h0m1 -11h0m0 -25h0m0 48h0m12 -31h0m0 14h0m0 -24h0m0 35h0m12 -22h0m0 21h0m5 -11h0m1 21h0m6 -47h0m0 36h0m4 -24h0m9 5h0m2 30h0m0 -13h0m3 -29h0m12 -2h0m12 13h0m6 15h0m0 -30h0m1 45h0m5 -32h0m6 26h0m6 -35h0m0 11h0m6 23h0m8 -27h0m4 12h0m7 13h0m0 -25h0m2 -10h0m16 1h0m0 23h0m6 -11h0m18 13h0m12 12h0m6 -33h0m6 26h0m6 -18h0m6 -10h0m12 30h0m6 -31h0m5 -9h0m0 23h0m0 13h0m0 13h0m7 -41h0m6 26h0m36 -2h0m6 15h0m24 -27h0m18 -13h0m0 16h0m7 -8h0m5 35h0m6 -36h0m6 -8h0m2 27h0m16 13h0m0 -11h0m14 -13h0m16 -11h0m5 22h0m4 -16h0m27 15h0m12 -2h0m11 -14h0m61 24h0m1 -36h0m0 23h0m6 -10h0m24 -6h0m2 29h0m7 -11h0m3 -26h0m0 14h0m0 28h0m13 -19h0m24 -8h0m27 26h0m2 -24h0m4 -9h0m26 20h0m7 -9h0m25 -5h0m13 -3h0m1 27h0m2 -12h0m11 -21h0m79 38h0m11 -29h0m19 28h0m91 -6h0m27 -31h0m63 39h0m213 -21h0"/><path d="M1266 1265h0m24 -11h0m0 28h0m4 -11h0m0 -28h0m0 50h0m54 -52h0m2 41h0m31 -3h0m0 12h0m0 -27h0m5 -12h0m12 26h0m0 -27h0m0 15h0m5 -25h0m8 39h0m2 11h0m1 -38h0m1 15h0m1 -25h0m5 35h0m1 -19h0m2 31h0m4 -44h0m2 27h0m2 -17h0m2 32h0m6 -24h0m0 14h0m6 10h0m0 -34h0m5 13h0m1 -24h0m5 43h0m4 -11h0m3 -20h0m0 38h0m1 -49h0m5 41h0m0 -22h0m4 -14h0m3 45h0m0 -20h0m5 -13h0m1 22h0m2 -33h0m4 22h0m0 23h0m5 -13h0m2 -22h0m4 -11h0m4 23h0m2 17h0m1 -27h0m5 -16h0m1 32h0m5 12h0m0 -28h0m5 -11h0m2 22h0m4 11h0m1 -43h0m1 22h0m3 -11h0m3 39h0m6 -44h0m3 12h0m2 11h0m0 16h0m6 -36h0m2 29h0m1 12h0m7 -30h0m2 16h0m4 -36h0m1 45h0m1 -18h0m1 -16h0m6 25h0m6 14h0m0 -46h0m0 22h0m6 13h0m0 -23h0m5 13h0m1 -23h0m0 46h0m4 -32h0m1 17h0m3 -36h0m3 26h0m0 20h0m1 -36h0m7 23h0m1 -29h0m2 12h0m2 36h0m5 -24h0m1 13h0m0 -32h0m8 10h0m3 13h0m1 -24h0m0 34h0m6 10h0m1 -36h0m2 10h0m1 13h0m2 -34h0m5 14h0m1 28h0m6 -9h0m0 -31h0m0 20h0m3 26h0m5 -37h0m4 19h0m0 -31h0m4 43h0m2 -23h0m5 -21h0m1 32h0m0 -21h0m6 37h0m0 -28h0m3 16h0m1 -28h0m2 -10h0m5 46h0m1 -18h0m0 -10h0m5 -11h0m2 30h0m5 -9h0m0 21h0m0 -34h0m0 -16h0m10 35h0m2 -12h0m0 -18h0m5 9h0m1 34h0m6 -9h0m2 -17h0m5 -16h0m5 47h0m0 -20h0m0 -16h0m8 24h0m0 -36h0m4 23h0m0 22h0m3 -35h0m9 -7h0m0 20h0m0 11h0m6 11h0m4 -31h0m2 -10h0m6 37h0m0 -13h0m12 -9h0m0 -14h0m0 29h0m12 -5h0m1 -19h0m5 35h0m6 -49h0m0 34h0m5 -20h0m11 26h0m1 -18h0m1 -13h0m13 -5h0m11 20h0m6 14h0m1 -23h0m5 -11h0m1 44h0m6 -33h0m5 30h0m1 -22h0m0 -22h0m5 13h0m12 18h0m7 -24h0m5 11h0m14 7h0m11 0h0m12 8h0m12 9h0m6 -40h0m12 30h0m6 -18h0m12 27h0m6 -33h0m5 13h0m0 -24h0m0 39h0m1 12h0m6 -38h0m7 26h0m85 -32h0m12 42h0m9 -38h0m19 34h0m31 -31h0m5 16h0m31 8h0m14 -10h0m9 -13h0m61 33h0m6 -12h0m1 -27h0m27 29h0m8 -14h0m0 -18h0m0 39h0m37 -19h0m2 -14h0m27 35h0m0 -19h0m0 -14h0m36 15h0m30 -13h0m10 20h0m2 -10h0m91 24h0m15 -25h0m14 23h0m394 -21h0"/><path d="M1290 1275h0m4 -16h0m0 -11h0m0 40h0m54 -42h0m6 40h0m27 -1h0m5 -18h0m0 -15h0m12 5h0m0 23h0m0 -38h0m6 25h0m3 -18h0m4 30h0m3 11h0m0 -28h0m5 -15h0m3 25h0m2 -16h0m4 31h0m3 -40h0m3 14h0m0 15h0m6 14h0m6 -30h0m0 14h0m0 -28h0m5 38h0m5 -13h0m2 -25h0m0 49h0m3 -15h0m3 -18h0m6 -19h0m0 29h0m0 13h0m2 -31h0m5 39h0m0 -29h0m2 14h0m3 -34h0m6 40h0m0 -20h0m7 9h0m0 -23h0m8 12h0m0 -19h0m3 39h0m0 11h0m4 -22h0m2 -22h0m3 12h0m3 17h0m5 -28h0m2 41h0m4 -27h0m1 -23h0m1 41h0m5 -32h0m6 38h0m6 -19h0m0 -24h0m0 35h0m1 -22h0m5 35h0m6 -20h0m6 -12h0m1 25h0m5 -37h0m1 26h0m5 15h0m6 -17h0m1 -27h0m0 15h0m5 32h0m2 -40h0m3 26h0m1 -12h0m1 -24h0m5 49h0m0 -33h0m3 16h0m3 -29h0m6 44h0m1 -23h0m4 -11h0m1 23h0m1 -38h0m4 55h0m2 -28h0m3 -13h0m3 -10h0m4 38h0m1 -14h0m4 -14h0m3 35h0m0 -47h0m0 34h0m3 -15h0m5 -12h0m1 36h0m5 -23h0m4 10h0m0 -25h0m0 47h0m6 -8h0m1 -32h0m5 13h0m0 -27h0m6 43h0m1 -36h0m0 13h0m1 12h0m4 20h0m6 -51h0m0 12h0m0 31h0m0 -20h0m6 9h0m4 -15h0m0 29h0m1 -41h0m7 20h0m2 11h0m4 -31h0m0 42h0m3 -31h0m3 15h0m6 -26h0m4 14h0m2 22h0m10 -8h0m3 -10h0m3 -21h0m2 51h0m0 -12h0m12 7h0m0 -35h0m0 11h0m2 11h0m10 -22h0m0 16h0m0 -29h0m6 43h0m6 -33h0m3 18h0m3 18h0m12 -15h0m0 -18h0m6 -8h0m2 38h0m4 -10h0m2 -11h0m4 27h0m6 -16h0m1 -33h0m5 17h0m11 16h0m1 -13h0m0 23h0m0 -39h0m13 3h0m17 18h0m1 21h0m5 -32h0m1 24h0m5 15h0m6 -36h0m1 24h0m0 -39h0m6 47h0m12 -11h0m11 -18h0m19 10h0m30 14h0m8 -33h0m19 -1h0m9 39h0m0 -15h0m11 -30h0m0 12h0m0 14h0m0 15h0m13 -35h0m99 43h0m9 -45h0m19 27h0m31 -24h0m4 12h0m31 7h0m84 13h0m36 -6h0m6 -17h0m0 -18h0m4 39h0m33 -16h0m29 16h0m2 -26h0m197 28h0m393 -10h0m0 -12h0"/><path d="M1294 1277h0m0 -14h0m0 -12h0m0 40h0m58 -43h0m30 33h0m4 -20h0m3 -10h0m9 8h0m0 20h0m0 -34h0m10 3h0m5 40h0m1 -25h0m2 14h0m6 -32h0m3 13h0m3 32h0m1 -12h0m4 -32h0m2 11h0m5 15h0m0 16h0m6 -27h0m0 -11h0m4 30h0m1 14h0m7 -20h0m1 -24h0m4 39h0m1 -28h0m6 20h0m0 -33h0m6 10h0m1 34h0m0 -20h0m5 -26h0m0 35h0m6 -18h0m1 29h0m0 -18h0m10 -16h0m1 21h0m3 -33h0m3 23h0m0 19h0m6 -33h0m0 -13h0m1 37h0m6 -9h0m0 17h0m3 -31h0m3 -12h0m4 39h0m1 -12h0m4 -21h0m8 39h0m2 -35h0m4 -11h0m0 23h0m1 14h0m5 -23h0m3 34h0m4 -18h0m6 9h0m0 -20h0m5 31h0m0 -48h0m5 13h0m2 20h0m6 11h0m0 -47h0m0 25h0m6 -12h0m0 25h0m6 -36h0m0 23h0m0 28h0m4 -38h0m1 21h0m7 11h0m0 -39h0m0 18h0m9 17h0m3 -31h0m1 16h0m4 24h0m1 -50h0m5 13h0m0 11h0m7 -23h0m0 36h0m3 10h0m1 -29h0m3 -9h0m2 20h0m3 10h0m0 -40h0m2 50h0m2 -35h0m5 11h0m2 13h0m1 -35h0m0 47h0m6 -31h0m2 12h0m0 12h0m2 -34h0m8 -7h0m0 22h0m1 16h0m3 -26h0m2 36h0m4 -47h0m2 33h0m0 -12h0m6 -10h0m0 31h0m2 -47h0m4 38h0m0 -11h0m6 -11h0m0 32h0m6 -17h0m0 -25h0m5 41h0m7 -10h0m0 -22h0m0 11h0m6 -24h0m11 31h0m4 -19h0m3 -12h0m0 44h0m0 -21h0m6 12h0m6 11h0m0 -30h0m6 -9h0m6 8h0m0 17h0m1 -32h0m5 43h0m7 -30h0m5 32h0m0 -43h0m0 32h0m12 -4h0m0 -17h0m6 -8h0m0 17h0m2 16h0m7 -8h0m3 -14h0m1 27h0m6 -15h0m5 -10h0m12 2h0m0 18h0m1 -38h0m3 10h0m11 -1h0m15 18h0m8 -13h0m5 35h0m5 -34h0m3 -13h0m3 42h0m13 -13h0m12 -23h0m56 38h0m28 0h0m11 -49h0m0 13h0m0 13h0m0 15h0m7 9h0m6 -37h0m108 -5h0m19 36h0m31 -25h0m5 -10h0m31 21h0m83 12h0m42 -26h0m6 34h0m31 -26h0m35 -16h0m0 38h0m586 -22h0"/><path d="M1294 1281h0m0 -25h0m0 13h0m0 -27h0m2 51h0m88 -11h0m2 -20h0m12 -7h0m0 28h0m0 -40h0m4 29h0m12 17h0m0 -10h0m0 -32h0m2 17h0m6 -10h0m7 34h0m1 -26h0m0 12h0m4 -27h0m6 12h0m0 20h0m0 13h0m6 -22h0m0 -22h0m5 41h0m0 -29h0m5 13h0m3 -31h0m5 20h0m1 24h0m5 -38h0m5 40h0m1 -29h0m1 15h0m5 -29h0m4 38h0m2 -17h0m2 -11h0m3 36h0m1 -14h0m6 -19h0m3 -13h0m3 41h0m1 -20h0m5 -9h0m1 18h0m3 15h0m2 -41h0m2 18h0m9 -21h0m1 43h0m1 -22h0m4 10h0m2 -23h0m5 38h0m6 -47h0m0 38h0m0 -22h0m6 12h0m7 16h0m6 -18h0m2 -18h0m2 31h0m4 -23h0m3 -15h0m2 25h0m8 -8h0m3 -14h0m1 27h0m1 17h0m4 -25h0m5 -14h0m0 34h0m1 -12h0m0 -35h0m8 18h0m3 29h0m1 -40h0m0 22h0m6 -13h0m2 22h0m2 11h0m2 -43h0m0 20h0m6 9h0m6 -14h0m0 -16h0m3 41h0m3 -10h0m5 -24h0m1 40h0m0 -26h0m2 -24h0m4 38h0m3 -30h0m1 17h0m2 -27h0m0 50h0m6 -11h0m2 -17h0m1 -15h0m1 43h0m9 -47h0m0 42h0m1 -16h0m0 -11h0m4 36h0m6 -47h0m0 37h0m0 -10h0m0 -12h0m9 -8h0m2 35h0m1 -47h0m0 36h0m0 -11h0m7 -18h0m3 37h0m2 -25h0m0 12h0m6 -24h0m6 24h0m0 -12h0m6 -10h0m0 30h0m12 -16h0m6 13h0m0 -28h0m0 39h0m0 -49h0m12 44h0m0 -19h0m6 -12h0m2 37h0m4 -28h0m2 -18h0m1 29h0m6 -20h0m9 9h0m1 10h0m1 -24h0m10 16h0m0 11h0m2 -22h0m10 23h0m4 -13h0m9 20h0m5 -22h0m12 12h0m0 -11h0m6 -14h0m11 4h0m14 12h0m12 26h0m6 -29h0m5 29h0m1 -41h0m18 28h0m7 -16h0m83 28h0m11 -26h0m0 -22h0m0 35h0m0 -25h0m0 37h0m122 -41h0m50 11h0m36 17h0m88 4h0m36 -20h0m72 -5h0"/><path d="M1294 1277h0m0 -26h0m0 12h0m0 26h0m92 -9h0m0 -10h0m12 -13h0m0 -12h0m0 40h0m16 -3h0m2 -32h0m0 20h0m0 23h0m4 -32h0m7 -11h0m3 36h0m1 -13h0m3 -11h0m6 24h0m2 -14h0m4 -16h0m5 33h0m1 -18h0m0 -24h0m10 29h0m2 -27h0m1 16h0m0 25h0m9 -5h0m1 -36h0m1 19h0m6 -10h0m0 21h0m0 12h0m4 -42h0m3 22h0m3 -10h0m2 28h0m11 -44h0m1 42h0m0 -22h0m6 9h0m1 -22h0m5 30h0m3 -23h0m3 -10h0m6 37h0m1 -15h0m0 -14h0m11 -8h0m1 42h0m5 -23h0m1 13h0m0 -24h0m6 -8h0m12 17h0m0 14h0m3 -27h0m2 36h0m8 -20h0m5 -28h0m0 18h0m5 10h0m3 21h0m4 -31h0m0 20h0m0 -32h0m6 23h0m0 24h0m5 -37h0m1 25h0m0 -36h0m7 19h0m1 23h0m4 -11h0m1 -30h0m5 16h0m0 30h0m6 -20h0m0 -27h0m6 18h0m0 17h0m6 8h0m0 -39h0m5 29h0m1 -15h0m2 -22h0m4 11h0m0 38h0m5 -23h0m1 11h0m2 -35h0m4 44h0m2 -30h0m4 21h0m1 -35h0m8 31h0m2 -16h0m1 29h0m0 -43h0m7 26h0m2 12h0m2 -24h0m0 -12h0m7 45h0m0 -19h0m2 -10h0m4 -11h0m6 18h0m0 10h0m0 -37h0m5 11h0m2 36h0m5 -10h0m0 -13h0m6 -13h0m13 15h0m5 10h0m0 -37h0m0 15h0m0 32h0m12 -1h0m0 -26h0m12 -7h0m6 -9h0m0 31h0m12 -12h0m12 6h0m5 -12h0m7 26h0m1 -15h0m5 -9h0m7 17h0m17 -14h0m0 10h0m8 -24h0m23 17h0m13 20h0m5 -31h0m6 34h0m0 -45h0m20 32h0m94 11h0m5 -30h0m0 -14h0m3 32h0m4 18h0m328 -37h0m69 0h0"/><path d="M1294 1278h0m0 -21h0m2 -11h0m1 50h0m90 -22h0m11 -14h0m0 -12h0m0 31h0m16 9h0m2 -37h0m0 24h0m0 -13h0m6 -19h0m6 14h0m2 32h0m4 -18h0m0 -25h0m6 41h0m6 -20h0m0 -19h0m6 44h0m0 -34h0m5 21h0m1 -12h0m3 -21h0m7 23h0m2 12h0m0 -24h0m3 -10h0m4 44h0m2 -24h0m3 13h0m0 -22h0m6 -12h0m0 42h0m3 -24h0m15 -15h0m0 38h0m1 -23h0m7 12h0m4 -17h0m0 28h0m0 -41h0m12 -1h0m0 45h0m1 -19h0m13 19h0m4 -47h0m0 11h0m1 10h0m0 15h0m18 -12h0m1 19h0m4 -29h0m2 -11h0m11 16h0m0 -16h0m6 25h0m4 16h0m2 -38h0m0 12h0m4 14h0m2 -34h0m0 54h0m6 -10h0m3 -23h0m3 -14h0m6 45h0m0 -35h0m6 -9h0m0 33h0m0 -15h0m11 1h0m1 -15h0m3 37h0m3 -10h0m6 -13h0m0 -13h0m2 38h0m4 -47h0m0 35h0m5 -25h0m0 13h0m1 20h0m6 -12h0m0 -29h0m2 48h0m3 -32h0m1 22h0m2 -32h0m6 26h0m1 -36h0m2 18h0m1 30h0m6 -42h0m0 22h0m5 14h0m1 -24h0m6 -19h0m0 32h0m0 21h0m0 -43h0m6 12h0m0 23h0m6 -38h0m6 24h0m6 -17h0m6 22h0m0 -32h0m0 22h0m15 0h0m3 11h0m0 -32h0m0 44h0m12 -28h0m0 20h0m13 -26h0m5 -12h0m1 33h0m11 -17h0m12 7h0m6 -12h0m7 26h0m4 -17h0m11 14h0m14 -19h0m9 -9h0m24 17h0m16 -16h0m6 38h0m119 -36h0m0 11h0m7 22h0m330 -24h0m0 -11h0"/><path d="M1294 1279h0m0 -29h0m0 13h0m104 -4h0m0 -13h0m0 33h0m16 5h0m2 -33h0m0 20h0m1 24h0m4 -35h0m7 -8h0m2 38h0m4 -28h0m0 18h0m3 -34h0m3 46h0m2 -20h0m4 9h0m0 -31h0m2 11h0m4 30h0m0 -19h0m6 -8h0m6 8h0m0 -22h0m6 12h0m0 29h0m5 -46h0m2 36h0m0 -26h0m5 14h0m0 24h0m6 -43h0m0 30h0m2 -17h0m4 27h0m12 -45h0m0 49h0m1 -23h0m0 -15h0m0 25h0m11 -5h0m0 -18h0m7 -12h0m8 44h0m1 -25h0m2 14h0m9 11h0m3 -43h0m1 15h0m0 12h0m5 10h0m14 -22h0m3 18h0m1 -31h0m1 41h0m12 -28h0m2 -16h0m5 29h0m5 -18h0m0 30h0m2 -43h0m3 23h0m1 10h0m6 10h0m6 -39h0m0 16h0m6 21h0m6 -36h0m0 12h0m0 11h0m0 24h0m12 -25h0m0 -18h0m3 32h0m4 -21h0m2 29h0m3 -18h0m0 -20h0m0 -11h0m6 42h0m0 -23h0m6 15h0m0 -26h0m0 42h0m6 -30h0m2 -18h0m4 45h0m0 -13h0m6 -32h0m5 22h0m1 18h0m0 -31h0m6 -10h0m0 50h0m0 -19h0m6 -14h0m3 23h0m3 -44h0m0 13h0m0 21h0m6 -10h0m6 -17h0m0 42h0m6 -18h0m6 -15h0m6 20h0m0 -30h0m1 19h0m17 -6h0m0 10h0m0 -24h0m0 35h0m14 7h0m0 -19h0m3 -11h0m13 -4h0m12 15h0m13 -1h0m17 7h0m1 -18h0m23 5h0m37 2h0m17 -10h0m1 33h0m119 -27h0m1 -13h0m6 24h0m2 18h0m329 -24h0"/><path d="M1294 1272h0m0 12h0m0 -25h0m2 -12h0m102 14h0m0 -15h0m0 34h0m16 -2h0m2 11h0m0 -37h0m6 15h0m6 -13h0m2 35h0m6 -16h0m1 -12h0m3 22h0m6 -10h0m0 19h0m1 -43h0m2 10h0m3 24h0m6 -12h0m6 -22h0m1 12h0m5 18h0m6 10h0m0 -38h0m1 12h0m5 9h0m6 15h0m0 -40h0m0 13h0m18 -9h0m0 37h0m1 -19h0m7 -11h0m5 24h0m5 -27h0m2 -11h0m7 39h0m1 -19h0m14 25h0m1 -34h0m0 -13h0m0 24h0m6 13h0m13 -13h0m4 -11h0m0 29h0m14 -13h0m5 -13h0m1 21h0m5 -29h0m0 44h0m0 -26h0m6 -27h0m0 37h0m1 -19h0m5 30h0m14 -30h0m4 28h0m0 -40h0m0 22h0m12 6h0m0 -10h0m0 -16h0m6 34h0m0 11h0m6 -36h0m3 22h0m2 -33h0m1 19h0m2 24h0m4 -33h0m0 18h0m5 -28h0m1 41h0m0 -22h0m6 -9h0m0 22h0m8 6h0m1 -37h0m3 14h0m0 12h0m6 16h0m0 -47h0m3 26h0m3 -17h0m0 28h0m6 10h0m0 -47h0m0 21h0m6 -9h0m2 17h0m4 -26h0m1 36h0m11 -2h0m1 -31h0m5 15h0m18 -3h0m0 16h0m0 -31h0m0 43h0m14 -6h0m4 -25h0m38 18h0m16 -2h0m24 -5h0m1 -12h0m173 4h0"/><path d="M1294 1275h0m0 -24h0m0 12h0m2 24h0m102 -25h0m0 25h0m4 -40h0m12 36h0m2 -26h0m0 12h0m3 26h0m3 -48h0m7 10h0m2 35h0m5 -10h0m10 -3h0m0 -10h0m1 -14h0m1 36h0m4 -45h0m6 27h0m0 18h0m7 -44h0m1 15h0m5 18h0m5 -32h0m1 45h0m0 -30h0m5 17h0m6 -29h0m1 41h0m5 -24h0m12 -24h0m1 50h0m0 -34h0m1 24h0m6 -15h0m5 17h0m0 -26h0m0 -10h0m11 -4h0m4 41h0m2 -16h0m12 18h0m1 -42h0m0 14h0m0 10h0m7 8h0m13 -21h0m1 11h0m2 18h0m1 -40h0m13 25h0m5 -12h0m4 23h0m1 -11h0m1 -23h0m0 46h0m6 -35h0m3 27h0m3 -11h0m8 10h0m6 -24h0m4 28h0m0 -46h0m6 31h0m6 -17h0m0 -13h0m6 40h0m6 -20h0m0 -12h0m0 23h0m3 14h0m3 -46h0m5 18h0m1 13h0m1 18h0m1 -43h0m10 5h0m0 38h0m0 -21h0m12 -20h0m0 13h0m0 18h0m0 -41h0m6 51h0m1 -20h0m5 10h0m0 -34h0m1 14h0m5 28h0m2 -16h0m4 -15h0m0 -10h0m6 20h0m4 -19h0m8 21h0m5 -14h0m1 26h0m18 -23h0m0 17h0m0 -33h0m0 44h0m25 -30h0m32 7h0m15 7h0m25 -6h0m173 -12h0m3 14h0"/><path d="M1294 1282h0m0 -24h0m0 13h0m2 -24h0m102 6h0m0 33h0m6 -25h0m10 19h0m2 12h0m5 -32h0m2 -12h0m9 7h0m2 32h0m10 -9h0m3 10h0m1 -31h0m4 10h0m1 -23h0m11 33h0m1 -31h0m1 14h0m5 28h0m2 -36h0m4 10h0m0 -20h0m2 33h0m3 12h0m2 -33h0m5 24h0m1 -35h0m4 20h0m1 24h0m12 -43h0m0 45h0m5 -26h0m7 14h0m4 -20h0m7 -8h0m7 30h0m11 8h0m1 -41h0m0 20h0m5 -9h0m1 21h0m15 -11h0m2 21h0m1 -10h0m1 -31h0m4 10h0m10 11h0m8 7h0m1 -14h0m0 26h0m0 -42h0m12 28h0m0 16h0m15 -27h0m3 19h0m1 -32h0m5 20h0m6 -16h0m6 35h0m0 -12h0m9 17h0m0 -37h0m9 9h0m0 -23h0m0 38h0m0 -27h0m0 37h0m8 -19h0m3 -17h0m1 33h0m12 -33h0m0 17h0m0 17h0m6 -26h0m0 -17h0m5 29h0m4 14h0m3 -33h0m1 13h0m11 -5h0m0 -12h0m13 21h0m0 -18h0m23 11h0m0 -15h0m0 26h0m1 10h0m60 -12h0m11 -6h0m0 11h0m25 -11h0m173 -3h0m0 -11h0"/><path d="M1294 1257h0m0 22h0m3 -34h0m101 16h0m1 17h0m6 -32h0m11 41h0m0 -11h0m5 -17h0m3 -13h0m10 9h0m1 39h0m5 -9h0m6 -13h0m2 -14h0m1 33h0m10 -23h0m5 10h0m6 -14h0m0 -15h0m2 40h0m8 -33h0m2 11h0m0 23h0m0 -46h0m0 35h0m26 6h0m4 -18h0m0 -21h0m7 31h0m1 -19h0m10 -7h0m18 40h0m1 -36h0m0 14h0m1 11h0m0 -38h0m21 19h0m1 19h0m1 13h0m6 -45h0m12 19h0m5 15h0m1 -28h0m0 -10h0m2 51h0m3 -30h0m7 9h0m0 14h0m18 -31h0m0 24h0m0 -13h0m1 -22h0m11 21h0m0 -11h0m6 -9h0m0 46h0m0 -14h0m10 -23h0m5 33h0m3 -24h0m0 -21h0m0 34h0m8 16h0m0 -23h0m1 -22h0m3 12h0m0 20h0m12 -32h0m0 22h0m0 21h0m6 -33h0m6 18h0m0 -28h0m2 17h0m4 24h0m6 -19h0m0 -12h0m8 -8h0m12 20h0m4 -20h0m0 10h0m18 0h0m0 -18h0m1 36h0m96 -16h0m173 -9h0m7 8h0"/><path d="M1294 1250h0m0 14h0m0 18h0m104 -19h0m18 18h0m6 -23h0m0 31h0m12 -27h0m6 23h0m6 -14h0m3 -18h0m3 40h0m12 -26h0m7 -23h0m0 15h0m6 22h0m0 12h0m0 -25h0m1 -16h0m10 34h0m0 -10h0m0 -29h0m1 11h0m20 36h0m3 -13h0m12 -28h0m9 -7h0m15 46h0m1 -44h0m0 16h0m5 18h0m18 -21h0m1 22h0m20 -7h0m1 -13h0m3 -10h0m0 36h0m5 -17h0m1 -31h0m6 40h0m0 10h0m18 -36h0m0 35h0m6 -21h0m1 -22h0m8 11h0m3 29h0m0 -39h0m6 30h0m4 -16h0m1 -11h0m7 32h0m0 -13h0m0 -26h0m0 49h0m12 -41h0m0 20h0m0 14h0m12 -25h0m0 -12h0m0 22h0m0 12h0m6 10h0m4 -26h0m2 12h0m0 -28h0m6 40h0m3 -26h0m3 -10h0m2 19h0m6 -26h0m16 2h0m0 14h0m18 1h0m0 -24h0m1 47h0m270 -31h0"/><path d="M1294 1281h0m0 -31h0m0 10h0m104 -5h0m18 33h0m6 -10h0m0 -23h0m0 13h0m12 -12h0m6 30h0m6 -11h0m3 -25h0m3 39h0m0 -26h0m13 11h0m6 -10h0m6 -17h0m0 42h0m5 -27h0m0 11h0m6 13h0m1 -37h0m21 42h0m9 -12h0m5 -27h0m24 43h0m1 -48h0m0 37h0m0 -25h0m1 11h0m23 -1h0m0 11h0m0 11h0m3 -38h0m21 23h0m0 -14h0m0 -13h0m2 37h0m11 -9h0m5 13h0m12 -33h0m0 24h0m6 -8h0m6 -11h0m1 -15h0m5 31h0m0 15h0m10 -44h0m2 11h0m6 15h0m1 20h0m1 -42h0m6 16h0m4 -18h0m0 29h0m0 10h0m12 -20h0m0 -13h0m0 -11h0m0 34h0m0 13h0m10 -26h0m2 -10h0m6 25h0m0 -35h0m0 47h0m6 -27h0m6 -8h0m18 -2h0m18 12h0m2 12h0m275 -21h0"/><path d="M1294 1274h0m0 -24h0m1 13h0m103 -8h0m18 23h0m5 9h0m1 -30h0m0 10h0m13 -12h0m6 35h0m5 -11h0m4 -30h0m2 19h0m0 21h0m13 -17h0m7 -12h0m5 -14h0m0 37h0m0 -14h0m5 -11h0m1 35h0m5 -17h0m2 -32h0m22 47h0m10 -8h0m2 -26h0m25 28h0m0 -34h0m0 12h0m0 11h0m24 -7h0m0 20h0m24 -3h0m0 -11h0m0 -13h0m0 -14h0m6 47h0m7 -14h0m17 -20h0m2 29h0m3 -39h0m2 25h0m8 -9h0m3 -14h0m0 38h0m2 -11h0m10 -29h0m0 11h0m6 17h0m6 -28h0m0 43h0m0 -24h0m6 -8h0m12 2h0m0 15h0m0 -28h0m0 42h0m8 -22h0m10 12h0m0 -30h0m0 16h0m2 26h0m10 -29h0m6 -12h0m12 -2h0m18 12h0m3 20h0"/><path d="M1294 1256h0m0 21h0m110 -14h0m12 17h0m6 -16h0m0 -11h0m14 2h0m6 26h0m10 -27h0m0 29h0m0 -15h0m15 -1h0m10 -17h0m0 31h0m0 12h0m0 -30h0m6 9h0m5 14h0m1 -26h0m2 -12h0m22 40h0m14 -37h0m22 44h0m0 -11h0m0 -30h0m6 12h0m18 17h0m0 -18h0m24 17h0m0 -16h0m0 -13h0m5 -9h0m1 48h0m12 -6h0m12 -28h0m4 31h0m8 -15h0m1 -24h0m6 44h0m5 -13h0m6 -25h0m6 11h0m0 12h0m6 -29h0m2 42h0m4 -31h0m0 15h0m12 -7h0m0 -13h0m0 -11h0m0 35h0m0 12h0m12 -24h0m6 15h0m0 -33h0m6 20h0m13 -18h0m11 1h0m18 18h0m3 17h0"/><path d="M1294 1282h0m2 -30h0m0 14h0m108 -8h0m12 28h0m6 -25h0m23 25h0m1 -11h0m6 -23h0m16 16h0m9 -12h0m0 32h0m2 -21h0m3 -23h0m0 32h0m6 11h0m1 -27h0m24 25h0m17 -32h0m19 38h0m0 -31h0m0 -12h0m5 35h0m1 -12h0m18 -9h0m0 28h0m2 -10h0m22 3h0m0 -26h0m0 13h0m3 -23h0m3 44h0m24 -35h0m4 33h0m8 -20h0m6 -16h0m0 27h0m1 13h0m11 -35h0m0 -11h0m6 19h0m0 11h0m6 -31h0m3 49h0m3 -32h0m0 22h0m3 -33h0m9 16h0m0 -12h0m0 23h0m0 -33h0m6 43h0m6 -13h0m6 -26h0m0 38h0m0 -20h0m12 -5h0m19 -4h0m17 6h0"/><path d="M1294 1276h0m2 -15h0m120 27h0m6 -9h0m0 -28h0m24 36h0m2 -11h0m4 -15h0m0 -10h0m18 16h0m7 -10h0m0 -11h0m0 39h0m5 -11h0m6 10h0m25 -2h0m18 -31h0m18 37h0m0 -34h0m6 -8h0m19 37h0m23 2h0m0 -11h0m0 -27h0m0 12h0m33 -5h0m2 35h0m7 -20h0m6 -12h0m0 -11h0m3 47h0m9 -39h0m6 11h0m0 13h0m12 -15h0m0 -11h0m0 24h0m0 16h0m12 -30h0m0 12h0m0 -25h0m6 36h0m12 -15h0m0 -20h0m0 30h0m6 9h0m0 -27h0m25 -6h0"/><path d="M1294 1280h0m128 6h0m0 -26h0m25 23h0m5 -23h0m0 -10h0m1 20h0m19 -8h0m5 -16h0m0 43h0m5 -25h0m0 13h0m3 -25h0m3 33h0m61 -3h0m0 -23h0m0 34h0m0 -45h0m25 41h0m23 -9h0m0 -26h0m5 10h0m1 24h0m0 -46h0m28 8h0m8 20h0m6 -18h0m6 37h0m6 -39h0m6 10h0m0 11h0m0 13h0m8 -6h0m4 -16h0m0 -12h0m12 11h0m0 16h0m0 -30h0m6 43h0m12 -39h0m0 29h0m6 -11h0m0 19h0m26 -30h0"/><path d="M1294 1278h0m128 3h0m1 -21h0m26 15h0m0 12h0m3 -31h0m21 5h0m4 -13h0m2 42h0m3 -25h0m0 16h0m67 6h0m0 -30h0m26 28h0m22 -3h0m0 -35h0m1 14h0m5 13h0m36 0h0m6 -27h0m6 41h0m6 -41h0m0 11h0m6 11h0m0 12h0m12 -29h0m12 6h0m0 15h0m0 -27h0m6 48h0m12 -17h0m0 -29h0m0 40h0m6 -24h0"/><path d="M1296 1281h0m126 -3h0m1 -17h0m29 23h0m1 -23h0m1 10h0m23 -6h0m0 -10h0m2 35h0m3 -12h0m1 -34h0m6 43h0m60 -2h0m0 -21h0m2 -15h0m46 37h0m1 -39h0m4 18h0m1 11h0m36 -4h0m6 -19h0m12 2h0m6 8h0m0 11h0m12 -21h0m12 13h0m0 -13h0m0 30h0m6 -39h0m0 50h0m2 -20h0m10 2h0m0 -19h0m0 -10h0m1 40h0m8 -23h0"/><path d="M1296 1283h0m126 3h0m7 -30h0m23 30h0m2 -30h0m23 11h0m0 -11h0m2 29h0m4 -39h0m6 34h0m60 2h0m1 -23h0m3 -10h0m44 36h0m3 -35h0m3 25h0m0 -14h0m36 13h0m6 -27h0m12 13h0m6 8h0m0 -18h0m6 31h0m7 -33h0m11 11h0m0 12h0m0 11h0m0 -38h0m18 26h0m0 14h0m0 -30h0m12 10h0"/><path d="M1296 1276h0m156 8h0m25 -21h0m2 24h0m4 -38h0m2 23h0m4 11h0m60 1h0m2 -34h0m3 11h0m43 22h0m5 -34h0m1 25h0m0 -12h0m38 6h0m5 -17h0m11 7h0m6 9h0m1 -18h0m5 28h0m8 -32h0m10 18h0m0 -12h0m0 26h0m19 -31h0m5 44h0m0 -18h0"/><path d="M1454 1284h0m23 -30h0m2 35h0m3 -24h0m7 15h0m60 10h0m5 -34h0m48 -8h0m1 39h0m0 -15h0m0 -11h0m39 6h0m15 -13h0m6 17h0m8 7h0m7 -31h0m9 20h0m0 -13h0m0 24h0m19 -32h0m6 25h0"/><path d="M1477 1261h0m2 25h0m4 -40h0m0 24h0m7 9h0m59 10h0m5 -32h0m48 -10h0m0 10h0m1 30h0m0 -12h0m55 -17h0m8 19h0m12 -28h0m9 14h0m0 14h0m1 -29h0m23 1h0"/><path d="M1482 1258h0m0 11h0m0 13h0m1 -36h0m0 46h0m67 -5h0m5 -26h0m0 -11h0m47 4h0m1 33h0m0 -20h0m0 -24h0m57 11h0m9 15h0m18 -17h0m0 18h0m3 12h0m3 -21h0"/><path d="M1482 1265h0m1 -14h0m0 38h0m6 -12h0m62 10h0m4 -32h0m47 -7h0m1 31h0m0 -11h0m0 22h0m60 -37h0m6 17h0m18 -16h0m0 23h0m0 -13h0"/><path d="M1483 1257h0m2 33h0m4 -17h0m65 9h0m1 -21h0m47 -5h0m1 25h0m0 -12h0m60 -13h0m8 18h0m16 -24h0m0 27h0m6 -17h0"/><path d="M1483 1258h0m0 -11h0m6 36h0m66 2h0m0 -23h0m47 -12h0m1 29h0m0 -12h0m0 24h0m60 -36h0m8 20h0m16 -30h0m0 13h0m0 18h0m6 9h0"/><path d="M1483 1260h0m72 25h0m0 -32h0m48 4h0m0 -10h0m0 36h0m0 -14h0m60 -8h0m24 -9h0m1 17h0m5 9h0"/><path d="M1555 1284h0m1 -25h0m47 -10h0m0 26h0m0 12h0m0 -24h0m60 -11h0m24 -1h0m1 19h0m5 -11h0"/><path d="M1556 1285h0m47 -35h0m0 34h0m0 -15h0m60 -16h0m24 2h0m2 16h0m4 -25h0"/><path d="M1603 1256h0m0 27h0m0 -10h0m85 -25h0m5 24h0m0 -14h0"/><path d="M1603 1256h0m0 28h0m0 -12h0m86 -22h0m4 22h0"/><path d="M1603 1255h0m0 34h0m0 -24h0m0 13h0m86 -26h0m4 12h0"/><path d="M1603 1247h0m0 39h0m0 -23h0m0 11h0m90 -27h0"/><path d="M1603 1256h0m0 25h0m0 -14h0m90 -20h0"/><path d="M1603 1257h0m0 31h0m0 -15h0m90 -23h0"/><path d="M1603 1252h0m0 36h0m0 -15h0m90 -23h0"/><path d="M1603 1249h0m0 34h0m0 -21h0m91 -14h0"/><path d="M1603 1254h0m0 29h0m0 -15h0"/><path d="M1603 1248h0m0 33h0m0 -19h0"/><path d="M1603 1248h0m0 35h0m0 -21h0"/><path d="M1603 1250h0m0 28h0"/><path d="M1603 1255h0m0 26h0"/><path d="M1603 1254h0m0 34h0"/><path d="M1603 1251h0m1 36h0"/><path d="M1603 1249h0m1 36h0"/><path d="M1603 1252h0"/><path d="M1603 1253h0"/><path d="M1603 1251h0"/><path d="M1603 1248h0"/><path d="M1603 1248h0"/></g><rect x="1468" y="1521.4" width="519" height="63.8" fill="url(#g3)" mask="url(#vm)"/><g stroke="#48dea6" stroke-width="9.8" stroke-linecap="round" stroke-opacity="0.2" fill="none"><path d="M1372 1568h0m0 11h0m0 -21h0m0 -15h0m0 -17h0m9 10h0m5 27h0m0 -14h0m4 -19h0m2 41h0m3 -13h0m2 23h0m1 -43h0m0 10h0m6 -21h0m0 44h0m2 -16h0m2 -15h0m8 33h0m0 -25h0m0 14h0m0 -35h0m9 16h0m1 17h0m2 -27h0m0 43h0m6 -10h0m1 -17h0m4 29h0m1 -51h0m0 11h0m1 20h0m6 12h0m4 -20h0m1 -12h0m2 -12h0m1 35h0m3 9h0m0 11h0m4 -44h0m2 16h0m1 -27h0m3 47h0m5 -38h0m1 25h0m2 -14h0m6 31h0m0 -50h0m1 11h0m3 16h0m4 12h0m2 12h0m1 -49h0m0 16h0m7 10h0m1 17h0m3 -34h0m5 24h0m0 -15h0m3 33h0m0 -50h0m6 41h0m0 -18h0m1 -15h0m6 24h0m0 -33h0m4 22h0m1 -13h0m0 38h0m6 -15h0m0 -32h0m4 14h0m2 31h0m1 -21h0m5 12h0m0 -34h0m5 47h0m1 -28h0m4 10h0m2 -21h0m1 -11h0m0 43h0m4 -18h0m1 27h0m5 -18h0m2 -35h0m1 14h0m3 11h0m1 20h0m6 -41h0m1 10h0m0 21h0m0 18h0m5 -29h0m0 19h0m5 -39h0m1 50h0m1 -22h0m1 -17h0m4 29h0m5 -36h0m1 21h0m4 20h0m2 -30h0m1 -18h0m0 36h0m5 -27h0m5 19h0m1 -28h0m0 39h0m1 14h0m0 -35h0m9 5h0m1 24h0m1 -36h0m3 -13h0m4 39h0m2 -11h0m1 -12h0m3 34h0m0 -46h0m5 31h0m2 -15h0m3 34h0m2 -53h0m5 31h0m1 12h0m0 -34h0m4 9h0m2 34h0m3 -17h0m2 -35h0m1 24h0m4 18h0m2 -28h0m1 39h0m2 -51h0m3 32h0m4 11h0m2 -36h0m0 14h0m4 13h0m2 15h0m0 -51h0m6 16h0m0 10h0m3 18h0m3 -42h0m0 51h0m5 -21h0m1 -15h0m2 29h0m4 -45h0m1 25h0m5 25h0m0 -38h0m0 22h0m6 -35h0m0 23h0m5 -12h0m1 22h0m1 15h0m5 -47h0m5 51h0m0 -23h0m2 12h0m1 -31h0m4 10h0m0 -21h0m3 52h0m3 -15h0m1 -29h0m3 11h0m2 27h0m6 -12h0m0 -24h0m4 40h0m2 -28h0m0 -21h0m4 36h0m2 -27h0m3 18h0m1 21h0m6 -31h0m2 -17h0m0 35h0m1 18h0m5 -42h0m0 33h0m3 -18h0m3 27h0m0 -53h0m6 16h0m0 25h0m5 -16h0m1 -24h0m4 12h0m2 35h0m0 -11h0m4 -13h0m3 -17h0m2 45h0m2 -11h0m1 -23h0m5 12h0m1 -31h0m3 51h0m3 -39h0m0 12h0m0 15h0m6 -36h0m1 51h0m2 -22h0m4 -15h0m3 22h0m0 -33h0m2 45h0m1 -23h0m5 -8h0m2 22h0m1 -35h0m6 47h0m1 -22h0m2 -18h0m5 31h0m2 -42h0m2 25h0m3 -10h0m1 34h0m5 -9h0m0 -35h0m1 24h0m5 22h0m1 -30h0m2 -22h0m1 11h0m1 29h0m5 -10h0m2 20h0m1 -47h0m0 13h0m5 25h0m6 10h0m0 -21h0m0 -23h0m4 33h0m3 -42h0m0 21h0m5 31h0m1 -16h0m2 -29h0m3 16h0m5 28h0m2 -39h0m0 28h0m5 -13h0m0 -27h0m5 51h0m0 -41h0m0 30h0m5 -15h0m1 -23h0m3 44h0m1 -12h0m4 -15h0m4 -12h0m2 33h0m4 11h0m1 -33h0m1 11h0m5 -21h0m4 46h0m1 -27h0m2 15h0m1 -26h0m3 -13h0m4 46h0m1 -15h0m3 -18h0m6 36h0m0 -45h0m2 21h0m4 -13h0m2 23h0m2 10h0m1 -42h0m4 17h0m3 14h0m2 17h0m1 -40h0m5 -10h0m1 27h0m4 -10h0m1 20h0m4 -40h0m0 53h0m2 -42h0m4 13h0m0 20h0m4 -41h0m3 14h0m2 35h0m3 -24h0m0 12h0m6 -32h0m0 10h0m3 34h0m3 -13h0m1 -39h0m1 29h0m3 -13h0m4 28h0m3 -42h0m0 32h0m1 -10h0m3 -12h0m1 39h0m6 -25h0m1 -22h0m0 38h0m6 -27h0m4 22h0m2 -13h0m0 26h0m0 -48h0m6 9h0m3 27h0m1 -12h0m2 23h0m0 -48h0m5 11h0m1 22h0m6 17h0m0 -49h0m0 21h0m5 20h0m3 -30h0m4 39h0m0 -27h0m6 -22h0m1 11h0m4 20h0m6 16h0m1 -35h0m6 23h0m0 -14h0m6 23h0m0 -33h0m0 -12h0m4 27h0m6 -10h0m2 -16h0m0 41h0m6 -13h0m3 22h0m3 -51h0m0 11h0m0 10h0m6 10h0m0 15h0m4 -45h0m2 12h0m4 38h0m1 -16h0m0 -11h0m5 -14h0m2 32h0m2 -44h0m3 34h0m1 -11h0m6 -15h0m1 36h0m5 -18h0m0 -26h0m1 16h0m4 23h0m1 15h0m4 -44h0m2 15h0m6 26h0m0 -14h0m0 -37h0m5 17h0m4 -11h0m3 40h0m0 -11h0m5 -9h0m1 -14h0m2 39h0m3 -16h0m2 -32h0m5 41h0m0 -27h0m7 36h0m0 -45h0m0 21h0m5 -11h0m0 26h0m4 -43h0m1 53h0m1 -26h0m5 12h0m2 -21h0m5 29h0m0 -40h0m0 21h0m7 12h0m2 -18h0m1 -22h0m2 52h0m5 -10h0m2 -32h0m4 42h0m1 -22h0m6 10h0m0 -36h0m1 12h0m2 34h0m4 -23h0m4 -25h0m1 38h0m1 -26h0m6 13h0m0 21h0m2 -50h0m3 15h0m2 27h0m4 -18h0m1 -20h0m0 51h0m4 -41h0m2 21h0m0 11h0m6 -44h0m0 21h0m5 17h0m1 11h0m0 -40h0m6 18h0m0 -26h0m3 14h0m3 22h0m3 10h0m1 -24h0m2 -19h0m5 10h0m1 24h0m0 13h0m4 -28h0m3 -16h0m4 41h0m1 -12h0m0 -38h0m0 19h0m10 10h0m1 -21h0m0 43h0m1 -11h0m0 -21h0m6 -19h0m4 50h0m2 -21h0m0 -20h0m6 33h0m0 -24h0m5 36h0m1 -22h0m0 -24h0m6 14h0m0 24h0m5 -42h0m4 14h0m3 25h0m6 -19h0m0 -20h0m5 46h0m1 -10h0m0 -25h0m6 12h0m0 -24h0m6 35h0m0 13h0m0 -34h0m6 -10h0m0 23h0m3 16h0m2 -25h0m7 -17h0m1 32h0m1 18h0m1 -29h0m3 -12h0m6 28h0m1 -41h0m0 54h0m2 -28h0m3 -14h0m6 21h0m0 21h0m0 -31h0m6 -11h0m0 32h0m4 -42h0m0 27h0m7 25h0m1 -39h0m0 25h0m4 -12h0m2 -26h0m4 39h0m0 -21h0m8 -12h0m0 24h0m0 15h0m5 -30h0m4 9h0m2 17h0m2 -33h0m5 23h0m0 -15h0m1 -18h0m1 52h0m8 -24h0m0 -24h0m2 50h0m0 -15h0m0 -23h0m10 7h0m1 25h0m1 -45h0m0 33h0m6 -23h0m4 32h0m0 -14h0m3 -30h0m5 16h0m4 35h0m0 -12h0m3 -10h0m0 -28h0m3 12h0m6 34h0m1 -46h0m1 29h0m4 -13h0m6 35h0m2 -13h0m1 -27h0m3 14h0m8 -11h0m0 -11h0m0 32h0m1 11h0m12 2h0m0 -34h0m0 22h0m0 -11h0m1 -24h0m10 50h0m0 -14h0m1 -39h0m0 22h0m6 -9h0m6 10h0m5 16h0m1 -37h0m5 46h0m1 -21h0m6 -10h0m3 26h0m3 -35h0m0 46h0m4 -35h0m2 13h0m6 22h0m0 -14h0m0 -40h0m4 29h0m2 -13h0m3 31h0m3 -40h0m6 18h0m1 28h0m0 -14h0m5 -26h0m0 -13h0m6 39h0m0 13h0m4 -45h0m2 24h0m6 -14h0m0 31h0m6 -15h0m6 -9h0m0 18h0m4 9h0m2 -43h0m9 33h0m2 -14h0m13 16h0m0 -22h0m6 -16h0m0 28h0m6 -19h0m7 14h0m5 26h0m0 -12h0m1 -29h0m7 11h0m0 -18h0m4 31h0m6 16h0m0 -42h0m1 15h0m5 18h0m6 -42h0m0 12h0m4 21h0m2 12h0m6 -25h0m0 -12h0m6 25h0m6 -12h0m0 22h0m0 -38h0m6 27h0m6 -18h0m0 -12h0m2 41h0m9 -19h0m1 -21h0m0 37h0m7 13h0m2 -39h0m2 -13h0m1 39h0m0 -15h0m12 -9h0m0 -18h0m6 53h0m6 -9h0m0 -20h0m5 -13h0m7 37h0m6 -26h0m7 20h0m0 -30h0m0 18h0m0 23h0m11 -29h0m1 18h0m4 -38h0m4 31h0m4 19h0m5 -9h0m1 -43h0m3 28h0m5 -20h0m1 28h0m3 -38h0m5 22h0m0 31h0m6 -13h0m1 -35h0m5 18h0m1 30h0m5 -53h0m1 44h0m2 -15h0m3 -15h0m2 37h0m5 -14h0m5 13h0m1 -39h0m3 18h0m2 -29h0m0 39h0m7 14h0m2 -36h0m1 14h0m9 -26h0m6 23h0m0 -12h0m6 -9h0m6 44h0m0 -32h0m6 16h0m4 -34h0m0 13h0m2 32h0m0 -21h0m6 8h0m0 -25h0m6 36h0m0 -28h0m12 37h0m0 -21h0m2 -15h0m1 -16h0m3 44h0m6 -17h0m0 -10h0m6 -15h0m6 9h0m0 22h0m0 20h0m12 -2h0m0 -17h0m0 -29h0m2 13h0m10 7h0m1 -25h0m2 11h0m9 32h0m0 -40h0m6 29h0m0 21h0m6 -47h0m2 19h0m0 21h0m10 -13h0m0 -25h0m6 10h0m0 24h0m10 -43h0m2 43h0m0 -12h0m6 -24h0m6 38h0m2 -14h0m1 -17h0m3 41h0m0 -55h0m6 20h0m7 34h0m4 -11h0m13 -12h0m0 -14h0m6 29h0m0 -38h0m10 24h0m3 -15h0m3 37h0m8 -35h0m1 15h0m0 15h0m11 5h0m0 -15h0m1 -29h0m0 11h0m11 -18h0m0 28h0m1 11h0m1 10h0m8 -35h0m1 21h0m8 13h0m0 -40h0m5 15h0m7 9h0m2 -32h0m0 13h0m0 35h0m7 -23h0m8 -22h0m0 15h0m7 29h0m4 -13h0m2 -29h0m6 12h0m1 11h0m0 13h0m5 -43h0m5 41h0m1 -18h0m5 30h0m1 -47h0m6 26h0m0 -13h0m12 19h0m0 -17h0m6 -18h0m6 43h0m10 -30h0m14 27h0m12 -6h0m0 -24h0m6 10h0m12 -20h0m1 21h0m5 -12h0m6 13h0m6 -10h0m0 20h0m0 15h0m12 -13h0m12 3h0m0 -34h0m6 13h0m0 32h0m10 -10h0m0 -32h0m0 12h0m14 18h0m2 -12h0m0 -15h0m22 35h0m2 -32h0m9 34h0m5 -43h0m2 35h0m12 -32h0m6 16h0m6 -15h0m6 13h0m0 22h0m2 -44h0m4 12h0m6 26h0m0 -18h0m6 32h0m0 -53h0m15 31h0m3 -27h0m1 48h0m5 -29h0m6 10h0m21 -3h0m0 -16h0m0 -12h0m0 48h0m15 0h0m19 -2h0m12 -5h0m11 -26h0m1 22h0m5 10h0m1 -46h0m24 -2h0m6 19h0m4 -20h0m2 30h0m7 15h0m4 -22h0m7 -22h0m0 46h0m17 -9h0m13 10h0m18 -28h0m8 -10h0m1 40h0m0 -14h0m0 -11h0m30 28h0m8 -41h0m7 13h0m0 26h0m11 -14h0m0 -37h0m8 11h0m14 40h0m10 -46h0m4 22h0m16 -22h0m0 19h0m12 -24h0m2 16h0m0 16h0m8 -23h0m0 30h0m0 14h0m37 -33h0m26 -9h0m0 42h0"/><path d="M1372 1566h0m0 -18h0m0 -13h0m0 46h0m10 -46h0m4 34h0m5 -27h0m3 13h0m1 21h0m2 -48h0m1 38h0m3 -24h0m3 14h0m3 -24h0m1 45h0m6 -27h0m1 -10h0m1 29h0m2 -41h0m4 31h0m3 17h0m3 -32h0m6 -17h0m0 40h0m0 -12h0m6 -19h0m2 38h0m2 -28h0m3 15h0m5 -29h0m1 44h0m3 -21h0m2 -13h0m0 24h0m6 -35h0m0 48h0m2 -29h0m5 19h0m2 -31h0m3 11h0m0 11h0m0 -32h0m6 40h0m4 -36h0m1 17h0m2 27h0m5 -35h0m0 24h0m4 -11h0m3 22h0m3 -40h0m1 30h0m2 -18h0m5 11h0m0 -31h0m0 51h0m6 -10h0m0 -24h0m7 13h0m2 17h0m0 -47h0m3 17h0m5 -10h0m1 23h0m0 11h0m0 11h0m5 -36h0m1 -18h0m4 35h0m1 18h0m6 -44h0m1 35h0m1 -20h0m5 9h0m0 20h0m1 -53h0m2 14h0m3 30h0m0 -20h0m7 28h0m0 -51h0m0 34h0m2 -20h0m8 32h0m1 -17h0m1 -11h0m3 -13h0m3 48h0m3 -39h0m1 11h0m1 -26h0m1 39h0m5 10h0m3 -40h0m2 23h0m2 -10h0m4 30h0m1 -46h0m1 35h0m6 -21h0m4 -10h0m1 23h0m1 16h0m6 -25h0m0 -20h0m5 9h0m1 41h0m4 -12h0m1 -16h0m0 -22h0m6 10h0m1 21h0m0 19h0m5 -51h0m4 28h0m1 -15h0m2 32h0m6 -22h0m0 -20h0m5 37h0m1 -26h0m5 37h0m0 -49h0m1 22h0m5 12h0m1 -24h0m5 -10h0m0 50h0m7 -42h0m0 34h0m0 -19h0m6 9h0m0 -35h0m6 11h0m0 14h0m0 22h0m5 -9h0m1 -35h0m4 44h0m1 -23h0m6 11h0m1 -20h0m0 -13h0m2 50h0m4 -25h0m0 16h0m6 -26h0m0 -13h0m0 47h0m3 -20h0m4 13h0m2 -44h0m3 25h0m2 27h0m4 -15h0m3 -27h0m0 -11h0m3 28h0m0 19h0m6 -42h0m4 11h0m0 15h0m2 18h0m6 -40h0m0 32h0m5 9h0m0 -22h0m1 -28h0m2 17h0m3 23h0m7 -30h0m0 41h0m0 -25h0m6 17h0m0 -43h0m6 20h0m0 15h0m0 18h0m6 -48h0m1 38h0m5 -23h0m0 11h0m1 23h0m5 -10h0m0 -41h0m4 17h0m2 14h0m0 19h0m5 -44h0m1 33h0m2 -18h0m4 27h0m0 -50h0m6 13h0m0 13h0m0 12h0m6 -38h0m0 48h0m5 -26h0m1 17h0m0 -28h0m6 -12h0m1 30h0m0 22h0m3 -32h0m2 -10h0m0 32h0m5 -15h0m6 -13h0m0 34h0m1 -46h0m0 35h0m9 -24h0m1 15h0m2 25h0m4 -15h0m2 -20h0m0 -11h0m4 23h0m0 18h0m6 -8h0m2 -17h0m1 -15h0m5 43h0m0 -19h0m5 -21h0m1 11h0m1 -22h0m5 43h0m0 -10h0m7 -33h0m0 11h0m2 17h0m0 25h0m4 -9h0m4 -23h0m1 -17h0m3 48h0m2 -11h0m1 -28h0m1 17h0m6 -26h0m3 13h0m0 36h0m1 -13h0m1 -13h0m7 -22h0m3 29h0m0 15h0m1 -31h0m7 -19h0m0 29h0m2 -16h0m0 31h0m7 -24h0m2 12h0m1 -25h0m0 37h0m7 -19h0m4 -14h0m1 39h0m2 -10h0m3 -39h0m2 18h0m5 15h0m1 -26h0m0 37h0m6 -23h0m6 31h0m0 -52h0m5 36h0m1 -20h0m2 30h0m3 -21h0m3 -18h0m6 25h0m3 -21h0m1 -11h0m3 41h0m3 -15h0m0 28h0m3 -41h0m2 -11h0m2 44h0m5 -18h0m4 25h0m1 -38h0m1 21h0m6 -9h0m1 18h0m0 -41h0m3 14h0m2 18h0m6 12h0m0 -22h0m0 -15h0m0 -10h0m6 34h0m6 12h0m0 -45h0m0 24h0m0 -13h0m6 25h0m4 -14h0m2 -19h0m0 43h0m6 -35h0m0 17h0m5 20h0m6 -9h0m1 -28h0m0 11h0m0 -23h0m3 53h0m6 -37h0m0 14h0m2 -24h0m1 40h0m9 -33h0m3 28h0m4 -10h0m2 -32h0m0 52h0m1 -31h0m4 -10h0m1 31h0m6 -9h0m0 20h0m3 -36h0m7 30h0m2 -40h0m0 22h0m2 -10h0m4 21h0m6 -35h0m1 24h0m4 -11h0m1 29h0m8 -44h0m2 49h0m0 -31h0m2 11h0m5 9h0m1 -30h0m0 -11h0m5 29h0m0 23h0m7 -43h0m0 12h0m0 24h0m6 -14h0m4 10h0m2 -40h0m0 20h0m6 31h0m0 -21h0m0 -21h0m6 -10h0m0 20h0m1 20h0m5 -30h0m1 39h0m1 -17h0m4 -13h0m4 23h0m2 -36h0m6 12h0m1 12h0m5 10h0m6 -12h0m0 -18h0m0 40h0m7 -14h0m5 14h0m0 -30h0m1 -14h0m5 33h0m3 -12h0m2 -15h0m0 39h0m0 -51h0m8 23h0m0 18h0m5 -39h0m1 51h0m0 -21h0m0 -18h0m5 30h0m3 -36h0m3 19h0m1 26h0m5 -51h0m0 39h0m7 -10h0m0 21h0m5 -48h0m0 36h0m3 -16h0m2 30h0m2 -41h0m5 23h0m0 -34h0m1 45h0m0 -26h0m6 -9h0m5 17h0m1 23h0m4 -42h0m1 31h0m5 13h0m0 -30h0m0 -24h0m8 31h0m0 -23h0m0 38h0m6 -25h0m6 32h0m0 -42h0m0 24h0m6 -12h0m6 26h0m0 -46h0m0 30h0m0 -19h0m6 8h0m6 20h0m3 -37h0m3 46h0m0 -21h0m10 -28h0m2 39h0m0 -13h0m0 24h0m0 -37h0m12 22h0m0 -14h0m0 -14h0m1 44h0m9 -14h0m1 -20h0m1 30h0m0 -48h0m6 30h0m5 -17h0m1 -12h0m0 46h0m6 -27h0m6 25h0m0 -11h0m0 -33h0m1 11h0m5 11h0m6 -18h0m0 41h0m3 -11h0m3 -17h0m2 34h0m4 -23h0m0 -30h0m0 10h0m0 31h0m6 -21h0m1 30h0m5 -46h0m6 15h0m0 16h0m0 17h0m5 -47h0m3 38h0m1 -15h0m3 -13h0m2 38h0m4 -12h0m4 -15h0m2 26h0m0 -47h0m2 10h0m10 3h0m0 24h0m1 -40h0m10 -1h0m0 37h0m1 -23h0m1 33h0m5 -24h0m3 -18h0m2 38h0m2 -12h0m4 -14h0m6 19h0m2 -31h0m2 43h0m1 -25h0m4 -24h0m1 14h0m3 16h0m1 11h0m5 -36h0m0 45h0m1 -29h0m6 19h0m4 -23h0m2 10h0m0 -20h0m5 45h0m1 -11h0m3 -29h0m5 9h0m1 26h0m3 -15h0m0 -29h0m4 12h0m1 38h0m4 -14h0m2 -13h0m3 -20h0m9 10h0m0 33h0m7 -24h0m6 -15h0m0 35h0m0 -46h0m9 16h0m4 14h0m0 14h0m0 -38h0m7 10h0m4 23h0m0 -39h0m6 54h0m0 -36h0m10 4h0m2 25h0m0 -46h0m0 32h0m8 -14h0m4 29h0m0 -14h0m6 -31h0m1 14h0m11 16h0m0 -16h0m0 27h0m6 -40h0m5 14h0m1 31h0m2 -10h0m3 -32h0m2 22h0m5 -10h0m0 32h0m7 -16h0m0 -30h0m5 48h0m2 -28h0m4 -22h0m5 50h0m1 -34h0m6 21h0m0 -13h0m6 -25h0m0 51h0m14 -35h0m2 29h0m14 -6h0m0 -15h0m12 -9h0m6 16h0m2 14h0m4 -39h0m0 12h0m4 19h0m10 12h0m4 -36h0m0 -11h0m3 32h0m9 -6h0m0 -18h0m6 8h0m0 34h0m12 -27h0m3 -27h0m9 17h0m6 32h0m6 -27h0m0 -22h0m0 33h0m6 14h0m3 -40h0m0 21h0m3 11h0m1 -22h0m12 -17h0m6 18h0m6 36h0m0 -13h0m5 -22h0m7 -9h0m12 -4h0m0 30h0m0 15h0m0 -27h0m14 -3h0m7 -11h0m1 22h0m2 18h0m11 -41h0m1 30h0m6 -21h0m4 27h0m2 -40h0m6 13h0m3 -17h0m3 41h0m0 -11h0m6 -12h0m0 32h0m4 -50h0m6 31h0m1 16h0m9 -8h0m2 -29h0m1 12h0m0 31h0m7 -18h0m7 -20h0m11 -14h0m2 23h0m13 -5h0m9 -19h0m0 37h0m0 -25h0m4 36h0m2 -23h0m6 11h0m0 -35h0m6 15h0m6 32h0m0 -14h0m2 -23h0m11 15h0m11 -9h0m6 20h0m0 -33h0m6 46h0m6 -42h0m0 30h0m6 -22h0m11 -16h0m1 50h0m14 -37h0m0 10h0m0 -22h0m0 36h0m0 13h0m8 -20h0m8 -27h0m0 45h0m3 -12h0m15 -14h0m0 -21h0m0 40h0m9 7h0m0 -18h0m0 -24h0m27 33h0m6 -17h0m11 30h0m3 -42h0m6 16h0m12 -15h0m13 21h0m9 -22h0m2 -10h0m5 47h0m12 -32h0m5 -9h0m1 24h0m0 13h0m8 -31h0m0 40h0m9 -20h0m7 -27h0m12 21h0m1 27h0m5 -44h0m12 25h0m6 -10h0m6 22h0m2 -12h0m4 -13h0m12 20h0m3 -24h0m9 30h0m18 -7h0m15 -36h0m2 12h0m1 13h0m8 -6h0m5 -18h0m5 25h0m0 -14h0m12 22h0m6 16h0m0 -37h0m12 24h0m12 -42h0m10 52h0m0 -34h0m4 16h0m12 5h0m0 -21h0m4 10h0m40 15h0m8 -27h0m13 8h0m7 -15h0m0 37h0m0 -14h0m18 17h0m16 -15h0m1 -21h0m11 9h0m21 3h0m0 16h0m0 -29h0m0 40h0m35 -4h0m23 -18h0m6 -14h0m0 -15h0m0 37h0m3 12h0m22 -39h0m8 -7h0m12 36h0m2 -17h0m64 -18h0m0 12h0m0 34h0m0 -14h0m45 -28h0m0 27h0m19 -3h0m28 -19h0m32 11h0"/><path d="M1372 1566h0m0 13h0m0 -31h0m0 -10h0m0 -11h0m12 1h0m3 45h0m1 -32h0m10 -7h0m0 35h0m0 -21h0m5 11h0m5 15h0m0 -43h0m1 11h0m4 13h0m3 11h0m4 -34h0m1 43h0m1 -32h0m3 15h0m9 -32h0m0 51h0m0 -31h0m1 13h0m5 -22h0m6 17h0m6 11h0m0 -19h0m1 -15h0m5 26h0m0 21h0m5 -43h0m1 13h0m6 32h0m0 -54h0m0 30h0m6 -12h0m0 23h0m5 -13h0m1 -19h0m0 40h0m6 -31h0m6 25h0m0 -15h0m0 -27h0m5 12h0m6 21h0m3 -24h0m2 12h0m2 21h0m0 -43h0m4 31h0m2 21h0m0 -41h0m8 35h0m1 -11h0m1 -31h0m2 10h0m0 11h0m6 27h0m0 -12h0m6 -21h0m0 13h0m0 -30h0m6 43h0m6 -28h0m1 36h0m0 -17h0m2 -30h0m7 16h0m2 13h0m0 16h0m0 -40h0m7 16h0m5 10h0m0 -24h0m0 36h0m7 -23h0m3 18h0m3 -30h0m2 -12h0m2 23h0m4 22h0m3 -35h0m1 24h0m5 16h0m0 -51h0m1 27h0m2 -11h0m2 26h0m7 10h0m1 -46h0m1 14h0m4 19h0m1 -10h0m4 -18h0m1 42h0m1 -54h0m5 28h0m5 -9h0m1 34h0m0 -11h0m0 -35h0m5 22h0m7 -19h0m1 43h0m2 -16h0m4 -12h0m0 -23h0m3 12h0m3 20h0m0 14h0m5 -45h0m1 16h0m4 20h0m2 -11h0m0 24h0m3 -45h0m4 12h0m1 26h0m3 -10h0m2 -27h0m5 10h0m0 33h0m3 -22h0m2 -22h0m1 33h0m6 9h0m0 -28h0m3 -12h0m3 23h0m4 18h0m2 -49h0m0 18h0m3 21h0m2 -10h0m2 -21h0m5 36h0m0 -25h0m6 -13h0m0 24h0m0 24h0m6 -39h0m2 26h0m2 -41h0m8 47h0m0 -24h0m6 10h0m0 -29h0m6 41h0m2 -20h0m4 -17h0m0 45h0m0 -18h0m6 -14h0m3 -18h0m3 47h0m0 -12h0m0 -26h0m6 16h0m1 -25h0m3 39h0m2 11h0m0 -39h0m4 11h0m2 10h0m0 -33h0m6 47h0m3 -25h0m1 -10h0m0 26h0m2 -41h0m6 50h0m0 -20h0m1 -22h0m4 12h0m4 -20h0m2 30h0m1 -20h0m0 38h0m7 -10h0m3 -20h0m1 -13h0m0 47h0m1 -24h0m6 10h0m2 -26h0m2 -12h0m2 50h0m0 -21h0m6 -20h0m0 29h0m7 -15h0m2 -21h0m2 48h0m1 -16h0m0 -20h0m6 9h0m6 21h0m0 -37h0m5 16h0m2 13h0m4 -22h0m2 38h0m2 -26h0m3 -22h0m1 32h0m5 -19h0m0 33h0m6 -16h0m1 -25h0m5 17h0m0 18h0m1 -43h0m4 14h0m2 21h0m5 -10h0m0 -24h0m0 43h0m7 -10h0m5 10h0m0 -38h0m3 15h0m7 -19h0m0 40h0m1 10h0m1 -24h0m0 -15h0m11 31h0m1 -36h0m0 23h0m0 -11h0m7 32h0m4 -27h0m0 15h0m0 -28h0m2 -11h0m6 48h0m0 -31h0m0 14h0m5 -28h0m6 11h0m0 19h0m1 11h0m7 -43h0m4 20h0m1 10h0m0 10h0m5 -32h0m1 42h0m0 -52h0m6 34h0m0 -11h0m6 -17h0m1 36h0m3 -21h0m5 29h0m2 -46h0m2 25h0m5 -14h0m0 27h0m6 -15h0m0 -20h0m6 8h0m4 22h0m2 10h0m0 -22h0m0 -19h0m6 9h0m4 22h0m1 14h0m1 -47h0m0 22h0m6 -12h0m4 26h0m2 -12h0m1 22h0m2 -49h0m3 12h0m2 26h0m4 -15h0m0 25h0m6 -33h0m0 -14h0m0 30h0m6 12h0m2 -35h0m0 13h0m4 11h0m0 20h0m0 -53h0m6 16h0m0 28h0m4 -40h0m2 49h0m0 -17h0m0 -11h0m6 -9h0m6 21h0m0 -34h0m0 48h0m5 -25h0m0 -14h0m7 -9h0m0 31h0m0 20h0m3 -37h0m7 -9h0m2 27h0m0 13h0m1 -25h0m7 -9h0m4 11h0m0 -21h0m0 36h0m6 11h0m2 -35h0m4 16h0m6 20h0m0 -36h0m0 -17h0m0 42h0m5 -10h0m7 -30h0m0 12h0m1 34h0m5 -18h0m6 16h0m0 -31h0m6 17h0m0 -28h0m2 48h0m2 -31h0m2 21h0m5 -32h0m0 18h0m1 26h0m6 -18h0m1 -16h0m5 -18h0m0 43h0m6 -17h0m0 -11h0m4 -12h0m3 46h0m5 -33h0m0 15h0m3 -27h0m3 37h0m4 -29h0m2 13h0m1 23h0m8 -12h0m1 -28h0m3 17h0m5 18h0m5 -15h0m2 -11h0m4 35h0m2 -46h0m1 25h0m5 11h0m0 -24h0m6 -9h0m2 28h0m2 -17h0m0 -22h0m0 53h0m5 -23h0m3 14h0m4 -26h0m2 -10h0m0 46h0m1 -26h0m5 10h0m5 -16h0m0 -16h0m1 42h0m6 -9h0m5 -31h0m1 22h0m0 17h0m6 -8h0m4 -19h0m1 31h0m0 -50h0m3 30h0m3 11h0m0 -31h0m7 13h0m0 -24h0m0 55h0m6 -20h0m0 -26h0m6 41h0m0 -23h0m4 -22h0m1 12h0m1 21h0m6 14h0m1 -52h0m5 41h0m0 -27h0m0 17h0m6 -26h0m6 26h0m0 11h0m5 -24h0m1 34h0m0 -50h0m5 28h0m1 13h0m5 -23h0m4 -10h0m3 33h0m0 -13h0m2 -30h0m6 52h0m4 -48h0m0 20h0m0 13h0m6 11h0m6 -15h0m0 -22h0m0 12h0m6 31h0m0 -52h0m0 41h0m6 -26h0m3 16h0m1 14h0m1 -46h0m6 9h0m1 11h0m6 27h0m2 -48h0m1 12h0m3 27h0m3 -16h0m3 25h0m6 -19h0m0 -20h0m6 31h0m0 -22h0m0 36h0m0 -53h0m6 8h0m0 18h0m6 25h0m1 -17h0m2 -14h0m4 -18h0m5 23h0m0 -10h0m0 32h0m6 -13h0m2 -27h0m3 16h0m1 28h0m6 -40h0m0 21h0m6 21h0m0 -50h0m2 22h0m5 -12h0m5 13h0m0 24h0m0 -13h0m5 -27h0m7 33h0m0 -41h0m0 19h0m6 14h0m0 -24h0m6 33h0m0 -23h0m0 -18h0m6 9h0m6 29h0m0 -13h0m5 -27h0m4 20h0m3 31h0m0 -42h0m0 27h0m6 -14h0m6 19h0m1 -11h0m0 -31h0m6 23h0m5 8h0m0 -20h0m0 42h0m1 -52h0m10 12h0m0 41h0m1 -31h0m1 17h0m0 -40h0m10 29h0m1 15h0m0 -31h0m4 41h0m2 -33h0m10 20h0m2 -22h0m7 11h0m0 -28h0m5 10h0m0 39h0m1 -11h0m7 -10h0m0 -11h0m3 28h0m2 -39h0m6 8h0m4 31h0m1 -13h0m0 -30h0m7 11h0m6 13h0m0 -28h0m5 53h0m2 -34h0m6 11h0m5 20h0m0 -49h0m2 37h0m10 -2h0m1 16h0m5 -30h0m6 18h0m0 -39h0m7 27h0m0 -19h0m5 33h0m10 -43h0m2 10h0m1 17h0m5 26h0m12 -33h0m0 17h0m6 -34h0m4 42h0m26 -6h0m3 -10h0m9 -7h0m6 8h0m6 -11h0m2 23h0m0 -34h0m0 47h0m9 -21h0m5 18h0m2 -34h0m18 0h0m0 14h0m1 -28h0m11 20h0m1 12h0m12 -34h0m5 9h0m2 33h0m11 -23h0m2 -14h0m0 32h0m0 10h0m9 -16h0m7 -25h0m11 16h0m3 12h0m2 14h0m14 -35h0m6 -11h0m0 35h0m0 -12h0m5 -13h0m0 40h0m10 -32h0m20 -17h0m3 42h0m4 -10h0m6 -33h0m1 49h0m10 -48h0m1 39h0m5 -21h0m4 10h0m3 11h0m17 -9h0m0 -14h0m0 27h0m0 -40h0m13 29h0m12 -26h0m2 13h0m14 -13h0m8 29h0m0 -19h0m5 -9h0m7 14h0m0 12h0m0 13h0m0 -48h0m6 12h0m12 35h0m0 -17h0m0 -25h0m8 15h0m10 -15h0m1 17h0m5 13h0m12 -6h0m0 19h0m12 -31h0m9 -10h0m11 21h0m0 -25h0m0 12h0m0 32h0m10 -25h0m6 -13h0m18 17h0m9 11h0m0 13h0m3 -42h0m31 24h0m3 -13h0m19 -7h0m31 -13h0m1 33h0m6 -25h0m18 4h0m4 15h0m2 10h0m37 -12h0m0 -25h0m0 51h0m11 -19h0m6 -12h0m6 25h0m4 -10h0m14 -3h0m0 10h0m48 -14h0m0 -12h0m27 13h0m10 14h0m11 -12h0m15 -30h0m7 47h0m0 -37h0m16 11h0m0 14h0m4 -27h0m66 12h0m2 15h0m0 -29h0m0 41h0m36 -14h0m31 -9h0m0 13h0m0 -26h0m0 -11h0m3 49h0m61 -40h0m6 -12h0m41 25h0m1 -11h0m63 -8h0m0 36h0m0 -21h0m0 33h0m45 -37h0"/><path d="M1372 1571h0m0 -12h0m0 -14h0m0 -15h0m8 49h0m8 -13h0m3 -18h0m1 -12h0m0 40h0m6 -18h0m5 -28h0m1 44h0m0 -31h0m5 21h0m1 -11h0m6 -13h0m0 39h0m0 -51h0m6 41h0m0 -15h0m6 -10h0m2 17h0m4 13h0m1 -43h0m2 20h0m7 28h0m3 -41h0m3 16h0m3 20h0m2 -45h0m2 12h0m1 21h0m6 13h0m1 -45h0m2 27h0m3 -16h0m6 22h0m0 12h0m0 -45h0m0 20h0m6 -9h0m5 29h0m1 -14h0m1 25h0m2 -46h0m3 12h0m4 24h0m2 -12h0m7 -18h0m3 21h0m1 -10h0m1 -20h0m3 47h0m4 -10h0m0 -27h0m1 15h0m10 -21h0m0 21h0m0 20h0m1 -30h0m6 19h0m5 -19h0m0 31h0m1 -45h0m5 23h0m1 12h0m6 -32h0m3 36h0m2 -16h0m6 -24h0m0 15h0m1 19h0m0 12h0m8 -38h0m2 16h0m2 24h0m1 -51h0m5 40h0m1 -25h0m3 10h0m1 24h0m1 -46h0m6 15h0m5 29h0m0 -37h0m3 22h0m4 -31h0m1 16h0m5 25h0m0 -15h0m1 -18h0m5 -11h0m5 28h0m0 -15h0m1 32h0m6 -40h0m5 16h0m2 29h0m5 -38h0m0 21h0m7 12h0m1 -26h0m0 -14h0m4 24h0m6 -16h0m0 30h0m0 -44h0m0 54h0m3 -29h0m6 -19h0m3 40h0m0 -12h0m0 -14h0m7 -17h0m2 48h0m1 -19h0m2 -10h0m2 21h0m4 -36h0m6 20h0m1 -11h0m5 33h0m0 -43h0m0 31h0m6 -20h0m6 37h0m0 -27h0m0 14h0m0 -33h0m6 10h0m5 32h0m1 -14h0m0 -31h0m6 21h0m3 17h0m3 -29h0m0 39h0m0 -52h0m6 25h0m4 -16h0m2 32h0m6 -21h0m0 -21h0m0 31h0m4 16h0m2 -34h0m5 -10h0m6 27h0m0 10h0m1 10h0m0 -33h0m3 -10h0m9 40h0m0 -18h0m0 -13h0m1 -11h0m5 33h0m6 13h0m0 -46h0m0 17h0m3 11h0m3 -19h0m0 29h0m6 -37h0m0 17h0m6 29h0m0 -15h0m5 -32h0m1 14h0m6 18h0m3 -33h0m1 23h0m2 -12h0m0 35h0m6 -14h0m3 -27h0m3 13h0m0 31h0m6 -21h0m0 -30h0m0 11h0m1 32h0m8 8h0m2 -44h0m1 15h0m0 14h0m8 -35h0m3 22h0m1 14h0m1 16h0m0 -43h0m9 13h0m2 16h0m1 10h0m5 -36h0m2 17h0m7 20h0m0 -45h0m2 12h0m1 13h0m6 -31h0m0 43h0m4 -20h0m3 11h0m1 -26h0m4 42h0m3 -25h0m3 -24h0m0 13h0m1 23h0m6 10h0m0 -20h0m6 9h0m5 -8h0m0 -15h0m1 -10h0m0 47h0m5 -10h0m6 9h0m0 -44h0m1 21h0m0 -11h0m6 23h0m5 13h0m0 -37h0m0 13h0m0 -23h0m7 32h0m4 13h0m0 -25h0m0 -22h0m2 11h0m5 21h0m5 -25h0m1 12h0m3 27h0m3 -17h0m5 -11h0m2 -10h0m6 19h0m0 11h0m2 12h0m0 -34h0m4 -14h0m6 21h0m0 14h0m0 12h0m0 -38h0m12 13h0m3 21h0m4 -45h0m2 35h0m3 -12h0m0 28h0m9 -51h0m0 25h0m3 -15h0m4 24h0m2 12h0m0 -26h0m2 -23h0m2 10h0m7 40h0m1 -21h0m0 -29h0m6 10h0m10 19h0m0 -18h0m1 33h0m7 -26h0m0 35h0m0 -16h0m6 -10h0m0 -23h0m6 50h0m0 -17h0m0 -21h0m6 -8h0m0 38h0m4 -17h0m7 17h0m1 -37h0m1 11h0m3 15h0m8 -16h0m0 -16h0m0 44h0m2 -15h0m10 -18h0m0 15h0m0 -26h0m1 42h0m10 -35h0m1 32h0m4 -20h0m2 29h0m6 -38h0m0 26h0m10 10h0m1 -34h0m7 25h0m0 -35h0m0 21h0m3 24h0m3 -34h0m6 -11h0m1 29h0m5 -16h0m0 28h0m12 3h0m0 -36h0m1 22h0m5 -33h0m0 24h0m5 19h0m1 -30h0m6 15h0m0 -25h0m3 40h0m3 -25h0m6 18h0m0 -32h0m6 10h0m0 12h0m6 20h0m0 -42h0m0 32h0m6 -22h0m6 29h0m0 -19h0m0 -21h0m6 29h0m6 -18h0m0 30h0m1 -43h0m5 26h0m5 16h0m2 -27h0m4 15h0m0 21h0m4 -43h0m3 30h0m0 -17h0m5 26h0m2 -36h0m4 17h0m0 -26h0m1 38h0m7 -21h0m0 31h0m4 -10h0m1 -11h0m1 -23h0m4 42h0m1 -29h0m7 19h0m0 -38h0m5 19h0m1 29h0m5 -46h0m1 31h0m5 13h0m1 -34h0m0 13h0m6 13h0m0 -40h0m3 53h0m2 -34h0m1 -11h0m0 22h0m4 13h0m8 -39h0m0 13h0m0 16h0m6 12h0m4 -37h0m0 21h0m8 21h0m2 -10h0m4 -19h0m0 -20h0m6 11h0m0 32h0m1 -17h0m11 13h0m0 -31h0m0 14h0m6 -24h0m0 32h0m6 -17h0m0 34h0m6 -44h0m0 35h0m12 -40h0m0 44h0m0 -17h0m0 -16h0m6 43h0m6 -16h0m0 -10h0m0 -25h0m6 48h0m0 -34h0m6 26h0m1 -38h0m2 20h0m9 -14h0m1 33h0m11 2h0m2 -43h0m1 12h0m3 21h0m6 -13h0m0 22h0m3 -34h0m3 24h0m0 20h0m4 -32h0m2 -18h0m0 40h0m6 -31h0m0 16h0m6 18h0m0 -26h0m6 -18h0m2 34h0m4 -23h0m6 31h0m0 -16h0m10 8h0m2 12h0m0 -23h0m0 -12h0m0 -13h0m12 11h0m0 32h0m6 -23h0m6 25h0m0 -34h0m4 22h0m2 -35h0m0 23h0m6 27h0m0 -35h0m3 16h0m9 -5h0m0 -13h0m0 31h0m12 -37h0m1 21h0m0 13h0m0 -23h0m5 33h0m5 -21h0m7 9h0m1 -29h0m0 13h0m6 28h0m5 -18h0m1 -18h0m5 36h0m1 -27h0m0 -20h0m5 34h0m0 -25h0m10 10h0m3 -16h0m8 10h0m4 31h0m6 -24h0m0 -14h0m0 28h0m6 8h0m3 -30h0m4 16h0m5 9h0m6 -32h0m0 11h0m17 -3h0m4 14h0m9 -14h0m0 32h0m6 -13h0m6 -30h0m6 32h0m1 13h0m5 -28h0m6 24h0m7 -13h0m0 -32h0m0 19h0m5 29h0m2 -40h0m16 24h0m0 -12h0m1 -12h0m5 42h0m8 -13h0m2 -19h0m34 24h0m24 -23h0m0 21h0m0 -34h0m16 38h0m0 -28h0m18 0h0m30 -6h0m6 -8h0m1 43h0m8 -22h0m0 -13h0m3 41h0m3 -50h0m2 33h0m10 -30h0m9 16h0m6 16h0m19 -28h0m0 21h0m3 -10h0m2 20h0m12 -24h0m29 25h0m2 -36h0m12 -2h0m5 23h0m24 -1h0m0 -18h0m0 29h0m31 -34h0m17 10h0m1 19h0m6 -29h0m6 30h0m0 20h0m6 -42h0m12 18h0m0 10h0m0 -34h0m14 25h0m10 -17h0m0 26h0m12 11h0m0 -16h0m24 -31h0m8 24h0m0 -17h0m0 31h0m0 11h0m16 -26h0m1 -13h0m17 24h0m9 -11h0m1 23h0m2 -33h0m109 -7h0m0 15h0m8 17h0m35 -13h0m0 -23h0m17 30h0m15 -1h0m18 7h0m69 -11h0m18 11h0m22 6h0m20 -9h0m68 -8h0m0 -16h0m0 31h0m0 -42h0m67 22h0m0 10h0m0 11h0m0 -44h0m64 18h0m5 -11h0m42 22h0m64 -27h0m0 13h0m0 30h0m0 -15h0"/><path d="M1372 1563h0m0 -13h0m0 30h0m0 -42h0m0 -11h0m20 21h0m1 -15h0m5 44h0m1 -12h0m3 -16h0m2 -11h0m6 38h0m1 -48h0m2 31h0m3 -23h0m0 11h0m6 25h0m0 -16h0m8 8h0m2 -24h0m2 36h0m4 -44h0m1 25h0m9 -15h0m4 15h0m3 -25h0m2 15h0m1 21h0m0 11h0m6 -43h0m1 21h0m5 18h0m1 -28h0m5 15h0m0 -28h0m3 18h0m4 23h0m5 -36h0m6 30h0m0 -19h0m0 -21h0m12 28h0m0 13h0m1 -32h0m5 8h0m1 -17h0m4 45h0m1 -19h0m2 -18h0m10 26h0m0 -32h0m0 43h0m0 -31h0m6 11h0m6 15h0m0 -24h0m1 -16h0m5 24h0m1 24h0m6 -8h0m0 -34h0m5 14h0m1 11h0m5 -31h0m0 42h0m3 -29h0m3 13h0m7 -15h0m0 40h0m5 -24h0m6 19h0m1 -43h0m0 13h0m5 13h0m7 19h0m0 -36h0m0 25h0m6 -34h0m0 21h0m6 -12h0m0 20h0m0 12h0m6 -46h0m2 24h0m3 13h0m0 -25h0m1 38h0m6 -23h0m2 16h0m4 -27h0m1 37h0m5 -49h0m0 24h0m3 13h0m3 -26h0m6 -15h0m0 31h0m0 22h0m6 -12h0m0 -32h0m1 13h0m6 29h0m2 -50h0m3 27h0m0 -14h0m0 27h0m6 8h0m4 -44h0m1 24h0m1 11h0m6 -21h0m0 31h0m1 -50h0m6 28h0m5 -20h0m0 38h0m0 -27h0m6 15h0m5 -20h0m1 34h0m0 -48h0m0 26h0m8 -20h0m1 36h0m1 -22h0m2 10h0m0 22h0m6 -50h0m3 34h0m1 -16h0m2 29h0m4 -46h0m2 24h0m6 10h0m1 -27h0m5 35h0m0 -24h0m6 9h0m0 -19h0m0 -11h0m6 49h0m6 -42h0m0 17h0m3 12h0m7 -21h0m2 -12h0m0 40h0m0 -13h0m6 22h0m0 -31h0m6 17h0m0 -36h0m6 9h0m0 38h0m0 -26h0m5 15h0m5 -18h0m2 -12h0m0 42h0m3 -19h0m3 -31h0m0 42h0m1 -25h0m9 10h0m2 12h0m0 -32h0m4 45h0m5 -25h0m1 17h0m1 -33h0m1 -12h0m6 54h0m0 -30h0m1 11h0m4 10h0m1 -44h0m6 15h0m0 17h0m0 20h0m6 -47h0m1 18h0m5 23h0m3 -36h0m3 18h0m6 -12h0m1 26h0m2 10h0m3 -20h0m3 -23h0m6 41h0m3 -25h0m0 -26h0m6 38h0m0 -27h0m5 41h0m2 -23h0m2 -27h0m0 13h0m3 24h0m6 13h0m1 -27h0m0 -17h0m5 29h0m1 -20h0m6 29h0m4 -14h0m2 -26h0m3 16h0m2 22h0m6 -9h0m0 -28h0m4 11h0m2 26h0m6 10h0m1 -26h0m0 -27h0m0 13h0m5 30h0m4 -38h0m1 15h0m0 10h0m0 22h0m5 -9h0m2 -43h0m6 29h0m0 -18h0m7 35h0m0 -26h0m2 16h0m4 -26h0m6 12h0m1 18h0m5 -29h0m0 42h0m6 -26h0m0 -25h0m2 15h0m1 22h0m9 -19h0m5 34h0m4 -25h0m2 -21h0m1 10h0m9 -7h0m6 13h0m3 22h0m0 -11h0m0 -30h0m4 10h0m2 39h0m7 -48h0m0 20h0m5 18h0m3 -28h0m7 -10h0m2 28h0m0 12h0m6 -31h0m0 10h0m6 19h0m3 -12h0m3 -26h0m0 14h0m0 33h0m8 -53h0m0 31h0m4 15h0m0 -27h0m6 -10h0m0 22h0m6 -8h0m0 27h0m6 -40h0m0 29h0m0 -40h0m4 29h0m2 22h0m6 -33h0m0 21h0m0 -37h0m4 51h0m8 -34h0m0 24h0m6 -35h0m3 44h0m3 -24h0m0 12h0m0 -23h0m10 34h0m4 -39h0m4 26h0m0 -17h0m0 -20h0m6 53h0m1 -25h0m0 -15h0m7 -12h0m4 18h0m0 20h0m0 13h0m13 -31h0m0 -16h0m3 47h0m2 -12h0m0 -10h0m5 -30h0m0 19h0m7 10h0m0 -22h0m0 37h0m6 -28h0m6 24h0m1 -11h0m5 -25h0m1 16h0m5 16h0m1 14h0m2 -37h0m1 -11h0m8 6h0m0 13h0m0 17h0m4 15h0m8 -43h0m6 37h0m1 -10h0m0 -16h0m10 -11h0m0 24h0m4 18h0m4 -26h0m5 17h0m1 -39h0m4 19h0m1 10h0m0 -20h0m4 33h0m1 -44h0m6 34h0m1 -10h0m1 -15h0m0 41h0m6 -50h0m6 40h0m0 -26h0m0 12h0m6 -22h0m6 25h0m0 12h0m5 -34h0m6 12h0m0 13h0m1 12h0m5 -40h0m7 42h0m0 -33h0m0 21h0m6 -9h0m0 -21h0m5 34h0m1 -24h0m4 36h0m2 -21h0m0 -28h0m6 9h0m6 34h0m0 -11h0m0 -14h0m1 -18h0m8 25h0m3 -24h0m6 14h0m0 27h0m12 -17h0m6 20h0m0 -37h0m0 -11h0m12 39h0m0 -30h0m0 10h0m0 33h0m12 -18h0m0 12h0m0 -23h0m1 -21h0m5 10h0m6 36h0m2 -44h0m4 18h0m0 13h0m6 -23h0m6 36h0m8 -46h0m4 41h0m0 -26h0m0 12h0m6 23h0m6 -45h0m0 29h0m0 -15h0m6 28h0m6 -26h0m0 -17h0m3 38h0m6 -26h0m3 -10h0m5 23h0m3 10h0m1 -22h0m3 -12h0m3 24h0m3 15h0m6 -35h0m6 38h0m0 -24h0m6 -10h0m1 21h0m6 -29h0m5 39h0m5 -12h0m1 -26h0m0 15h0m6 21h0m4 -11h0m2 -11h0m1 -14h0m10 40h0m1 -13h0m1 -10h0m5 -22h0m1 10h0m5 18h0m0 10h0m1 11h0m11 -17h0m1 -27h0m0 38h0m6 -23h0m6 25h0m0 -13h0m5 -21h0m1 12h0m4 24h0m2 -45h0m0 29h0m11 -5h0m5 -17h0m7 10h0m1 22h0m6 -31h0m5 29h0m8 -32h0m0 15h0m5 13h0m6 -31h0m0 41h0m0 -25h0m18 -7h0m18 30h0m12 -11h0m6 8h0m0 -21h0m13 3h0m0 11h0m5 -29h0m6 41h0m30 -25h0m56 -8h0m0 25h0m0 -14h0m16 21h0m19 -31h0m32 1h0m4 27h0m8 -19h0m0 -18h0m28 19h0m5 -9h0m1 29h0m18 -43h0m5 19h0m0 28h0m12 -30h0m31 14h0m0 -24h0m0 37h0m12 -45h0m12 23h0m17 -7h0m0 -17h0m1 30h0m48 -23h0m0 26h0m6 -16h0m6 9h0m2 -27h0m16 9h0m10 16h0m14 -9h0m8 16h0m36 -2h0m0 -27h0m0 11h0m16 15h0m27 6h0m0 -10h0m3 27h0m114 -25h0m38 -9h0m17 8h0m0 11h0m24 0h0m118 6h0m88 -14h0m0 -12h0m0 31h0m4 -47h0m63 31h0m0 15h0m0 -33h0m64 6h0m47 4h0m64 -13h0m0 26h0m0 -37h0m0 51h0m0 -28h0"/><path d="M1372 1556h0m0 -12h0m0 31h0m0 -45h0m6 34h0m20 -34h0m0 22h0m1 27h0m5 -17h0m0 -20h0m6 8h0m1 27h0m5 -42h0m0 33h0m6 -17h0m0 26h0m6 -12h0m6 -27h0m1 36h0m2 -26h0m15 0h0m1 -10h0m2 24h0m3 -36h0m0 50h0m6 -33h0m4 14h0m2 -24h0m0 45h0m6 -14h0m0 -16h0m6 -16h0m6 16h0m6 27h0m0 -35h0m1 19h0m7 10h0m5 -17h0m0 -11h0m5 25h0m0 -34h0m5 20h0m0 24h0m5 -40h0m1 24h0m4 11h0m3 -18h0m0 -25h0m1 13h0m5 24h0m0 14h0m6 -28h0m0 -12h0m1 -12h0m5 46h0m1 -10h0m7 -13h0m4 18h0m1 -33h0m5 14h0m0 10h0m2 21h0m5 -11h0m0 -33h0m4 12h0m1 12h0m3 21h0m4 -45h0m2 14h0m3 23h0m3 -45h0m4 12h0m0 14h0m8 18h0m3 -38h0m1 28h0m6 -11h0m3 -15h0m1 27h0m7 -20h0m1 12h0m0 -29h0m0 47h0m11 -19h0m1 -16h0m1 40h0m5 -48h0m6 24h0m5 -18h0m3 40h0m2 -13h0m2 -12h0m6 21h0m1 -37h0m5 21h0m4 -14h0m1 26h0m1 -39h0m6 25h0m3 25h0m3 -13h0m0 -21h0m6 -17h0m4 27h0m2 16h0m0 -28h0m6 -14h0m0 51h0m0 -17h0m6 -19h0m0 27h0m0 -17h0m11 15h0m1 -12h0m0 -13h0m1 -13h0m5 49h0m6 -12h0m0 -28h0m0 13h0m0 -26h0m8 53h0m3 -45h0m1 25h0m6 12h0m6 -27h0m0 11h0m0 24h0m0 -52h0m6 40h0m6 -14h0m0 -19h0m0 46h0m6 -11h0m6 -35h0m0 44h0m0 -29h0m2 10h0m4 10h0m6 -39h0m0 22h0m3 25h0m3 -10h0m0 -24h0m6 -10h0m3 18h0m3 16h0m6 -38h0m0 10h0m0 36h0m1 -16h0m5 -11h0m6 16h0m0 -34h0m1 44h0m5 -19h0m0 -16h0m5 -12h0m1 38h0m0 13h0m5 -30h0m2 -14h0m4 33h0m1 -11h0m2 -29h0m4 13h0m1 35h0m4 -10h0m2 -36h0m0 25h0m4 -13h0m6 38h0m1 -13h0m0 -12h0m2 -18h0m6 35h0m6 -11h0m4 -20h0m6 31h0m0 -21h0m0 11h0m6 -25h0m1 42h0m0 -52h0m5 44h0m2 -18h0m3 -22h0m1 32h0m1 -21h0m0 37h0m9 -45h0m2 23h0m0 14h0m0 -28h0m12 15h0m1 -21h0m0 42h0m6 -30h0m1 22h0m5 -41h0m0 30h0m3 -19h0m3 35h0m6 -14h0m0 -13h0m0 -19h0m4 49h0m2 -41h0m4 24h0m0 -13h0m2 23h0m5 -38h0m1 46h0m1 -22h0m5 -14h0m5 14h0m1 -24h0m0 45h0m4 -33h0m7 -10h0m1 21h0m6 16h0m0 -26h0m3 -9h0m3 -12h0m0 35h0m6 -18h0m6 13h0m6 22h0m5 -16h0m1 -13h0m11 -16h0m7 34h0m0 -23h0m0 11h0m0 25h0m6 -46h0m6 44h0m3 -32h0m3 12h0m0 -23h0m12 -6h0m0 42h0m0 -14h0m0 -16h0m6 40h0m5 -26h0m1 -11h0m1 25h0m5 -43h0m2 51h0m0 -41h0m1 14h0m9 13h0m0 -35h0m0 48h0m0 -36h0m6 9h0m2 21h0m4 -38h0m0 27h0m6 -15h0m5 -15h0m0 37h0m0 -11h0m1 23h0m6 -32h0m3 16h0m1 -28h0m8 41h0m6 -31h0m6 -11h0m0 22h0m1 12h0m9 -27h0m1 41h0m7 -52h0m0 42h0m0 -24h0m0 13h0m9 -21h0m7 -13h0m2 50h0m0 -31h0m0 18h0m13 -33h0m2 21h0m3 16h0m0 -28h0m0 38h0m6 -20h0m6 -15h0m0 -11h0m0 42h0m4 -10h0m2 -12h0m7 -7h0m5 12h0m0 -29h0m1 42h0m5 -32h0m5 27h0m2 -18h0m5 -10h0m0 20h0m1 18h0m12 -30h0m0 -17h0m5 46h0m3 -11h0m3 -10h0m9 11h0m1 -26h0m3 44h0m2 -31h0m4 20h0m4 -36h0m1 24h0m1 -10h0m4 29h0m7 -32h0m1 10h0m0 14h0m0 -41h0m6 51h0m0 -43h0m6 30h0m6 -17h0m0 -11h0m7 42h0m1 -23h0m4 -22h0m5 15h0m1 28h0m0 -12h0m5 -36h0m2 13h0m5 26h0m0 -16h0m3 -18h0m9 27h0m0 11h0m3 -27h0m1 -14h0m4 23h0m4 -16h0m6 32h0m0 -11h0m6 -15h0m1 -16h0m3 27h0m8 -17h0m0 27h0m6 -18h0m6 16h0m6 10h0m0 -32h0m0 -14h0m12 24h0m0 15h0m0 -39h0m0 12h0m1 39h0m11 -17h0m0 -17h0m6 27h0m0 -44h0m12 45h0m0 -34h0m2 17h0m4 -26h0m6 14h0m0 33h0m12 -51h0m0 39h0m1 -19h0m5 10h0m0 -19h0m0 38h0m6 -48h0m0 38h0m0 -18h0m6 32h0m0 -41h0m1 19h0m5 -28h0m3 16h0m9 6h0m5 -15h0m7 38h0m0 -23h0m8 9h0m4 17h0m0 -47h0m5 12h0m2 11h0m5 16h0m4 -30h0m8 28h0m6 -22h0m0 -15h0m0 27h0m6 11h0m0 13h0m5 -30h0m5 -12h0m3 19h0m6 11h0m6 -16h0m3 -24h0m2 35h0m0 -22h0m1 34h0m11 -10h0m1 -32h0m5 23h0m1 20h0m11 -42h0m0 42h0m1 -12h0m6 -10h0m5 -19h0m19 7h0m8 9h0m1 -19h0m3 43h0m7 -10h0m0 -28h0m0 11h0m11 -9h0m5 -10h0m14 17h0m35 23h0m0 -11h0m0 -15h0m13 15h0m5 -9h0m0 -14h0m8 38h0m28 -23h0m56 -7h0m0 33h0m4 -11h0m17 9h0m14 -41h0m36 34h0m8 -26h0m3 -13h0m1 28h0m48 -22h0m5 16h0m3 26h0m10 -24h0m44 -26h0m27 26h0m0 -11h0m49 -7h0m0 27h0m6 -19h0m6 13h0m20 -20h0m66 18h0m0 -18h0m0 30h0m43 -12h0m120 -1h0m52 9h0m142 14h0m88 -14h0m0 -12h0m0 -15h0m0 41h0m67 -4h0m0 -36h0m0 16h0m175 -21h0m0 12h0m0 24h0m0 14h0"/><path d="M1372 1551h0m0 11h0m0 -22h0m0 39h0m0 -51h0m26 12h0m3 38h0m3 -22h0m0 10h0m4 -34h0m8 26h0m0 13h0m0 -28h0m4 -14h0m8 25h0m6 14h0m1 -23h0m5 -14h0m2 46h0m11 -33h0m2 15h0m3 -24h0m0 35h0m0 10h0m12 -26h0m0 -17h0m2 40h0m4 -31h0m0 19h0m1 -38h0m5 29h0m1 -20h0m7 7h0m4 30h0m5 -38h0m0 16h0m1 13h0m9 -8h0m1 -11h0m2 -10h0m1 33h0m6 13h0m0 -21h0m4 -23h0m1 14h0m6 24h0m0 -11h0m0 -35h0m4 16h0m6 10h0m2 11h0m1 -40h0m0 12h0m0 40h0m5 -30h0m5 25h0m3 -16h0m4 -14h0m6 10h0m0 -21h0m0 43h0m6 -13h0m6 -19h0m3 37h0m4 -14h0m3 -18h0m3 -13h0m5 39h0m1 -17h0m3 -29h0m1 15h0m6 22h0m1 11h0m1 -23h0m1 -14h0m5 -9h0m3 16h0m3 26h0m4 -35h0m2 20h0m0 -30h0m0 53h0m4 -11h0m2 -24h0m9 7h0m3 -13h0m0 38h0m11 -29h0m1 -15h0m6 30h0m2 -24h0m4 10h0m0 26h0m6 -17h0m0 -29h0m4 10h0m2 27h0m5 -38h0m1 28h0m5 14h0m1 -34h0m6 -9h0m1 25h0m5 25h0m0 -13h0m0 -26h0m6 -11h0m0 24h0m6 -12h0m0 32h0m3 -13h0m3 21h0m6 -27h0m0 17h0m0 -31h0m6 -8h0m0 49h0m6 -10h0m0 -27h0m0 16h0m5 -27h0m7 35h0m3 -36h0m8 40h0m1 -27h0m0 16h0m2 -29h0m10 43h0m0 -44h0m0 19h0m7 9h0m0 -17h0m5 29h0m3 -36h0m3 44h0m0 -20h0m0 -11h0m9 25h0m3 -33h0m0 15h0m0 -27h0m5 37h0m1 13h0m6 -24h0m0 -11h0m3 27h0m3 -41h0m0 51h0m5 -26h0m1 -11h0m6 25h0m0 -37h0m2 19h0m4 30h0m3 -21h0m3 -12h0m0 -14h0m4 39h0m8 -33h0m0 22h0m7 9h0m0 -18h0m3 28h0m6 -47h0m1 18h0m2 21h0m5 -32h0m1 20h0m6 11h0m12 -5h0m0 -11h0m0 -16h0m6 42h0m5 -26h0m1 -18h0m5 37h0m1 -11h0m5 -29h0m0 15h0m5 23h0m5 -32h0m0 -11h0m2 35h0m0 -12h0m1 28h0m11 -22h0m1 -16h0m0 30h0m10 -7h0m2 -15h0m0 -14h0m0 43h0m6 -21h0m5 16h0m1 -31h0m0 -12h0m6 31h0m4 18h0m0 -32h0m1 -11h0m7 23h0m6 -28h0m0 20h0m6 14h0m0 -26h0m0 41h0m7 -31h0m5 -11h0m0 21h0m6 13h0m0 -23h0m6 -17h0m0 29h0m19 19h0m5 -32h0m3 10h0m10 -18h0m5 33h0m0 -13h0m0 -29h0m5 15h0m7 32h0m6 -30h0m12 -17h0m0 39h0m0 -17h0m5 -11h0m1 39h0m0 -19h0m6 -13h0m5 13h0m1 15h0m0 -42h0m6 8h0m3 -16h0m3 36h0m0 -11h0m6 22h0m0 -34h0m1 -11h0m4 24h0m7 -13h0m0 20h0m0 -32h0m0 44h0m5 -22h0m7 -15h0m2 25h0m0 19h0m5 -34h0m11 -1h0m6 -12h0m0 22h0m1 11h0m12 14h0m2 -33h0m3 20h0m0 -34h0m6 19h0m0 29h0m6 -47h0m6 41h0m1 -24h0m17 5h0m0 20h0m0 -36h0m6 25h0m3 -14h0m3 -16h0m0 41h0m6 -30h0m0 16h0m12 -12h0m0 -12h0m1 32h0m5 -40h0m1 49h0m6 -12h0m0 -29h0m5 13h0m6 22h0m8 -39h0m4 42h0m5 -16h0m3 -16h0m5 10h0m5 -14h0m0 25h0m1 11h0m6 -27h0m4 25h0m0 -39h0m2 27h0m6 -13h0m5 25h0m1 -15h0m0 -24h0m6 10h0m0 37h0m6 -48h0m1 39h0m5 -10h0m6 -29h0m2 44h0m2 -11h0m8 -19h0m0 -14h0m0 40h0m5 -13h0m6 -27h0m1 38h0m0 -21h0m8 6h0m2 -26h0m2 37h0m0 -27h0m4 37h0m0 -28h0m8 9h0m0 -26h0m6 15h0m0 21h0m1 14h0m6 -46h0m5 20h0m6 -23h0m2 10h0m2 28h0m8 -14h0m6 20h0m0 -47h0m12 32h0m0 10h0m0 -43h0m0 21h0m17 -11h0m1 25h0m0 11h0m0 -22h0m12 12h0m2 -21h0m4 12h0m0 -22h0m6 38h0m13 -11h0m5 -14h0m0 23h0m6 -38h0m0 25h0m4 -9h0m2 19h0m0 11h0m6 -38h0m4 18h0m12 -12h0m5 -10h0m3 40h0m1 -17h0m10 0h0m2 21h0m2 -42h0m4 10h0m9 15h0m3 -28h0m1 11h0m5 26h0m5 -20h0m0 -19h0m0 30h0m6 -20h0m0 34h0m12 -19h0m1 -14h0m6 32h0m9 -26h0m2 -13h0m1 29h0m0 14h0m12 -21h0m0 12h0m2 -30h0m15 34h0m0 -39h0m7 29h0m5 -9h0m25 -10h0m6 -11h0m0 43h0m7 -15h0m0 -19h0m15 -3h0m50 31h0m0 -14h0m13 2h0m5 -30h0m92 17h0m4 26h0m75 -28h0m4 -11h0m53 4h0m0 20h0m61 -29h0m23 15h0m1 17h0m50 -18h0m4 20h0m0 -32h0m92 20h0m0 11h0m0 -28h0m163 13h0m52 16h0m145 11h0m85 -21h0m0 -11h0m0 31h0m70 -28h0m0 35h0m1 -20h0m171 -27h0m0 25h0m0 23h0m0 -13h0"/><path d="M1372 1545h0m0 14h0m0 13h0m0 -38h0m26 3h0m6 19h0m2 11h0m3 -31h0m7 15h0m0 17h0m5 -38h0m8 18h0m6 24h0m4 -23h0m14 -4h0m5 -10h0m0 30h0m0 13h0m0 -24h0m12 -18h0m0 16h0m6 10h0m0 13h0m2 -31h0m1 -14h0m9 19h0m1 -14h0m6 37h0m5 -26h0m0 -12h0m6 32h0m6 -11h0m0 -21h0m6 31h0m0 11h0m1 -29h0m4 -11h0m7 22h0m0 15h0m0 -46h0m1 18h0m8 33h0m3 -10h0m0 -14h0m1 -12h0m0 -14h0m11 47h0m2 -14h0m4 -18h0m7 26h0m0 -11h0m0 -23h0m2 45h0m5 -30h0m5 -13h0m3 40h0m3 -26h0m3 13h0m6 -17h0m1 -21h0m8 13h0m3 38h0m3 -12h0m4 -34h0m2 22h0m6 14h0m2 -26h0m4 12h0m0 -24h0m0 50h0m6 -39h0m1 31h0m11 0h0m0 -39h0m0 19h0m12 -10h0m6 -9h0m0 26h0m0 13h0m9 -33h0m3 32h0m0 -16h0m6 -23h0m0 12h0m6 19h0m0 11h0m6 -30h0m6 -14h0m5 18h0m1 27h0m0 -13h0m6 -26h0m6 19h0m0 16h0m2 -42h0m4 18h0m6 26h0m0 -11h0m3 -26h0m3 13h0m0 33h0m6 -9h0m0 -32h0m0 19h0m0 -32h0m12 8h0m0 30h0m12 -19h0m0 22h0m0 11h0m0 -22h0m2 -28h0m10 44h0m0 -28h0m0 -12h0m0 24h0m9 7h0m3 -31h0m1 43h0m5 -26h0m2 10h0m4 12h0m0 -38h0m6 46h0m0 -34h0m0 11h0m4 11h0m2 -37h0m5 24h0m1 -12h0m0 30h0m6 -10h0m0 -36h0m3 22h0m9 8h0m0 -12h0m0 24h0m0 -35h0m6 47h0m3 -17h0m3 -17h0m1 -19h0m4 48h0m1 -20h0m6 -20h0m0 31h0m6 -16h0m6 13h0m6 -37h0m0 24h0m6 15h0m4 -27h0m3 14h0m0 24h0m12 -33h0m0 12h0m5 16h0m0 -38h0m6 27h0m1 -19h0m5 34h0m3 -10h0m1 -14h0m0 -15h0m9 7h0m0 17h0m1 -29h0m1 42h0m9 -8h0m6 -13h0m1 -22h0m0 46h0m5 -34h0m1 20h0m5 10h0m1 -41h0m0 21h0m5 -11h0m6 29h0m1 -14h0m0 -26h0m5 16h0m1 33h0m4 -16h0m2 -30h0m6 15h0m0 26h0m6 -43h0m1 28h0m5 -11h0m0 29h0m5 -20h0m1 -18h0m9 24h0m0 -12h0m0 -17h0m3 45h0m4 -36h0m8 16h0m13 18h0m5 -31h0m6 10h0m9 -21h0m3 28h0m0 11h0m0 -48h0m6 29h0m3 -15h0m9 9h0m12 -20h0m0 45h0m0 -32h0m6 22h0m0 -11h0m6 -9h0m0 28h0m6 -15h0m0 -23h0m6 37h0m6 -12h0m0 -25h0m0 14h0m6 23h0m0 -45h0m3 17h0m2 11h0m7 -16h0m0 25h0m2 -15h0m3 -23h0m1 47h0m6 -39h0m6 28h0m6 -23h0m12 -6h0m0 14h0m0 15h0m15 -17h0m3 30h0m1 -46h0m0 34h0m5 -12h0m0 -12h0m11 -3h0m4 19h0m4 23h0m11 -23h0m0 22h0m0 -39h0m0 29h0m11 -18h0m1 13h0m0 -29h0m0 39h0m7 -31h0m5 22h0m6 -12h0m0 -22h0m1 11h0m6 23h0m1 13h0m2 -50h0m4 20h0m4 -13h0m0 36h0m1 -11h0m14 -27h0m4 37h0m6 -8h0m0 18h0m5 -33h0m6 18h0m1 15h0m0 -46h0m6 20h0m4 -14h0m0 33h0m2 -45h0m5 27h0m6 21h0m1 -11h0m0 -19h0m0 -10h0m12 41h0m8 -46h0m8 47h0m2 -19h0m0 -19h0m6 30h0m0 -40h0m4 27h0m1 23h0m1 -39h0m6 25h0m2 -34h0m4 13h0m6 11h0m0 19h0m4 -42h0m2 11h0m0 22h0m12 -9h0m0 -13h0m1 28h0m7 -36h0m4 24h0m6 -10h0m3 -18h0m4 43h0m11 6h0m1 -20h0m11 -5h0m0 14h0m0 -40h0m18 42h0m0 -37h0m0 25h0m12 16h0m6 -27h0m8 25h0m16 -18h0m0 -12h0m0 33h0m6 -43h0m0 33h0m6 -23h0m0 34h0m0 -23h0m12 -14h0m22 17h0m2 22h0m7 -8h0m5 -34h0m1 19h0m7 -13h0m4 25h0m10 6h0m2 -32h0m0 11h0m0 -26h0m8 36h0m11 -19h0m1 12h0m15 -5h0m1 -13h0m1 36h0m0 -12h0m13 3h0m4 -32h0m1 23h0m0 21h0m11 -4h0m1 -30h0m6 -9h0m5 27h0m25 -15h0m6 -11h0m0 36h0m7 -24h0m18 -16h0m1 15h0m46 19h0m13 -3h0m5 -22h0m92 5h0m79 2h0m9 -12h0m48 4h0m1 18h0m86 5h0m52 -20h0m6 21h0m86 -9h0m0 12h0m221 1h0m224 -4h0m0 -14h0m7 22h0m235 -37h0"/><path d="M1372 1553h0m0 12h0m0 -26h0m0 41h0m0 -52h0m28 17h0m4 17h0m1 -29h0m8 23h0m3 -16h0m0 35h0m6 -13h0m1 -13h0m15 21h0m2 -26h0m13 3h0m5 -15h0m0 24h0m0 18h0m8 -33h0m6 14h0m4 17h0m0 -28h0m0 -13h0m6 30h0m6 -11h0m2 -12h0m7 31h0m4 -16h0m8 -19h0m3 31h0m0 -19h0m6 -18h0m0 27h0m2 20h0m3 -34h0m7 37h0m0 -45h0m0 30h0m1 -14h0m11 21h0m0 -14h0m0 -11h0m1 -12h0m6 45h0m6 -10h0m6 -8h0m0 -23h0m5 14h0m1 23h0m6 -9h0m6 -19h0m5 27h0m4 -32h0m1 12h0m8 -7h0m0 -15h0m11 37h0m0 -28h0m7 -10h0m0 25h0m6 17h0m2 -31h0m4 10h0m0 13h0m0 -37h0m0 53h0m12 -38h0m6 31h0m0 -41h0m12 0h0m6 12h0m0 21h0m6 -9h0m0 18h0m2 -42h0m4 32h0m3 -16h0m3 -14h0m0 39h0m6 -15h0m2 -10h0m4 22h0m6 -30h0m0 -13h0m6 22h0m0 30h0m0 -14h0m6 -28h0m1 20h0m2 18h0m3 -28h0m3 -15h0m3 28h0m6 9h0m0 -21h0m6 -18h0m0 29h0m0 18h0m6 -29h0m0 21h0m5 -36h0m9 36h0m2 -38h0m8 47h0m0 -32h0m0 17h0m2 -37h0m10 47h0m0 -43h0m0 23h0m0 -12h0m7 21h0m5 -21h0m4 35h0m2 -49h0m0 33h0m0 -10h0m6 20h0m1 -36h0m5 11h0m0 11h0m0 24h0m5 -10h0m7 -18h0m1 -20h0m5 40h0m0 -30h0m3 20h0m9 -10h0m0 -10h0m0 -13h0m1 46h0m7 -12h0m4 15h0m0 -31h0m3 -18h0m3 39h0m1 -11h0m5 -22h0m6 24h0m0 -15h0m1 26h0m8 -19h0m3 -25h0m1 11h0m0 27h0m5 11h0m1 -22h0m6 -11h0m3 27h0m11 -10h0m0 -18h0m3 31h0m7 -23h0m0 -14h0m0 27h0m6 12h0m5 -20h0m0 -23h0m1 11h0m10 2h0m1 -11h0m0 31h0m1 12h0m12 -12h0m0 -10h0m0 -16h0m0 37h0m11 -12h0m1 -16h0m0 -19h0m0 47h0m5 -37h0m6 32h0m1 -22h0m0 -18h0m6 48h0m0 -20h0m4 -14h0m0 25h0m2 -37h0m4 48h0m2 -23h0m8 -28h0m3 29h0m1 15h0m6 -34h0m6 13h0m2 11h0m4 10h0m0 -30h0m6 8h0m0 13h0m0 -31h0m20 39h0m5 -30h0m17 -7h0m0 11h0m0 24h0m2 11h0m4 -24h0m5 -17h0m11 4h0m8 -14h0m0 46h0m6 -16h0m0 -12h0m6 27h0m0 -38h0m6 25h0m0 -16h0m2 -18h0m4 48h0m6 -19h0m6 23h0m0 -44h0m0 33h0m6 -15h0m6 8h0m0 -17h0m0 -12h0m6 38h0m6 -37h0m0 13h0m20 -2h0m4 -11h0m7 24h0m11 -19h0m0 32h0m6 -12h0m0 -33h0m13 9h0m6 14h0m11 3h0m0 26h0m0 -37h0m0 24h0m1 -35h0m11 28h0m0 -15h0m0 -11h0m1 40h0m8 -24h0m9 6h0m1 -18h0m6 29h0m0 -37h0m11 14h0m1 26h0m0 -36h0m0 22h0m18 15h0m6 -13h0m12 11h0m0 -26h0m0 13h0m5 21h0m5 -29h0m0 -13h0m1 30h0m12 -14h0m0 27h0m1 -10h0m0 -28h0m5 19h0m13 14h0m6 -35h0m5 39h0m1 -13h0m6 -25h0m5 38h0m0 -16h0m1 -12h0m0 -19h0m7 9h0m5 10h0m6 15h0m2 11h0m2 -33h0m2 11h0m0 -23h0m6 32h0m6 -16h0m9 -12h0m3 26h0m14 13h0m10 5h0m12 -18h0m0 17h0m0 -39h0m6 13h0m12 12h0m0 -27h0m0 46h0m14 -14h0m4 -15h0m10 23h0m14 -36h0m0 16h0m6 22h0m6 -15h0m0 -11h0m0 -20h0m8 46h0m4 -33h0m24 13h0m7 22h0m5 -45h0m11 13h0m2 20h0m11 1h0m0 -23h0m0 -12h0m6 24h0m0 21h0m18 -21h0m11 -7h0m1 -16h0m1 31h0m5 13h0m13 -20h0m0 -15h0m12 30h0m0 -35h0m9 -5h0m27 17h0m13 -13h0m0 31h0m65 -2h0m13 -12h0m97 -3h0m0 -13h0m79 1h0m58 -5h0m138 13h0m92 5h0m0 15h0m221 2h0m224 -29h0m0 16h0m242 -23h0"/><path d="M1372 1546h0m0 14h0m0 17h0m0 -44h0m30 4h0m2 10h0m2 16h0m10 -7h0m0 -17h0m0 38h0m2 -10h0m38 -15h0m2 -11h0m0 -13h0m0 34h0m0 12h0m13 -41h0m4 19h0m1 -11h0m1 26h0m6 -40h0m5 29h0m1 -13h0m9 23h0m3 -14h0m11 0h0m0 11h0m0 -25h0m2 -11h0m4 44h0m12 -36h0m0 34h0m0 -15h0m0 26h0m6 -35h0m6 28h0m0 -16h0m1 -28h0m4 10h0m3 26h0m10 -3h0m1 12h0m5 -36h0m0 10h0m6 30h0m5 -20h0m3 -14h0m5 37h0m5 -28h0m1 18h0m5 -34h0m7 14h0m5 26h0m0 -37h0m1 27h0m6 -39h0m0 24h0m6 19h0m3 -29h0m3 15h0m0 -28h0m0 51h0m6 -32h0m12 -12h0m12 5h0m6 -10h0m0 20h0m0 22h0m12 0h0m0 -12h0m0 -22h0m1 12h0m5 -22h0m6 36h0m6 11h0m1 -32h0m5 -18h0m6 29h0m0 15h0m0 -33h0m0 44h0m12 -30h0m0 28h0m0 -11h0m0 -28h0m7 20h0m5 13h0m0 -27h0m5 10h0m1 -20h0m6 38h0m0 -25h0m2 -23h0m4 10h0m12 -5h0m6 17h0m0 29h0m0 -18h0m7 -26h0m5 36h0m0 -19h0m0 30h0m6 -43h0m6 27h0m6 11h0m0 -43h0m0 20h0m6 12h0m1 -21h0m5 30h0m0 -40h0m0 21h0m6 11h0m6 -19h0m6 -10h0m0 29h0m0 11h0m12 -25h0m0 13h0m0 -24h0m0 -14h0m9 33h0m3 -18h0m1 29h0m5 -20h0m0 -24h0m2 36h0m4 11h0m4 -38h0m2 20h0m7 -9h0m5 10h0m6 -12h0m0 22h0m9 6h0m14 -36h0m1 34h0m1 -22h0m6 30h0m0 -51h0m0 34h0m8 -24h0m3 16h0m0 22h0m1 -47h0m0 36h0m8 -20h0m3 -15h0m0 28h0m0 12h0m13 -5h0m1 -33h0m0 45h0m1 -23h0m10 19h0m0 -38h0m0 15h0m6 9h0m5 17h0m1 -39h0m3 11h0m3 12h0m4 19h0m2 -46h0m1 11h0m5 20h0m11 -25h0m1 27h0m6 12h0m2 -31h0m4 -14h0m4 34h0m2 -21h0m6 10h0m0 23h0m0 -45h0m24 40h0m4 -28h0m14 -9h0m0 32h0m6 -14h0m0 23h0m6 -38h0m18 -7h0m2 35h0m4 -16h0m3 -10h0m3 35h0m3 -19h0m3 10h0m0 -32h0m6 45h0m6 -23h0m0 10h0m6 10h0m0 -35h0m0 -13h0m8 28h0m4 -19h0m0 33h0m5 -23h0m0 14h0m7 -25h0m20 4h0m22 5h0m0 32h0m0 -10h0m3 -38h0m3 27h0m30 -1h0m0 17h0m1 -32h0m1 -11h0m5 51h0m5 -22h0m0 -12h0m0 -10h0m1 35h0m11 -23h0m7 -14h0m5 8h0m1 11h0m0 11h0m5 -32h0m6 13h0m1 13h0m0 11h0m20 4h0m3 -12h0m10 -9h0m3 -16h0m0 26h0m0 12h0m10 -43h0m1 11h0m0 34h0m1 -14h0m12 10h0m0 -22h0m0 -11h0m2 21h0m3 -31h0m13 41h0m6 -40h0m6 45h0m6 -34h0m0 23h0m0 -37h0m5 23h0m0 28h0m7 -44h0m0 28h0m7 -16h0m6 25h0m0 -11h0m5 -22h0m0 11h0m6 10h0m0 -29h0m8 19h0m10 -11h0m3 20h0m21 15h0m12 -17h0m0 17h0m0 -37h0m6 10h0m12 24h0m0 -34h0m0 23h0m30 15h0m12 -38h0m3 16h0m3 20h0m6 -10h0m0 -23h0m6 12h0m6 -12h0m24 10h0m6 10h0m1 18h0m5 -35h0m15 -1h0m9 28h0m0 -35h0m1 11h0m5 8h0m19 5h0m11 -1h0m0 -18h0m1 -11h0m0 43h0m18 -38h0m12 45h0m0 -12h0m2 -25h0m34 2h0m84 26h0m7 -10h0m97 -18h0m4 9h0m76 -6h0m58 -6h0m229 14h0m445 -5h0m242 -10h0"/><path d="M1372 1549h0m0 30h0m0 -13h0m0 -30h0m32 7h0m7 26h0m5 -33h0m0 17h0m6 19h0m1 -27h0m35 -2h0m0 12h0m0 -26h0m0 39h0m1 11h0m12 -43h0m5 18h0m6 -15h0m8 7h0m10 27h0m12 -19h0m0 -11h0m1 -11h0m0 37h0m10 5h0m7 -34h0m0 15h0m0 26h0m0 -54h0m1 40h0m11 -3h0m0 -12h0m1 23h0m0 -36h0m6 -13h0m9 39h0m8 -18h0m1 -11h0m0 23h0m0 14h0m12 -14h0m6 -16h0m5 36h0m1 -26h0m6 -16h0m6 12h0m5 26h0m1 -43h0m0 31h0m6 -23h0m1 15h0m10 -23h0m1 11h0m0 26h0m0 -14h0m0 25h0m18 -38h0m16 -10h0m4 12h0m4 10h0m6 17h0m0 -37h0m5 16h0m6 -18h0m1 33h0m6 14h0m2 -38h0m4 -11h0m6 26h0m0 15h0m0 -32h0m6 9h0m0 -17h0m6 40h0m0 -31h0m0 18h0m12 5h0m0 -10h0m0 21h0m6 -38h0m6 37h0m0 -16h0m0 -12h0m3 -14h0m11 2h0m10 19h0m0 -12h0m0 28h0m0 12h0m8 -51h0m4 11h0m3 38h0m1 -11h0m8 -34h0m2 35h0m4 -11h0m0 -15h0m0 37h0m9 -29h0m3 17h0m0 -36h0m0 47h0m12 -5h0m0 -29h0m0 15h0m6 -30h0m12 25h0m0 -11h0m1 26h0m3 -36h0m8 28h0m3 18h0m3 -39h0m1 -14h0m6 40h0m3 -30h0m2 19h0m12 -12h0m1 12h0m0 10h0m5 10h0m10 -11h0m14 -27h0m1 16h0m0 25h0m7 -16h0m5 10h0m5 -11h0m0 -26h0m0 12h0m12 -16h0m0 11h0m0 20h0m1 12h0m12 -3h0m1 -32h0m1 12h0m10 21h0m0 -10h0m0 -23h0m5 10h0m2 -19h0m5 46h0m0 -14h0m0 -22h0m6 -10h0m4 32h0m0 14h0m0 -26h0m4 -14h0m16 28h0m0 -31h0m4 39h0m8 -27h0m6 24h0m0 -14h0m4 -12h0m8 14h0m18 19h0m18 -31h0m0 17h0m3 -33h0m0 47h0m31 -9h0m2 -33h0m0 17h0m7 -9h0m5 28h0m0 -15h0m0 -25h0m6 49h0m6 -24h0m0 10h0m6 10h0m0 -48h0m12 22h0m1 14h0m1 -30h0m4 39h0m8 -38h0m25 8h0m15 1h0m0 35h0m0 -11h0m6 -36h0m0 27h0m30 21h0m0 -14h0m0 -15h0m1 -17h0m6 8h0m1 31h0m1 -16h0m9 -5h0m0 -15h0m1 42h0m8 -34h0m9 -9h0m0 15h0m1 11h0m11 -22h0m1 16h0m0 15h0m20 -2h0m10 -7h0m6 -22h0m3 37h0m3 -10h0m4 -26h0m1 11h0m1 -22h0m2 42h0m10 5h0m0 -24h0m0 12h0m5 -24h0m13 33h0m12 -44h0m0 43h0m6 -33h0m0 23h0m5 -9h0m1 27h0m0 -52h0m6 12h0m17 38h0m1 -17h0m0 -24h0m15 13h0m15 10h0m18 17h0m12 -12h0m0 -10h0m0 -19h0m18 27h0m0 -29h0m6 42h0m39 -37h0m3 31h0m0 -21h0m6 9h0m0 -24h0m36 17h0m19 -10h0m17 32h0m0 -33h0m5 -10h0m1 26h0m30 -14h0m0 11h0m1 20h0m18 -33h0m12 33h0m5 -36h0m122 16h0m97 -13h0m82 7h0m285 12h0m445 -20h0m0 14h0m242 -23h0"/><path d="M1372 1551h0m0 20h0m0 -41h0m0 11h0m6 20h0m32 -23h0m6 21h0m0 -12h0m2 26h0m40 -23h0m0 -12h0m0 38h0m1 -12h0m5 -36h0m8 6h0m4 25h0m1 -11h0m7 -16h0m6 11h0m4 9h0m7 22h0m11 -31h0m1 15h0m1 12h0m4 -39h0m12 7h0m0 25h0m0 11h0m1 -21h0m0 -25h0m12 45h0m0 -18h0m0 -26h0m5 9h0m0 26h0m12 3h0m1 -11h0m6 -23h0m0 12h0m2 29h0m3 -20h0m19 24h0m0 -30h0m10 -5h0m8 28h0m0 -39h0m4 30h0m9 -27h0m5 31h0m0 -13h0m2 -25h0m1 52h0m2 -41h0m13 3h0m18 -12h0m12 23h0m0 20h0m6 -39h0m6 27h0m0 12h0m12 -33h0m6 13h0m0 -21h0m0 34h0m0 12h0m12 -27h0m0 -14h0m0 40h0m0 -16h0m12 6h0m0 -16h0m0 28h0m6 -45h0m6 32h0m0 13h0m0 -27h0m6 -25h0m6 8h0m12 12h0m0 21h0m9 -36h0m4 18h0m11 13h0m1 -24h0m4 33h0m1 -43h0m0 20h0m6 10h0m6 -26h0m0 40h0m0 -23h0m6 14h0m6 -14h0m6 -13h0m0 38h0m0 -12h0m0 -36h0m12 28h0m0 -18h0m6 33h0m6 -14h0m6 20h0m0 -34h0m0 -10h0m7 26h0m5 -24h0m1 35h0m6 -15h0m7 10h0m4 -14h0m12 23h0m12 -29h0m1 33h0m1 -17h0m5 -26h0m6 35h0m5 -13h0m0 -11h0m0 -17h0m1 49h0m11 -46h0m0 16h0m0 14h0m1 11h0m12 1h0m3 -20h0m4 -20h0m5 33h0m6 -14h0m6 25h0m0 -13h0m0 -22h0m0 -14h0m10 24h0m0 22h0m2 -12h0m0 -21h0m6 -12h0m12 3h0m0 31h0m6 9h0m6 -28h0m6 25h0m6 -18h0m0 -14h0m27 42h0m15 -36h0m0 22h0m3 -33h0m5 41h0m28 -9h0m0 12h0m0 -40h0m0 15h0m12 13h0m0 -10h0m0 23h0m0 -44h0m12 22h0m6 15h0m0 -33h0m14 17h0m1 -15h0m2 26h0m11 -22h0m38 31h0m0 -25h0m1 14h0m3 -25h0m32 35h0m0 -20h0m5 -19h0m2 10h0m0 17h0m5 -8h0m1 19h0m5 -32h0m13 12h0m0 -16h0m6 24h0m5 -30h0m6 8h0m1 16h0m3 13h0m20 6h0m13 -7h0m0 -12h0m0 -17h0m11 12h0m1 19h0m0 -38h0m6 28h0m6 12h0m0 -24h0m5 11h0m1 -22h0m0 44h0m24 -41h0m0 36h0m11 -8h0m1 14h0m0 -25h0m0 -21h0m0 11h0m24 34h0m0 -19h0m0 -25h0m0 12h0m18 -5h0m33 35h0m9 -16h0m0 -31h0m4 19h0m2 24h0m12 -12h0m48 -24h0m0 32h0m0 -19h0m6 11h0m6 -9h0m30 -1h0m37 -11h0m0 24h0m5 -9h0m1 -23h0m29 8h0m1 12h0m18 -18h0m12 45h0m5 -36h0m1 27h0m124 -13h0m94 -9h0m812 0h0"/><path d="M1372 1545h0m0 10h0m0 -25h0m0 50h0m0 -14h0m44 -35h0m0 21h0m42 -11h0m0 17h0m0 -29h0m1 48h0m17 -27h0m0 -15h0m6 24h0m10 -16h0m20 -9h0m1 29h0m0 -14h0m8 20h0m9 -28h0m0 14h0m0 19h0m1 -46h0m5 37h0m7 -17h0m0 27h0m0 -44h0m5 25h0m1 10h0m12 -4h0m0 11h0m6 -38h0m0 18h0m12 4h0m12 -11h0m13 3h0m5 26h0m0 -37h0m0 25h0m12 0h0m6 -23h0m0 -12h0m0 25h0m0 21h0m18 -37h0m18 -3h0m12 19h0m0 22h0m5 -9h0m7 -33h0m6 35h0m12 -36h0m0 22h0m0 -11h0m0 22h0m0 10h0m12 -20h0m0 -21h0m0 42h0m12 -13h0m0 10h0m2 -25h0m4 -15h0m6 44h0m0 -36h0m0 18h0m8 -25h0m16 18h0m0 -13h0m0 30h0m12 -41h0m0 10h0m6 10h0m7 17h0m5 -28h0m0 39h0m0 -24h0m6 8h0m6 -18h0m0 33h0m0 -45h0m6 33h0m8 -10h0m4 12h0m0 -29h0m0 42h0m12 -22h0m0 -16h0m7 29h0m0 -39h0m6 29h0m5 15h0m0 -25h0m0 -15h0m12 0h0m0 31h0m1 -11h0m12 -3h0m6 16h0m23 -23h0m1 32h0m6 -42h0m6 32h0m5 -12h0m0 -15h0m1 38h0m0 -49h0m11 19h0m1 24h0m0 -10h0m0 -28h0m12 37h0m6 -18h0m6 21h0m1 -42h0m5 14h0m0 16h0m6 19h0m0 -11h0m0 -35h0m6 23h0m4 20h0m2 -29h0m0 17h0m0 -29h0m6 20h0m12 9h0m0 -32h0m2 22h0m10 -18h0m0 16h0m6 21h0m2 -29h0m4 16h0m42 -16h0m0 22h0m6 -31h0m0 22h0m30 16h0m0 -38h0m0 20h0m6 -9h0m6 25h0m0 -12h0m0 -25h0m4 15h0m3 30h0m5 -21h0m6 8h0m0 12h0m16 -16h0m1 -26h0m0 11h0m11 -13h0m38 37h0m0 -29h0m6 16h0m30 -4h0m1 18h0m4 -39h0m1 10h0m6 14h0m6 -24h0m0 15h0m13 2h0m5 -13h0m1 29h0m8 -7h0m3 -23h0m1 10h0m6 22h0m18 -3h0m12 -20h0m6 22h0m5 -29h0m0 11h0m1 -22h0m6 35h0m6 -11h0m0 22h0m5 -11h0m0 -23h0m25 -10h0m6 46h0m0 -35h0m5 22h0m1 -32h0m0 21h0m6 -8h0m0 33h0m18 -2h0m0 -20h0m0 -20h0m18 15h0m42 8h0m0 12h0m1 -40h0m17 39h0m48 -33h0m0 35h0m0 -11h0m0 -12h0m46 8h0m33 -6h0m0 13h0m6 -34h0m30 17h0m0 11h0m30 17h0m5 -31h0m127 14h0m94 -13h0m810 3h0"/><path d="M1372 1547h0m0 13h0m0 -24h0m0 40h0m44 -19h0m42 -16h0m0 10h0m1 -21h0m0 42h0m5 -10h0m0 18h0m13 -38h0m0 14h0m0 -26h0m17 20h0m19 -9h0m0 20h0m17 10h0m0 -14h0m0 -18h0m6 -10h0m0 19h0m7 11h0m0 12h0m3 -36h0m2 11h0m13 26h0m0 -12h0m6 -26h0m0 12h0m6 9h0m23 -5h0m13 15h0m0 -24h0m6 -9h0m12 10h0m0 26h0m0 -11h0m0 -26h0m3 46h0m19 -43h0m15 0h0m11 24h0m3 19h0m9 -50h0m0 42h0m18 -35h0m0 21h0m0 20h0m2 -31h0m4 22h0m6 -18h0m0 -11h0m3 39h0m9 -13h0m1 12h0m1 -25h0m4 -23h0m6 9h0m0 40h0m0 -11h0m0 -19h0m12 -16h0m12 18h0m0 24h0m12 -36h0m15 29h0m3 -26h0m0 39h0m0 -25h0m0 -25h0m12 37h0m0 -28h0m0 12h0m0 26h0m12 -6h0m2 -19h0m4 -17h0m12 24h0m1 -21h0m6 36h0m5 -9h0m6 15h0m0 -35h0m1 -12h0m0 23h0m11 -22h0m0 11h0m0 15h0m13 -1h0m30 -21h0m0 17h0m0 22h0m12 -3h0m3 -12h0m2 -11h0m1 -20h0m6 12h0m5 15h0m1 -25h0m0 39h0m12 -3h0m5 10h0m7 -26h0m0 13h0m6 -22h0m6 29h0m0 -18h0m1 -23h0m5 11h0m4 12h0m0 14h0m0 13h0m2 -48h0m6 14h0m1 29h0m11 -44h0m1 27h0m14 -18h0m3 12h0m0 18h0m48 -27h0m2 18h0m5 -27h0m29 37h0m0 -33h0m6 20h0m6 14h0m0 -31h0m6 17h0m12 17h0m17 -13h0m0 -29h0m1 16h0m49 27h0m2 -33h0m3 21h0m31 -1h0m0 11h0m4 -23h0m1 -20h0m6 33h0m0 -23h0m6 -9h0m1 19h0m12 -5h0m5 -11h0m3 28h0m9 -23h0m1 16h0m24 20h0m13 -40h0m5 33h0m5 -30h0m1 19h0m12 11h0m0 -11h0m0 -11h0m0 32h0m6 -45h0m30 39h0m0 -41h0m0 14h0m6 18h0m6 -17h0m0 30h0m0 -42h0m18 38h0m0 -21h0m0 -18h0m60 24h0m0 16h0m3 -44h0m15 39h0m48 -34h0m0 40h0m0 -22h0m6 12h0m0 -21h0m42 13h0m31 -17h0m6 -8h0m0 18h0m2 12h0m28 -23h0m0 13h0m35 24h0m1 -37h0m126 15h0"/><path d="M1372 1553h0m0 -14h0m0 26h0m0 -38h0m0 51h0m46 -30h0m4 12h0m36 -10h0m0 -14h0m1 30h0m0 11h0m18 -36h0m6 9h0m2 -19h0m9 9h0m1 12h0m18 -17h0m0 28h0m17 7h0m0 -31h0m0 17h0m6 -28h0m1 51h0m6 -29h0m0 14h0m5 11h0m0 -38h0m13 35h0m6 -31h0m0 16h0m8 -7h0m21 -2h0m13 22h0m3 -34h0m15 35h0m0 -37h0m0 16h0m0 11h0m23 -27h0m25 21h0m8 19h0m5 -9h0m17 -39h0m0 27h0m0 -13h0m0 29h0m0 10h0m12 -38h0m0 12h0m0 17h0m12 -9h0m0 16h0m3 -31h0m4 -12h0m5 44h0m0 -25h0m0 13h0m0 -24h0m13 -13h0m11 26h0m0 20h0m0 -36h0m13 -6h0m1 11h0m16 -8h0m0 21h0m0 12h0m0 12h0m12 -18h0m0 -30h0m0 16h0m0 27h0m12 -12h0m6 -14h0m0 -19h0m0 43h0m12 -25h0m0 14h0m4 -23h0m8 24h0m6 13h0m0 -35h0m2 -14h0m10 2h0m0 12h0m1 18h0m12 -11h0m30 -14h0m1 37h0m5 -23h0m11 14h0m0 -11h0m0 22h0m1 -44h0m6 10h0m6 13h0m0 12h0m0 -35h0m15 41h0m9 -22h0m4 19h0m8 11h0m0 -23h0m2 -17h0m4 30h0m0 -39h0m4 29h0m0 19h0m2 -32h0m6 -18h0m1 25h0m13 14h0m16 -23h0m3 30h0m5 -25h0m40 -11h0m6 31h0m2 -20h0m28 21h0m0 -33h0m6 18h0m6 -18h0m0 39h0m0 -13h0m12 -12h0m8 23h0m15 -14h0m1 -16h0m54 25h0m0 -25h0m31 20h0m1 12h0m4 -28h0m0 -14h0m6 33h0m1 -10h0m5 -21h0m13 11h0m6 -17h0m11 11h0m1 11h0m48 13h0m0 -23h0m0 -10h0m12 24h0m0 15h0m0 -28h0m6 -10h0m30 47h0m0 -10h0m0 -33h0m6 19h0m6 -16h0m18 38h0m0 -20h0m0 -26h0m60 31h0m0 12h0m25 -7h0m41 -30h0m0 36h0m6 -26h0m0 18h0m73 -26h0m36 14h0m0 -15h0m35 40h0m1 -45h0"/><path d="M1372 1554h0m0 -10h0m0 -14h0m0 36h0m51 -10h0m35 -9h0m0 -11h0m0 24h0m1 15h0m18 -41h0m2 14h0m16 -7h0m19 -3h0m2 15h0m3 14h0m11 -3h0m0 -31h0m0 44h0m1 -24h0m5 -11h0m7 10h0m0 12h0m0 12h0m3 -46h0m2 11h0m13 22h0m6 -19h0m0 30h0m2 -41h0m28 19h0m15 11h0m2 -26h0m13 5h0m0 25h0m0 -37h0m0 22h0m3 28h0m21 -44h0m27 17h0m9 14h0m18 -37h0m0 18h0m0 15h0m0 15h0m6 -39h0m6 16h0m0 17h0m6 -35h0m6 25h0m0 10h0m6 -19h0m3 -23h0m3 43h0m0 -30h0m0 18h0m7 -9h0m8 -19h0m9 37h0m0 -18h0m0 -12h0m14 5h0m16 -8h0m0 39h0m0 -13h0m0 -12h0m12 5h0m0 12h0m0 -35h0m1 10h0m11 22h0m6 -11h0m0 -23h0m0 43h0m12 -18h0m6 -21h0m1 32h0m6 -8h0m5 15h0m0 -32h0m4 -14h0m9 12h0m0 24h0m13 -17h0m30 -4h0m2 28h0m14 -5h0m0 -11h0m1 -17h0m12 13h0m0 -14h0m0 27h0m17 8h0m7 -20h0m6 16h0m6 -13h0m0 23h0m6 -9h0m0 -34h0m5 20h0m1 -10h0m6 29h0m0 -45h0m18 30h0m12 -18h0m9 11h0m39 -12h0m6 20h0m2 -13h0m28 26h0m0 -35h0m6 18h0m6 -18h0m0 36h0m2 -11h0m10 -7h0m12 13h0m12 -13h0m0 10h0m54 -29h0m0 13h0m0 24h0m0 -11h0m31 1h0m4 11h0m1 -26h0m0 -11h0m7 30h0m1 -11h0m5 -27h0m12 14h0m6 -9h0m0 18h0m12 -15h0m0 14h0m48 14h0m0 -31h0m3 14h0m9 11h0m0 15h0m0 -33h0m6 9h0m0 -19h0m30 41h0m0 -34h0m6 24h0m0 -14h0m6 -9h0m18 39h0m0 -22h0m0 -18h0m60 22h0m0 13h0m66 -36h0m0 36h0m6 -23h0m0 12h0m73 -23h0m36 6h0m4 9h0m32 -16h0m0 35h0"/><path d="M1372 1549h0m0 13h0m0 -35h0m2 11h0m84 2h0m0 12h0m1 -23h0m0 37h0m0 11h0m18 -45h0m5 15h0m37 9h0m0 -17h0m11 29h0m0 -11h0m0 -19h0m1 40h0m5 -31h0m7 26h0m0 -17h0m0 -21h0m5 11h0m1 18h0m12 7h0m6 -28h0m30 8h0m17 -14h0m1 34h0m12 -31h0m0 30h0m0 -11h0m0 -31h0m54 30h0m24 -26h0m0 25h0m0 18h0m12 -29h0m0 -13h0m6 44h0m6 -17h0m4 13h0m2 -30h0m6 -11h0m0 24h0m0 24h0m24 -16h0m0 -18h0m0 31h0m18 -35h0m12 -7h0m0 25h0m0 11h0m0 -22h0m12 10h0m0 12h0m1 -36h0m8 30h0m9 -14h0m0 20h0m0 -32h0m0 -11h0m12 25h0m1 10h0m5 -23h0m12 -5h0m0 42h0m13 -13h0m0 -26h0m48 35h0m0 -21h0m11 -6h0m1 14h0m0 14h0m12 -32h0m0 17h0m0 11h0m17 3h0m14 -14h0m5 16h0m6 -19h0m0 -16h0m4 36h0m8 -14h0m0 -10h0m0 -19h0m30 13h0m51 -6h0m33 35h0m1 -30h0m11 17h0m0 -24h0m2 41h0m0 -28h0m10 5h0m12 20h0m12 -11h0m54 -19h0m0 28h0m1 -10h0m30 4h0m5 -27h0m0 37h0m0 -26h0m7 12h0m18 -17h0m6 -18h0m12 8h0m2 20h0m46 1h0m0 11h0m12 -15h0m0 13h0m0 11h0m6 -43h0m30 40h0m0 -38h0m6 26h0m0 -17h0m24 24h0m0 -40h0m0 11h0m60 19h0m6 13h0m60 -32h0m0 26h0m6 -17h0m0 26h0m73 -29h0m36 0h0m36 -12h0m0 40h0"/><path d="M1372 1551h0m0 -18h0m0 29h0m86 -28h0m0 16h0m1 22h0m3 -9h0m16 -22h0m52 21h0m0 13h0m1 -35h0m0 12h0m5 -20h0m7 20h0m0 14h0m5 -26h0m1 37h0m13 -5h0m5 -30h0m2 10h0m46 -15h0m12 9h0m0 -11h0m0 25h0m0 14h0m60 -9h0m18 -9h0m0 -23h0m0 33h0m0 12h0m12 -39h0m0 11h0m12 17h0m6 -10h0m0 18h0m0 -30h0m6 -14h0m0 35h0m24 -11h0m0 11h0m2 -25h0m4 35h0m24 -47h0m0 41h0m0 -28h0m0 13h0m12 13h0m1 -36h0m0 21h0m12 14h0m5 -12h0m0 -18h0m12 17h0m18 -19h0m13 27h0m0 -31h0m48 41h0m0 -28h0m12 5h0m0 19h0m6 -30h0m6 9h0m0 25h0m6 -14h0m12 17h0m18 -13h0m2 10h0m4 -24h0m4 13h0m5 9h0m3 10h0m2 -44h0m34 6h0m48 -3h0m30 37h0m6 -37h0m6 23h0m2 10h0m4 -34h0m18 31h0m12 0h0m55 -5h0m31 2h0m4 10h0m0 -33h0m6 10h0m0 -20h0m1 33h0m18 -23h0m6 -9h0m12 8h0m3 16h0m45 2h0m12 -14h0m0 10h0m0 17h0m36 3h0m0 -10h0m0 -32h0m6 19h0m0 -11h0m24 28h0m0 -32h0m0 13h0m60 14h0m66 -21h0m0 -12h0m0 38h0m6 -13h0m75 -16h0m34 1h0m36 33h0m0 -35h0"/><path d="M1372 1559h0m0 -14h0m8 21h0m78 -27h0m0 12h0m2 26h0m4 -17h0m1 -32h0m14 12h0m51 31h0m0 -10h0m1 -21h0m3 9h0m2 -19h0m7 36h0m3 -19h0m3 -15h0m0 43h0m13 -12h0m5 11h0m0 -23h0m1 -15h0m47 4h0m12 10h0m0 16h0m0 -34h0m6 44h0m0 -35h0m72 -9h0m0 19h0m0 12h0m0 11h0m12 -28h0m0 -11h0m18 24h0m0 15h0m6 -25h0m0 -11h0m24 14h0m0 17h0m3 -29h0m27 -7h0m0 37h0m0 -13h0m0 -12h0m13 27h0m2 -37h0m5 28h0m10 4h0m0 -18h0m0 -18h0m12 19h0m1 11h0m17 -27h0m7 9h0m6 19h0m1 -27h0m47 40h0m12 -21h0m0 20h0m0 -32h0m12 2h0m0 -11h0m1 40h0m20 -3h0m15 -4h0m0 -13h0m6 22h0m5 -22h0m1 14h0m6 10h0m114 -2h0m12 -14h0m0 -24h0m2 39h0m34 -7h0m57 4h0m31 -11h0m2 12h0m1 -40h0m1 18h0m25 -8h0m16 -4h0m48 24h0m12 -16h0m0 13h0m1 12h0m35 -4h0m0 -27h0m6 12h0m0 -21h0m0 46h0m24 -5h0m0 -42h0m60 28h0m66 -24h0m0 36h0m6 -23h0m0 11h0m78 -12h0m31 2h0m36 -8h0"/><path d="M1372 1545h0m0 12h0m86 -21h0m0 16h0m3 25h0m4 -15h0m19 -16h0m46 23h0m0 -12h0m1 -18h0m6 39h0m6 -25h0m0 13h0m1 -31h0m5 9h0m18 24h0m48 -33h0m12 14h0m0 15h0m0 -30h0m0 42h0m78 -23h0m0 -26h0m0 15h0m0 31h0m12 -20h0m0 -14h0m18 36h0m0 -21h0m6 -9h0m0 20h0m0 -33h0m24 18h0m0 21h0m30 -37h0m0 28h0m0 12h0m0 -30h0m9 9h0m9 16h0m12 -3h0m0 -19h0m12 1h0m1 12h0m19 -19h0m4 -13h0m9 10h0m4 23h0m42 11h0m12 -12h0m0 -12h0m0 23h0m12 -36h0m0 11h0m6 20h0m30 -5h0m6 16h0m6 -10h0m0 -17h0m120 18h0m13 -36h0m1 32h0m0 13h0m34 -14h0m89 7h0m2 11h0m1 -39h0m5 10h0m23 -9h0m13 3h0m0 -14h0m49 26h0m11 -9h0m0 19h0m6 -9h0m0 -19h0m2 36h0m28 3h0m6 -10h0m0 -29h0m0 17h0m24 20h0m0 -11h0m0 -35h0m60 37h0m6 -9h0m60 -20h0m0 33h0m6 -20h0m113 -2h0m32 -9h0"/><path d="M1372 1555h0m8 8h0m78 -23h0m1 20h0m5 11h0m66 -9h0m0 12h0m1 -37h0m0 11h0m12 4h0m1 17h0m4 -28h0m19 27h0m48 -36h0m12 18h0m0 18h0m0 -34h0m6 25h0m72 1h0m0 -27h0m0 14h0m6 29h0m6 -42h0m0 12h0m18 3h0m0 25h0m6 -16h0m0 -17h0m0 -11h0m26 41h0m28 -41h0m0 31h0m0 -19h0m0 36h0m6 -27h0m12 23h0m12 -8h0m0 -18h0m12 3h0m26 -22h0m53 48h0m12 -17h0m0 -11h0m12 -4h0m6 21h0m30 -3h0m12 -17h0m0 16h0m6 10h0m127 -39h0m1 38h0m0 -13h0m123 9h0m7 -31h0m0 15h0m24 -10h0m13 -4h0m50 20h0m10 -12h0m4 9h0m1 18h0m31 -3h0m6 -9h0m0 20h0m0 -32h0m24 28h0m1 -39h0m61 32h0m64 -25h0m0 -11h0m0 37h0"/><path d="M1372 1553h0m86 -8h0m0 -11h0m1 22h0m5 15h0m66 -4h0m1 11h0m0 -37h0m3 11h0m2 -21h0m9 36h0m4 -25h0m0 12h0m18 14h0m48 -35h0m12 14h0m0 19h0m0 -36h0m6 45h0m0 -18h0m72 -3h0m0 -20h0m0 33h0m6 9h0m6 -35h0m0 12h0m18 -1h0m0 25h0m6 -35h0m0 23h0m30 5h0m24 -11h0m0 -27h0m0 44h0m0 -32h0m18 32h0m12 -13h0m0 -14h0m12 -2h0m1 13h0m78 14h0m12 -16h0m12 -20h0m36 22h0m1 11h0m11 -16h0m0 16h0m134 -6h0m0 -24h0m6 35h0m117 -9h0m7 -30h0m1 15h0m23 -11h0m16 -5h0m57 20h0m1 -10h0m5 30h0m30 -3h0m6 -16h0m2 -14h0m22 31h0m126 -33h0m6 33h0"/><path d="M1372 1556h0m86 -16h0m2 14h0m5 17h0m66 -1h0m0 -12h0m0 -12h0m0 -13h0m14 35h0m4 -36h0m0 25h0m18 10h0m60 -23h0m0 15h0m0 14h0m0 -45h0m78 2h0m0 25h0m0 14h0m6 -31h0m0 41h0m6 -25h0m18 2h0m6 16h0m0 -25h0m0 -13h0m31 39h0m23 -8h0m0 -12h0m0 -23h0m0 46h0m30 -9h0m0 -20h0m12 4h0m79 26h0m12 -18h0m48 3h0m6 8h0m6 -13h0m134 10h0m124 0h0m7 -27h0m0 11h0m24 -2h0m73 1h0m5 -9h0m0 31h0m0 -12h0m32 13h0m4 -10h0m6 -12h0m18 21h0m126 -28h0m0 -11h0m6 34h0"/><path d="M1372 1555h0m86 -15h0m3 16h0m70 13h0m0 -11h0m0 -24h0m0 13h0m17 25h0m1 -32h0m0 19h0m18 10h0m60 -17h0m0 15h0m0 -30h0m78 -8h0m0 21h0m1 -10h0m1 21h0m4 12h0m6 -41h0m3 23h0m21 -3h0m0 26h0m0 -36h0m0 22h0m31 10h0m23 -4h0m0 -16h0m0 -14h0m30 27h0m0 -12h0m13 2h0m90 5h0m1 -12h0m47 7h0m18 7h0m128 8h0m125 -2h0m6 -31h0m0 21h0m24 -19h0m77 10h0m2 11h0m35 13h0m0 -13h0m150 -19h0m6 30h0"/><path d="M1374 1550h0m84 -16h0m1 11h0m72 28h0m0 -11h0m0 -28h0m0 14h0m17 25h0m1 -41h0m78 23h0m0 13h0m0 -24h0m2 -10h0m77 -6h0m1 12h0m1 26h0m9 -26h0m3 14h0m21 1h0m0 22h0m0 -42h0m54 19h0m0 10h0m0 15h0m0 -47h0m30 41h0m0 -24h0m18 6h0m85 1h0m48 2h0m150 16h0m127 -39h0m0 13h0m0 11h0m102 -4h0m36 21h0m0 -18h0m156 -13h0"/><path d="M1458 1531h0m0 12h0m3 11h0m70 14h0m0 -30h0m5 21h0m0 18h0m13 -4h0m0 -35h0m78 29h0m0 -23h0m0 12h0m3 -27h0m76 4h0m5 25h0m0 16h0m8 -36h0m22 14h0m0 21h0m0 -33h0m54 31h0m0 -19h0m1 -15h0m30 12h0m0 15h0m17 -9h0m85 9h0m49 -8h0m276 -9h0m0 20h0m0 -32h0m102 22h0m36 19h0m0 -10h0m0 -11h0m156 -14h0"/><path d="M1458 1538h0m73 33h0m0 -11h0m0 -16h0m1 -11h0m17 39h0m0 -34h0m78 9h0m0 19h0m0 -29h0m80 -10h0m4 33h0m0 14h0m0 -36h0m30 11h0m0 22h0m54 -13h0m0 -11h0m1 -17h0m5 42h0m25 -26h0m0 25h0m17 -15h0m410 -4h0m102 9h0m36 14h0m0 -10h0m156 -21h0"/><path d="M1458 1543h0m73 28h0m0 -12h0m3 -15h0m2 -11h0m13 41h0m78 -10h0m0 -17h0m0 27h0m6 -43h0m75 -5h0m3 31h0m0 10h0m1 -29h0m29 13h0m1 -11h0m53 24h0m0 -13h0m6 22h0m25 -20h0m529 6h0m36 15h0m0 -16h0m156 -13h0"/><path d="M1458 1542h0m73 29h0m1 -11h0m2 -20h0m2 11h0m13 17h0m78 0h0m0 -11h0m0 -15h0m84 -7h0m1 25h0m29 -5h0m2 -13h0m53 5h0m5 27h0m1 -16h0m25 -9h0m528 10h0m36 12h0m156 -35h0"/><path d="M1459 1536h0m72 29h0m4 -19h0m1 -12h0m0 40h0m14 -4h0m77 -13h0m0 -10h0m0 28h0m84 -43h0m30 17h0m57 5h0m593 14h0m156 -31h0"/><path d="M1459 1545h0m0 -10h0m72 28h0m3 11h0m2 -36h0m0 13h0m91 -6h0m0 20h0m93 -29h0m21 9h0m60 10h0m590 20h0m158 -37h0"/><path d="M1459 1536h0m72 37h0m5 -39h0m0 29h0m0 -10h0m91 -9h0m0 11h0m2 17h0m91 -36h0m21 18h0m3 -10h0m59 12h0m590 21h0"/><path d="M1464 1536h0m68 34h0m4 -30h0m0 19h0m91 -11h0m4 10h0m2 15h0m108 -21h0"/><path d="M1464 1538h0m69 33h0m3 -37h0m0 24h0m1 -13h0m90 -2h0m0 13h0m116 -7h0"/><path d="M1466 1538h0m68 34h0m2 -38h0m0 28h0m92 -14h0"/><path d="M1536 1569h0m0 -34h0m92 18h0"/><path d="M1536 1569h0m0 -34h0m93 16h0"/><path d="M1536 1570h0m0 -32h0m95 18h0"/><path d="M1536 1561h0m1 -29h0m0 12h0m96 8h0"/><path d="M1537 1562h0"/><path d="M1537 1569h0"/><path d="M1537 1568h0"/></g><rect x="1286" y="1806.7" width="511" height="63.8" fill="url(#g4)" mask="url(#vm)"/><g stroke="#8c80ee" stroke-width="9.8" stroke-linecap="round" stroke-opacity="0.2" fill="none"><path d="M1259 1816h0m1 45h0m0 -13h0m0 -19h0m9 7h0m1 -13h0m2 26h0m3 11h0m3 -44h0m4 14h0m2 24h0m2 11h0m0 -23h0m4 -21h0m2 10h0m4 27h0m0 -12h0m0 -34h0m6 24h0m0 -11h0m2 39h0m4 -16h0m0 -36h0m5 10h0m1 17h0m0 17h0m6 -8h0m0 -17h0m4 -17h0m0 51h0m6 -19h0m2 -21h0m0 33h0m3 -47h0m3 25h0m6 15h0m0 -31h0m0 45h0m5 -33h0m1 -20h0m4 44h0m2 -33h0m3 15h0m3 -24h0m0 48h0m0 -12h0m3 -22h0m7 32h0m2 -23h0m0 -25h0m0 11h0m0 26h0m11 -28h0m1 10h0m0 13h0m2 17h0m6 -47h0m3 30h0m0 -20h0m1 40h0m6 -48h0m4 12h0m2 29h0m0 -11h0m4 -34h0m2 23h0m2 -11h0m3 41h0m1 -14h0m3 -40h0m2 31h0m2 -22h0m4 32h0m1 11h0m0 -33h0m6 12h0m0 -21h0m4 39h0m6 -25h0m0 11h0m3 -25h0m4 34h0m3 -26h0m3 15h0m0 -33h0m1 52h0m5 -28h0m2 -12h0m1 30h0m4 -40h0m4 23h0m1 11h0m2 -24h0m4 43h0m1 -52h0m4 27h0m2 -17h0m0 30h0m6 -41h0m4 23h0m2 15h0m3 -26h0m3 37h0m0 -19h0m1 -28h0m4 17h0m2 21h0m4 -12h0m1 -28h0m1 10h0m5 27h0m6 -23h0m4 34h0m2 -49h0m1 23h0m6 11h0m3 -29h0m2 42h0m1 -24h0m4 13h0m4 -30h0m2 18h0m0 22h0m7 -14h0m1 -20h0m4 10h0m1 -22h0m0 46h0m5 -9h0m2 -27h0m4 43h0m7 -18h0m0 -33h0m0 13h0m6 10h0m1 20h0m4 -41h0m2 30h0m5 9h0m1 -18h0m0 -14h0m0 42h0m9 -50h0m1 40h0m0 -28h0m2 14h0m5 24h0m3 -50h0m2 29h0m2 -12h0m0 23h0m6 9h0m0 -44h0m3 29h0m4 -13h0m2 25h0m3 -39h0m3 23h0m3 -14h0m3 31h0m3 -50h0m0 28h0m5 9h0m1 -26h0m3 37h0m2 -47h0m0 21h0m7 13h0m0 -23h0m6 14h0m0 25h0m2 -47h0m5 13h0m3 26h0m2 -16h0m0 -24h0m6 50h0m0 -38h0m0 21h0m9 8h0m1 -27h0m0 -10h0m2 25h0m0 22h0m7 -9h0m2 -29h0m1 -14h0m2 26h0m3 25h0m3 -43h0m1 29h0m7 -22h0m2 -14h0m2 47h0m3 -24h0m1 11h0m5 -37h0m2 47h0m1 -35h0m6 18h0m2 12h0m2 -35h0m2 12h0m0 33h0m6 -18h0m3 -20h0m3 -14h0m0 49h0m2 -23h0m2 13h0m3 -30h0m5 38h0m0 -18h0m0 -11h0m8 -13h0m4 20h0m0 24h0m3 -14h0m3 -30h0m6 9h0m3 34h0m3 -12h0m2 -30h0m4 21h0m0 -12h0m5 25h0m1 -41h0m5 55h0m0 -38h0m1 15h0m6 12h0m7 -10h0m0 -26h0m1 43h0m4 -30h0m9 32h0m2 -29h0m1 -15h0m0 31h0m8 8h0m2 -46h0m2 29h0m6 11h0m0 -28h0m0 41h0m7 -22h0m3 -28h0m1 46h0m1 -27h0m5 18h0m1 -29h0m6 36h0m0 -47h0m1 27h0m6 -16h0m0 26h0m4 -39h0m1 49h0m0 -20h0m5 -15h0m0 25h0m5 -38h0m2 25h0m0 21h0m4 -9h0m1 -26h0m7 -10h0m0 27h0m0 18h0m7 -33h0m4 15h0m1 18h0m0 -45h0m6 12h0m6 10h0m0 11h0m0 -32h0m1 45h0m7 -33h0m5 22h0m0 13h0m1 -49h0m5 19h0m3 22h0m3 -14h0m7 9h0m2 -34h0m0 51h0m0 -30h0m5 -11h0m9 37h0m1 -33h0m2 -13h0m3 36h0m1 -12h0m6 20h0m0 -42h0m0 11h0m3 19h0m6 9h0m3 -44h0m0 54h0m0 -37h0m8 8h0m1 -18h0m3 32h0m0 12h0m6 -37h0m0 10h0m0 -24h0m3 46h0m6 -8h0m0 -28h0m3 11h0m0 33h0m6 -22h0m0 11h0m0 -40h0m4 13h0m8 -15h0m0 51h0m0 -26h0m0 12h0m6 -22h0m5 16h0m1 20h0m6 -35h0m0 -14h0m1 39h0m2 -15h0m3 26h0m6 -36h0m0 22h0m0 -33h0m6 47h0m0 -25h0m6 -16h0m0 -12h0m0 37h0m12 16h0m0 -47h0m0 21h0m6 16h0m5 -35h0m0 21h0m1 22h0m8 -12h0m2 -30h0m2 15h0m0 27h0m6 -50h0m1 34h0m5 18h0m0 -38h0m6 15h0m1 15h0m10 -37h0m1 25h0m0 -11h0m6 20h0m5 -35h0m4 25h0m3 20h0m0 -31h0m9 -18h0m2 44h0m1 -18h0m6 -17h0m1 -11h0m5 49h0m0 -25h0m1 11h0m6 -35h0m6 40h0m0 -14h0m1 -11h0m5 37h0m4 -29h0m3 22h0m5 -41h0m8 28h0m3 -21h0m0 34h0m9 -44h0m1 49h0m9 -4h0m1 -19h0m4 -22h0m4 34h0m2 -15h0m1 25h0m9 -46h0m2 27h0m0 -11h0m1 32h0m4 -12h0m1 -30h0m7 39h0m0 -16h0m8 -24h0m1 31h0m9 -23h0m0 33h0m0 -48h0m6 23h0m5 26h0m1 -35h0m0 -14h0m0 39h0m9 -13h0m3 -19h0m0 40h0m8 -22h0m3 -19h0m1 40h0m7 -32h0m0 20h0m5 15h0m1 -51h0m5 38h0m5 -21h0m1 -16h0m3 43h0m3 -11h0m6 -11h0m2 -20h0m4 52h0m6 -25h0m0 -19h0m6 43h0m0 -53h0m6 35h0m0 -16h0m11 29h0m1 -41h0m6 27h0m0 -11h0m4 -11h0m0 39h0m0 -51h0m8 35h0m12 -9h0m0 -18h0m5 44h0m7 -15h0m2 -36h0m4 48h0m0 -32h0m12 -13h0m0 44h0m0 -28h0m10 5h0m0 27h0m0 -37h0m0 26h0m0 -39h0m14 27h0m0 17h0m2 -32h0m16 8h0m0 -22h0m1 47h0m11 4h0m0 -20h0m0 -26h0m0 11h0m10 32h0m3 -29h0m5 -9h0m12 0h0m1 13h0m0 19h0m5 -9h0m1 -33h0m5 13h0m0 33h0m6 -18h0m6 -15h0m8 9h0m4 -21h0m1 40h0m5 -31h0m5 28h0m0 -12h0m7 -15h0m4 40h0m10 -13h0m2 -35h0m2 16h0m9 -12h0m1 27h0m8 8h0m1 12h0m10 -33h0m2 24h0m14 -37h0m1 10h0m3 15h0m1 15h0m10 -45h0m3 11h0m0 38h0m0 -26h0m0 14h0m16 14h0m0 -16h0m10 4h0m2 -23h0m0 -16h0m3 50h0m4 -18h0m8 -25h0m3 34h0m0 -18h0m12 -2h0m6 24h0m2 -42h0m0 12h0m4 18h0m12 17h0m0 -39h0m6 16h0m10 13h0m0 -39h0m10 20h0m0 -25h0m0 42h0m0 -30h0m16 26h0m6 -32h0m6 20h0m12 19h0m18 9h0m6 -19h0m12 -14h0m0 12h0m5 -30h0m0 40h0m0 10h0m13 -48h0m0 19h0m6 21h0m0 -11h0m25 0h0m18 13h0m11 -40h0m10 24h0m8 -13h0m43 35h0m11 -42h0m0 31h0m0 -18h0m0 30h0"/><path d="M1260 1863h0m0 -14h0m7 -32h0m5 18h0m0 23h0m0 -10h0m6 -25h0m2 43h0m1 -13h0m3 -21h0m4 10h0m2 -28h0m0 46h0m2 -35h0m4 10h0m0 15h0m6 -36h0m0 48h0m1 -37h0m1 18h0m6 11h0m4 -29h0m0 12h0m0 29h0m0 -52h0m6 41h0m4 -35h0m0 17h0m0 29h0m8 -53h0m1 40h0m0 -24h0m4 13h0m7 12h0m0 -25h0m0 -14h0m0 50h0m4 -22h0m7 -23h0m1 11h0m0 21h0m6 14h0m5 -45h0m0 29h0m1 -14h0m6 24h0m0 -48h0m3 20h0m3 12h0m2 -23h0m4 -9h0m2 42h0m5 -24h0m2 32h0m3 -44h0m0 21h0m0 13h0m6 -26h0m6 35h0m0 -48h0m0 33h0m6 -23h0m0 13h0m6 -23h0m0 49h0m1 -12h0m5 -14h0m3 -11h0m3 -13h0m0 32h0m3 15h0m3 -31h0m4 13h0m0 10h0m9 -33h0m3 15h0m1 17h0m7 8h0m0 -16h0m0 -25h0m9 6h0m3 36h0m0 -13h0m0 -11h0m1 -23h0m8 8h0m1 32h0m2 12h0m6 -51h0m0 16h0m0 15h0m6 -22h0m4 32h0m2 -19h0m6 -14h0m0 22h0m0 19h0m6 -50h0m1 22h0m3 18h0m2 -27h0m5 17h0m2 -28h0m2 37h0m4 -17h0m2 -12h0m1 42h0m8 -8h0m0 -27h0m5 -10h0m1 19h0m3 26h0m3 -17h0m5 -27h0m1 16h0m1 24h0m5 -13h0m2 -19h0m4 -12h0m0 47h0m6 -25h0m1 13h0m1 -24h0m6 34h0m4 -23h0m1 -17h0m0 30h0m9 7h0m2 -34h0m0 12h0m1 -24h0m5 33h0m1 19h0m6 -33h0m6 25h0m0 -35h0m4 17h0m7 20h0m1 -36h0m0 -11h0m2 30h0m8 22h0m2 -48h0m0 32h0m3 -15h0m7 -8h0m1 15h0m0 19h0m7 -9h0m1 -16h0m4 29h0m4 -35h0m3 26h0m0 -12h0m3 -26h0m5 32h0m4 -21h0m0 11h0m0 28h0m6 -53h0m4 22h0m2 25h0m0 -35h0m3 21h0m3 -32h0m5 12h0m1 39h0m0 -12h0m6 -35h0m0 21h0m4 -10h0m0 20h0m2 12h0m6 -21h0m0 -23h0m3 34h0m3 -20h0m0 36h0m7 -9h0m1 -36h0m3 17h0m7 -22h0m0 34h0m3 -12h0m3 20h0m3 -31h0m1 -14h0m5 34h0m2 11h0m1 -23h0m0 -17h0m10 5h0m2 24h0m0 -35h0m0 22h0m6 22h0m6 -9h0m0 -20h0m1 37h0m5 -28h0m5 -14h0m1 23h0m4 15h0m7 -9h0m2 -32h0m4 15h0m2 31h0m2 -19h0m1 -32h0m6 20h0m2 19h0m1 -30h0m5 -9h0m4 33h0m2 -17h0m2 36h0m6 -23h0m0 12h0m4 -34h0m0 11h0m0 33h0m12 -8h0m0 -25h0m0 -11h0m1 23h0m6 -31h0m4 42h0m1 -22h0m5 13h0m2 -26h0m0 43h0m10 -37h0m1 23h0m0 -36h0m0 50h0m0 -25h0m11 21h0m1 -38h0m0 26h0m1 -16h0m6 -19h0m3 47h0m2 -17h0m0 -13h0m6 -10h0m1 45h0m5 -15h0m1 -13h0m4 23h0m0 -32h0m2 -14h0m4 37h0m1 -14h0m6 -20h0m1 12h0m5 37h0m1 -25h0m0 10h0m5 -30h0m6 24h0m3 15h0m0 -46h0m5 22h0m5 17h0m5 -26h0m4 12h0m5 15h0m6 -11h0m1 -14h0m3 36h0m0 -52h0m6 24h0m6 -16h0m1 44h0m5 -12h0m0 -21h0m0 -19h0m6 49h0m0 -22h0m3 -17h0m2 29h0m5 10h0m2 -50h0m3 22h0m9 20h0m0 -39h0m5 26h0m1 -13h0m0 37h0m5 -11h0m1 -35h0m6 10h0m0 11h0m6 19h0m1 -41h0m3 20h0m8 -16h0m0 24h0m0 15h0m1 -29h0m11 22h0m6 -17h0m2 -21h0m0 11h0m0 37h0m4 -13h0m6 -15h0m0 -13h0m0 38h0m6 -48h0m0 38h0m6 12h0m0 -35h0m0 13h0m7 -26h0m5 51h0m0 -42h0m5 13h0m1 10h0m3 12h0m3 -42h0m6 25h0m5 -23h0m1 42h0m0 -32h0m6 15h0m6 -29h0m0 13h0m3 37h0m3 -22h0m0 10h0m12 -2h0m0 -31h0m12 34h0m0 -32h0m4 14h0m2 27h0m7 -18h0m5 22h0m0 -45h0m0 15h0m7 10h0m5 -25h0m5 11h0m1 32h0m12 -43h0m0 22h0m0 13h0m0 -24h0m13 4h0m4 -18h0m7 35h0m0 -20h0m4 -11h0m6 40h0m8 -50h0m6 18h0m0 16h0m0 11h0m6 -45h0m6 47h0m1 -11h0m5 -27h0m0 15h0m11 -12h0m2 18h0m0 11h0m6 12h0m6 -16h0m0 -29h0m6 19h0m12 -14h0m5 41h0m1 -19h0m0 -35h0m6 16h0m0 11h0m6 21h0m2 -39h0m4 13h0m0 -23h0m6 54h0m1 -11h0m0 -11h0m0 -17h0m6 -12h0m5 46h0m2 -13h0m6 -36h0m4 24h0m0 21h0m0 -32h0m15 12h0m2 24h0m1 -41h0m12 20h0m6 10h0m6 11h0m0 -45h0m6 18h0m2 15h0m1 -27h0m1 42h0m8 -16h0m12 -17h0m0 14h0m12 -5h0m6 14h0m0 10h0m0 -49h0m1 14h0m14 37h0m3 -30h0m4 12h0m0 -33h0m2 43h0m12 -26h0m0 33h0m18 -36h0m0 13h0m1 22h0m11 -20h0m1 -12h0m2 23h0m3 -33h0m5 44h0m7 -52h0m12 8h0m7 36h0m0 -44h0m18 29h0m6 -24h0m6 10h0m5 24h0m5 -29h0m0 19h0m7 -28h0m8 11h0m10 23h0m0 -24h0m7 8h0m6 -16h0m0 31h0m8 18h0m16 -35h0m0 29h0m11 -21h0m1 -20h0m11 -6h0m1 12h0m2 39h0m0 -27h0m0 10h0m10 9h0m13 8h0m8 -41h0m0 -10h0m0 21h0m0 20h0m15 -32h0m2 14h0m18 -13h0m0 18h0m0 24h0m0 -11h0m16 8h0m10 -38h0m2 26h0m8 -35h0m6 13h0m0 30h0m0 -13h0m22 10h0m54 -32h0m0 19h0m5 13h0m13 -25h0m79 -10h0m53 40h0m0 -11h0m0 -13h0m0 -19h0"/><path d="M1260 1861h0m2 -15h0m9 -27h0m2 11h0m5 24h0m0 11h0m6 -42h0m2 10h0m2 17h0m2 10h0m2 -47h0m3 13h0m1 16h0m5 12h0m1 -43h0m1 21h0m3 32h0m2 -19h0m0 -25h0m6 17h0m1 18h0m2 -44h0m4 18h0m3 35h0m1 -24h0m1 -21h0m0 35h0m6 -21h0m5 19h0m1 -32h0m1 22h0m5 -11h0m0 30h0m1 -49h0m5 29h0m0 11h0m6 -24h0m6 -13h0m0 46h0m1 -14h0m5 -20h0m6 27h0m0 -17h0m0 -19h0m0 46h0m6 -36h0m0 17h0m5 -33h0m1 25h0m6 13h0m1 13h0m5 -48h0m0 22h0m0 -10h0m5 34h0m5 -37h0m2 20h0m5 21h0m1 -52h0m0 20h0m6 -11h0m0 22h0m6 -30h0m2 50h0m2 -36h0m2 11h0m0 15h0m6 12h0m0 -51h0m2 33h0m4 -24h0m0 11h0m6 22h0m0 -12h0m4 -19h0m7 13h0m1 11h0m0 15h0m0 -46h0m12 6h0m0 28h0m7 -40h0m2 22h0m1 10h0m2 -22h0m0 36h0m6 -45h0m1 24h0m3 10h0m2 -22h0m4 -15h0m2 26h0m0 21h0m6 -9h0m0 -25h0m5 37h0m5 -50h0m2 27h0m0 -16h0m0 28h0m12 -30h0m0 15h0m1 13h0m12 14h0m3 -11h0m3 -35h0m0 11h0m1 14h0m8 18h0m2 -25h0m1 -20h0m0 34h0m8 -24h0m0 17h0m1 11h0m2 -37h0m1 50h0m6 -37h0m8 34h0m3 -29h0m1 -14h0m0 25h0m8 10h0m4 -16h0m0 -19h0m5 31h0m7 -12h0m0 20h0m2 -34h0m8 -6h0m1 11h0m7 11h0m0 23h0m0 -12h0m0 -40h0m3 14h0m6 9h0m3 29h0m0 -43h0m0 26h0m6 -34h0m1 42h0m2 -21h0m3 -11h0m4 39h0m2 -16h0m3 -10h0m7 -17h0m2 13h0m0 22h0m4 -10h0m6 9h0m2 -18h0m0 -17h0m6 47h0m4 -45h0m2 14h0m0 20h0m4 -10h0m2 20h0m0 -51h0m6 14h0m0 24h0m6 14h0m0 -49h0m3 28h0m3 -18h0m0 28h0m5 -18h0m1 28h0m0 -51h0m5 35h0m1 -20h0m5 38h0m7 -36h0m1 -13h0m2 43h0m3 -15h0m6 -32h0m1 42h0m5 -32h0m0 11h0m6 -21h0m0 34h0m0 16h0m4 -25h0m7 -15h0m1 26h0m6 -13h0m0 -23h0m4 44h0m6 -14h0m2 21h0m0 -33h0m10 -9h0m2 29h0m0 -10h0m12 -16h0m0 24h0m6 -16h0m4 12h0m3 18h0m4 -37h0m2 -11h0m7 17h0m3 21h0m4 13h0m3 -50h0m0 18h0m1 11h0m11 18h0m0 -15h0m0 -23h0m0 11h0m0 -22h0m12 48h0m0 -39h0m0 20h0m6 -8h0m4 15h0m7 -23h0m1 31h0m0 -17h0m1 -28h0m7 21h0m4 25h0m0 -35h0m6 -9h0m0 29h0m4 20h0m2 -38h0m4 11h0m2 10h0m0 -32h0m5 42h0m2 -29h0m4 12h0m0 25h0m2 -49h0m6 33h0m0 -21h0m6 13h0m5 -13h0m0 34h0m7 -26h0m5 9h0m0 -23h0m5 38h0m2 -47h0m11 6h0m1 33h0m4 -21h0m6 26h0m1 -15h0m7 24h0m0 -43h0m12 -1h0m3 38h0m3 -30h0m0 17h0m6 -28h0m2 45h0m4 -14h0m1 -23h0m0 12h0m5 22h0m1 -43h0m5 15h0m6 15h0m0 13h0m5 -46h0m1 22h0m6 27h0m0 -11h0m0 -29h0m6 -10h0m4 26h0m2 -16h0m0 33h0m6 -23h0m4 -17h0m2 49h0m0 -17h0m5 -13h0m4 -15h0m3 37h0m6 -10h0m2 -21h0m4 -12h0m0 48h0m6 -26h0m0 13h0m0 -25h0m6 37h0m2 -49h0m4 33h0m0 -12h0m7 -9h0m9 37h0m8 -15h0m0 -31h0m12 0h0m0 24h0m0 20h0m0 -32h0m12 3h0m0 20h0m0 -33h0m6 43h0m4 -12h0m5 -11h0m3 -11h0m18 -1h0m0 22h0m0 16h0m0 -50h0m6 25h0m6 -23h0m0 48h0m0 -14h0m12 -23h0m6 10h0m8 -7h0m4 10h0m1 11h0m8 -20h0m10 -6h0m5 14h0m1 22h0m5 -34h0m1 21h0m9 19h0m3 -52h0m6 14h0m0 13h0m5 12h0m0 -34h0m13 -6h0m0 10h0m0 15h0m0 10h0m0 11h0m12 -43h0m0 27h0m17 5h0m1 -31h0m0 19h0m12 -10h0m5 33h0m1 -42h0m5 26h0m1 -13h0m12 -5h0m0 12h0m0 15h0m6 12h0m1 -48h0m5 15h0m6 -14h0m12 -4h0m2 14h0m4 31h0m0 -18h0m18 -16h0m0 16h0m12 9h0m0 -11h0m6 -27h0m0 52h0m6 -23h0m3 13h0m1 -31h0m2 44h0m6 -50h0m6 35h0m6 -10h0m2 -15h0m16 7h0m4 -10h0m2 31h0m12 4h0m0 -30h0m4 -12h0m8 34h0m6 -18h0m6 32h0m12 -39h0m13 15h0m12 23h0m21 -46h0m34 9h0m9 -12h0m0 41h0m2 -27h0m7 13h0m16 -13h0m6 24h0m13 -7h0m18 -9h0m0 14h0m26 -25h0m0 37h0m0 -24h0m5 -21h0m11 37h0m15 -31h0m0 38h0m0 -24h0m0 -25h0m0 36h0m21 -12h0m14 3h0m0 -15h0m0 36h0m34 -7h0m8 -17h0m0 -21h0m4 47h0m77 -18h0m0 -18h0m0 36h0m145 0h0m0 -42h0m0 11h0"/><path d="M1262 1856h0m1 -13h0m9 -24h0m3 19h0m3 21h0m6 -30h0m6 13h0m0 -24h0m1 40h0m5 -29h0m3 15h0m3 14h0m0 -47h0m6 27h0m0 -19h0m2 32h0m0 14h0m9 -45h0m1 41h0m1 -19h0m3 -12h0m2 -19h0m6 49h0m1 -41h0m3 14h0m2 16h0m6 -25h0m0 16h0m0 -27h0m0 48h0m10 -43h0m0 18h0m2 19h0m11 -41h0m0 52h0m1 -13h0m2 -26h0m4 16h0m6 13h0m0 -42h0m0 11h0m6 16h0m7 21h0m2 -30h0m2 19h0m1 -32h0m6 45h0m1 -22h0m6 -21h0m2 29h0m3 12h0m0 -23h0m0 -28h0m6 18h0m4 17h0m0 -30h0m5 50h0m3 -28h0m0 -13h0m1 27h0m5 -35h0m6 33h0m0 -21h0m6 11h0m6 -15h0m0 28h0m6 -16h0m0 25h0m1 -46h0m11 0h0m0 42h0m0 -12h0m0 -16h0m12 18h0m0 -33h0m2 45h0m4 -22h0m0 -12h0m12 18h0m1 -25h0m5 41h0m0 -30h0m4 -14h0m2 35h0m6 -14h0m1 23h0m4 -33h0m2 19h0m11 10h0m1 -35h0m0 18h0m10 16h0m1 -12h0m1 -21h0m6 -10h0m5 53h0m0 -25h0m1 15h0m1 -34h0m9 27h0m1 -16h0m0 26h0m0 -45h0m8 13h0m10 3h0m1 31h0m0 -41h0m0 31h0m4 -10h0m6 19h0m2 -39h0m0 11h0m5 16h0m4 11h0m8 -27h0m1 -15h0m1 39h0m11 -42h0m0 14h0m0 38h0m0 -16h0m6 -12h0m6 26h0m1 -41h0m1 26h0m4 -12h0m6 -20h0m0 46h0m3 -11h0m2 -15h0m10 -8h0m6 -12h0m3 36h0m3 -14h0m3 -11h0m3 19h0m3 14h0m8 -46h0m0 17h0m4 20h0m0 -10h0m6 22h0m0 -39h0m6 27h0m5 -36h0m1 49h0m0 -27h0m0 -11h0m6 27h0m4 -36h0m1 16h0m7 -8h0m0 38h0m0 -15h0m9 -14h0m3 -22h0m3 45h0m11 -2h0m1 -32h0m3 -10h0m0 27h0m4 26h0m6 -35h0m2 -14h0m1 32h0m5 -10h0m6 17h0m5 -13h0m1 -18h0m13 24h0m11 -25h0m1 23h0m5 -11h0m6 10h0m2 -17h0m4 30h0m3 -44h0m3 11h0m10 25h0m2 10h0m0 -37h0m2 15h0m10 -9h0m0 -14h0m0 36h0m1 -11h0m0 23h0m11 -4h0m0 -48h0m1 36h0m0 -10h0m6 -11h0m5 22h0m6 -25h0m0 41h0m0 -31h0m1 -23h0m4 44h0m8 -36h0m5 18h0m1 16h0m5 -30h0m1 42h0m0 -52h0m2 33h0m2 -13h0m5 23h0m2 -45h0m0 11h0m5 19h0m0 24h0m2 -34h0m5 -13h0m1 32h0m5 -9h0m1 -12h0m12 -2h0m0 38h0m0 -21h0m6 -26h0m5 43h0m1 -14h0m11 -28h0m3 37h0m3 -22h0m7 7h0m3 19h0m3 -48h0m6 17h0m11 -10h0m1 32h0m2 -16h0m4 25h0m9 -8h0m3 -31h0m7 43h0m5 -33h0m6 -14h0m0 30h0m3 16h0m2 -32h0m7 22h0m0 -37h0m6 14h0m0 12h0m4 17h0m4 -37h0m4 19h0m1 25h0m0 -13h0m5 -40h0m7 39h0m11 -32h0m0 20h0m6 25h0m0 -15h0m0 -20h0m4 -12h0m6 41h0m2 -28h0m0 11h0m0 -31h0m12 5h0m12 47h0m0 -17h0m6 -27h0m6 28h0m0 12h0m0 -25h0m5 -11h0m2 -10h0m7 18h0m4 -11h0m0 43h0m0 -16h0m5 -9h0m7 16h0m18 -29h0m0 26h0m0 -12h0m1 26h0m11 -22h0m0 -28h0m7 47h0m19 -32h0m4 9h0m0 -19h0m1 36h0m24 -20h0m7 -9h0m9 32h0m8 -41h0m5 18h0m1 16h0m12 -26h0m0 22h0m0 -35h0m8 20h0m6 -16h0m4 31h0m12 -24h0m0 29h0m1 -16h0m16 -8h0m7 12h0m2 -25h0m10 12h0m5 13h0m1 14h0m0 -37h0m6 14h0m2 30h0m4 -51h0m20 20h0m16 -10h0m6 24h0m1 -11h0m11 21h0m5 -39h0m4 30h0m1 -10h0m0 23h0m2 -34h0m18 21h0m4 -19h0m18 -11h0m14 42h0m1 -24h0m3 -11h0m8 25h0m12 -21h0m13 1h0m12 19h0m17 16h0m18 -39h0m6 -10h0m27 20h0m8 17h0m0 -31h0m88 2h0m0 35h0m5 -26h0m26 24h0m0 -24h0m0 -15h0m21 28h0m14 16h0m5 -39h0m37 12h0m0 -21h0m0 41h0m81 -10h0m0 -19h0m0 35h0m145 -2h0m0 -39h0m0 21h0"/><path d="M1262 1855h0m3 -13h0m7 -25h0m6 38h0m0 -17h0m12 -8h0m0 -10h0m2 46h0m0 -13h0m0 -12h0m5 -29h0m5 39h0m0 -19h0m0 30h0m6 -21h0m0 -23h0m6 33h0m0 13h0m8 -42h0m2 33h0m0 -17h0m2 -26h0m0 53h0m9 -13h0m1 -19h0m8 -17h0m0 11h0m1 27h0m0 -11h0m5 20h0m5 -24h0m1 -20h0m6 12h0m2 24h0m4 -42h0m3 14h0m3 12h0m0 23h0m6 -14h0m1 -34h0m6 8h0m9 38h0m2 -11h0m0 -24h0m0 -13h0m0 26h0m12 20h0m0 -25h0m1 13h0m0 -30h0m10 22h0m1 28h0m2 -47h0m10 21h0m0 -18h0m6 42h0m0 -15h0m6 -26h0m5 21h0m1 10h0m6 -35h0m6 27h0m0 11h0m0 -22h0m6 -17h0m7 42h0m4 -34h0m7 18h0m1 -29h0m5 49h0m0 -12h0m0 -25h0m5 9h0m7 9h0m6 12h0m0 -41h0m1 12h0m3 11h0m8 -12h0m0 23h0m1 -33h0m5 24h0m7 8h0m7 -18h0m5 30h0m4 -10h0m2 -19h0m3 -17h0m9 47h0m0 -32h0m0 15h0m5 -28h0m5 24h0m1 -13h0m0 31h0m8 -41h0m6 10h0m5 36h0m0 -13h0m0 -11h0m0 -24h0m5 12h0m5 30h0m2 -19h0m0 -23h0m7 32h0m5 9h0m6 -32h0m6 -9h0m6 14h0m0 10h0m0 15h0m6 10h0m0 -49h0m7 25h0m5 19h0m0 -29h0m0 -17h0m8 27h0m4 17h0m0 -31h0m7 9h0m4 -15h0m7 8h0m0 16h0m5 11h0m1 -36h0m12 40h0m3 -44h0m3 28h0m0 -12h0m6 29h0m4 -38h0m2 24h0m6 -32h0m0 48h0m0 -28h0m3 18h0m2 -28h0m1 18h0m6 -28h0m5 15h0m13 -12h0m6 32h0m0 13h0m10 -38h0m2 22h0m0 16h0m6 -45h0m0 20h0m6 -11h0m3 23h0m1 -10h0m2 -26h0m6 39h0m1 -21h0m10 -10h0m1 15h0m9 12h0m9 -24h0m6 15h0m0 15h0m1 -38h0m11 31h0m0 -23h0m18 7h0m0 30h0m0 -45h0m1 30h0m11 -13h0m0 -19h0m1 32h0m5 15h0m0 -37h0m7 14h0m0 -26h0m5 36h0m1 15h0m11 -15h0m0 14h0m0 -39h0m1 10h0m6 -20h0m6 37h0m1 -25h0m4 13h0m0 -23h0m6 38h0m1 -26h0m6 13h0m5 -22h0m1 32h0m0 14h0m0 -36h0m4 10h0m5 -17h0m0 38h0m9 -24h0m6 9h0m2 -16h0m4 35h0m5 -12h0m1 -28h0m1 14h0m5 -23h0m12 3h0m6 9h0m4 27h0m2 -14h0m6 22h0m3 -48h0m15 42h0m0 -31h0m6 11h0m0 -22h0m5 41h0m7 -11h0m2 -26h0m4 36h0m6 -23h0m6 -16h0m0 42h0m0 -12h0m6 -9h0m0 -10h0m6 25h0m6 -27h0m0 13h0m0 23h0m6 -8h0m6 -12h0m0 23h0m0 -34h0m1 -13h0m5 38h0m10 -6h0m1 12h0m7 -37h0m2 -10h0m4 43h0m0 -19h0m4 -10h0m8 -11h0m0 44h0m0 -25h0m7 9h0m17 21h0m0 -17h0m12 -33h0m0 24h0m0 24h0m6 -37h0m8 9h0m4 -9h0m0 32h0m1 -10h0m29 -25h0m0 30h0m0 -19h0m8 26h0m4 -15h0m6 -29h0m24 9h0m1 21h0m24 -10h0m8 -14h0m22 -2h0m0 24h0m0 16h0m12 -29h0m0 -19h0m0 31h0m30 -24h0m18 11h0m14 12h0m4 -23h0m0 12h0m6 28h0m6 -39h0m42 -2h0m18 36h0m10 -9h0m0 -22h0m2 42h0m24 -32h0m34 -7h0m0 33h0m22 -27h0m64 -15h0m35 11h0m0 -12h0m88 41h0m0 -28h0m31 -8h0m0 16h0m0 19h0m39 8h0m38 -28h0m0 -23h0m0 11h0m0 27h0m81 -16h0m0 -18h0m0 33h0m0 10h0m145 -19h0m0 15h0m1 -44h0"/><path d="M1264 1851h0m2 14h0m6 -52h0m6 46h0m0 -26h0m0 13h0m12 -9h0m2 13h0m0 12h0m0 -50h0m0 14h0m10 27h0m0 -22h0m6 31h0m0 -19h0m0 -27h0m6 35h0m10 -38h0m0 41h0m0 -30h0m2 10h0m8 31h0m3 -37h0m1 22h0m6 -14h0m0 -17h0m1 44h0m3 -17h0m8 -13h0m0 -13h0m12 2h0m0 32h0m6 -19h0m0 28h0m0 -52h0m0 34h0m11 -22h0m1 18h0m0 -28h0m11 52h0m1 -40h0m0 19h0m6 -30h0m0 42h0m6 9h0m4 -43h0m1 18h0m1 15h0m6 -22h0m3 -11h0m3 20h0m12 24h0m0 -24h0m0 -15h0m0 27h0m1 -37h0m17 27h0m1 -18h0m5 26h0m6 -11h0m0 -25h0m7 43h0m0 -34h0m11 -6h0m0 29h0m6 16h0m0 -29h0m3 -22h0m4 31h0m1 -19h0m6 29h0m4 -15h0m0 -19h0m0 44h0m7 -15h0m1 -20h0m5 30h0m4 -24h0m1 -14h0m1 30h0m14 -15h0m6 18h0m5 -12h0m5 -24h0m1 35h0m5 10h0m0 -20h0m6 9h0m4 -13h0m1 -19h0m11 0h0m8 34h0m0 -24h0m0 36h0m0 -55h0m0 29h0m11 15h0m1 -34h0m0 19h0m5 -27h0m5 33h0m8 -17h0m0 27h0m8 -38h0m4 19h0m0 12h0m0 12h0m6 -47h0m8 28h0m4 -12h0m0 34h0m0 -11h0m6 -32h0m3 14h0m3 30h0m2 -12h0m10 -22h0m6 23h0m1 -12h0m5 -15h0m15 -12h0m3 43h0m0 -25h0m0 13h0m6 -21h0m6 24h0m1 12h0m5 -41h0m0 17h0m6 -8h0m0 21h0m0 15h0m0 -53h0m6 27h0m6 -9h0m12 -13h0m6 39h0m10 -34h0m2 11h0m6 14h0m6 -16h0m0 -12h0m4 31h0m9 -9h0m4 13h0m1 -22h0m15 8h0m9 -20h0m6 15h0m6 15h0m6 -28h0m18 11h0m0 25h0m13 -40h0m0 21h0m0 17h0m6 -29h0m5 36h0m2 -23h0m10 15h0m1 -13h0m5 -13h0m0 -10h0m0 47h0m7 -11h0m8 -27h0m1 -12h0m2 25h0m2 11h0m5 -21h0m3 -17h0m2 41h0m6 -34h0m1 19h0m4 17h0m2 -28h0m5 14h0m5 11h0m2 -27h0m3 10h0m9 -15h0m0 32h0m0 -12h0m10 -25h0m2 36h0m0 -10h0m12 -18h0m6 8h0m6 24h0m4 -18h0m8 25h0m12 -8h0m0 -41h0m6 12h0m0 18h0m6 10h0m8 -34h0m16 31h0m6 -13h0m0 -20h0m6 31h0m0 -21h0m10 -13h0m2 15h0m6 25h0m1 -14h0m0 -23h0m15 39h0m8 -29h0m0 15h0m0 -29h0m6 39h0m3 -20h0m3 -14h0m0 43h0m6 -34h0m0 12h0m24 25h0m0 -15h0m12 -39h0m0 12h0m0 20h0m4 17h0m8 -39h0m6 9h0m0 11h0m30 -12h0m0 15h0m0 15h0m13 -13h0m3 -10h0m26 -4h0m1 -13h0m25 24h0m11 -24h0m18 1h0m0 13h0m0 19h0m12 -26h0m0 -10h0m4 23h0m26 -21h0m24 15h0m12 3h0m0 -15h0m7 39h0m1 -12h0m69 6h0m5 -10h0m0 -13h0m0 -10h0m2 40h0m58 -27h0m0 28h0m0 -39h0m215 35h0m25 -45h0m0 17h0m0 32h0m0 -16h0m77 -15h0m0 -12h0m81 16h0m0 -19h0m0 31h0m0 12h0m146 -2h0"/><path d="M1265 1856h0m12 -38h0m1 42h0m0 -14h0m14 -17h0m0 16h0m0 -27h0m0 47h0m4 -10h0m6 -10h0m6 -9h0m0 -20h0m0 43h0m11 1h0m4 -9h0m1 -22h0m2 10h0m0 -25h0m11 45h0m1 -34h0m6 25h0m0 -15h0m4 26h0m0 -48h0m8 26h0m6 -25h0m8 41h0m2 -34h0m2 15h0m0 30h0m6 -38h0m6 -10h0m0 25h0m12 14h0m0 -41h0m0 14h0m0 17h0m14 19h0m0 -49h0m4 23h0m0 -11h0m9 -7h0m9 17h0m6 -20h0m0 32h0m10 -25h0m14 22h0m0 -24h0m0 13h0m1 25h0m11 -39h0m6 30h0m3 -24h0m7 -11h0m2 40h0m0 -14h0m12 2h0m6 -9h0m0 17h0m1 -32h0m5 41h0m6 -22h0m0 -13h0m7 28h0m6 -11h0m14 8h0m10 -35h0m1 20h0m5 17h0m6 -9h0m5 -14h0m1 -21h0m0 48h0m18 4h0m0 -42h0m0 30h0m0 -14h0m12 -16h0m0 41h0m0 -10h0m0 -17h0m9 5h0m1 13h0m8 -32h0m2 34h0m10 -34h0m0 13h0m0 14h0m0 17h0m7 -53h0m9 38h0m2 -29h0m5 9h0m7 9h0m1 17h0m11 -23h0m12 22h0m0 -11h0m0 -14h0m16 -11h0m2 40h0m0 -10h0m0 -19h0m12 -2h0m5 16h0m1 -27h0m0 38h0m6 -24h0m0 34h0m6 -50h0m0 25h0m8 -14h0m14 -10h0m3 47h0m10 -47h0m1 12h0m0 11h0m12 -1h0m0 -19h0m6 28h0m3 -18h0m5 11h0m4 12h0m6 -28h0m10 20h0m8 -17h0m13 11h0m12 -10h0m11 -3h0m0 16h0m1 12h0m12 -32h0m0 15h0m0 18h0m11 3h0m3 -17h0m10 8h0m5 9h0m0 -36h0m0 12h0m13 16h0m6 -31h0m0 16h0m5 12h0m1 12h0m11 -38h0m1 26h0m0 15h0m0 -27h0m11 4h0m1 -13h0m0 35h0m12 -20h0m6 -17h0m6 22h0m6 -31h0m12 4h0m18 31h0m0 14h0m0 -27h0m18 23h0m4 -10h0m12 4h0m8 -39h0m12 31h0m7 -12h0m1 -18h0m1 37h0m9 -7h0m0 -12h0m5 -9h0m7 26h0m0 -15h0m3 26h0m3 -43h0m16 35h0m2 -26h0m6 -13h0m0 22h0m0 11h0m4 16h0m2 -39h0m6 -11h0m0 42h0m0 -16h0m36 -26h0m0 34h0m6 15h0m0 -34h0m11 1h0m6 22h0m25 -16h0m0 19h0m1 -33h0m42 14h0m0 -11h0m54 -13h0m0 14h0m6 32h0m6 -35h0m8 18h0m22 -21h0m36 14h0m0 -12h0m7 30h0m75 -12h0m2 -20h0m0 36h0m0 -26h0m60 31h0m0 -36h0m238 -1h0m0 14h0m0 19h0m0 -44h0m77 0h0m4 22h0m77 6h0m0 -13h0m0 34h0"/><path d="M1266 1851h0m12 -28h0m0 33h0m14 -41h0m0 46h0m0 -31h0m0 18h0m8 -8h0m8 12h0m0 -40h0m2 15h0m0 37h0m0 -23h0m10 13h0m5 -32h0m1 10h0m0 31h0m0 -20h0m12 13h0m0 -21h0m6 -13h0m6 23h0m0 -13h0m0 26h0m12 -24h0m10 -8h0m2 -11h0m0 44h0m0 -18h0m12 -22h0m12 6h0m0 22h0m0 -11h0m0 25h0m14 3h0m4 -50h0m0 25h0m0 11h0m9 -29h0m10 14h0m5 12h0m0 -27h0m24 3h0m0 21h0m6 13h0m7 -34h0m8 33h0m4 -32h0m5 -11h0m0 32h0m0 19h0m1 -30h0m12 5h0m3 13h0m3 -24h0m1 -12h0m5 28h0m6 -10h0m0 25h0m6 -39h0m2 31h0m21 -1h0m7 -28h0m6 23h0m6 12h0m5 -11h0m0 -21h0m0 10h0m1 -22h0m18 48h0m0 -12h0m0 -28h0m1 14h0m11 -17h0m0 23h0m1 -11h0m5 24h0m13 1h0m3 -27h0m8 -11h0m0 33h0m0 13h0m4 -22h0m2 -11h0m8 -16h0m3 30h0m7 -8h0m1 -21h0m5 9h0m18 5h0m6 21h0m0 -13h0m7 -14h0m11 -2h0m0 16h0m0 16h0m12 -33h0m0 11h0m6 21h0m0 12h0m0 -25h0m6 -15h0m6 -11h0m24 7h0m1 43h0m10 -38h0m7 13h0m6 -25h0m1 12h0m5 13h0m6 15h0m13 -29h0m12 23h0m11 -19h0m9 12h0m21 -11h0m1 22h0m12 -13h0m0 -20h0m5 35h0m1 -26h0m8 34h0m3 -15h0m12 8h0m0 -11h0m0 -17h0m0 40h0m7 -50h0m7 35h0m5 -28h0m0 15h0m5 12h0m7 10h0m6 -45h0m0 24h0m2 15h0m2 -25h0m0 35h0m8 -42h0m0 20h0m0 15h0m12 -25h0m3 10h0m3 -21h0m12 18h0m1 -21h0m17 7h0m12 19h0m22 8h0m13 8h0m1 -11h0m18 -1h0m6 -10h0m6 18h0m0 -36h0m6 28h0m1 -20h0m11 28h0m1 -21h0m0 -17h0m5 27h0m16 10h0m2 -34h0m6 -8h0m0 17h0m6 22h0m0 -10h0m6 -15h0m0 34h0m36 -43h0m2 25h0m4 12h0m6 -34h0m6 14h0m31 22h0m0 -23h0m42 7h0m0 -20h0m54 -6h0m6 35h0m6 -27h0m66 7h0m7 7h0m0 -21h0m75 13h0m0 14h0m2 19h0m6 -42h0m58 0h0m234 8h0m0 25h0m0 -39h0m0 26h0m77 -25h0m81 20h0m0 -18h0m0 31h0m0 14h0"/><path d="M1278 1848h0m4 10h0m10 -47h0m0 23h0m0 31h0m0 -20h0m4 -21h0m0 31h0m12 -17h0m0 12h0m2 -34h0m0 48h0m14 -14h0m0 11h0m2 -33h0m0 -13h0m0 24h0m12 -10h0m0 30h0m6 -9h0m0 -30h0m6 17h0m1 23h0m11 -26h0m12 2h0m0 -16h0m0 43h0m0 -16h0m24 -14h0m0 24h0m0 -35h0m18 40h0m0 -44h0m0 28h0m0 -11h0m10 -15h0m14 18h0m1 14h0m8 -28h0m15 5h0m0 18h0m7 -26h0m17 26h0m1 -25h0m5 -10h0m0 18h0m0 34h0m6 -21h0m11 10h0m1 -15h0m1 -19h0m11 24h0m2 -14h0m5 22h0m23 9h0m13 -46h0m0 38h0m11 -2h0m0 -23h0m19 29h0m0 -28h0m0 -14h0m0 31h0m14 -23h0m4 30h0m0 -12h0m17 -12h0m7 -11h0m0 35h0m0 -11h0m0 23h0m17 -16h0m7 -20h0m24 -1h0m6 25h0m18 -34h0m0 31h0m0 -20h0m3 30h0m9 -32h0m6 23h0m0 10h0m0 -41h0m0 17h0m12 -22h0m2 12h0m22 -6h0m4 43h0m8 -38h0m8 9h0m8 -7h0m2 19h0m0 -34h0m7 22h0m6 12h0m37 -12h0m22 -1h0m1 17h0m12 -18h0m2 12h0m9 15h0m7 -17h0m11 9h0m0 -30h0m0 40h0m1 -24h0m18 -4h0m0 -19h0m5 30h0m1 11h0m12 -41h0m0 42h0m4 -12h0m1 -21h0m0 43h0m7 -32h0m12 -2h0m12 12h0m36 8h0m0 -12h0m24 12h0m12 3h0m36 -9h0m0 -21h0m12 24h0m1 -30h0m0 19h0m5 25h0m18 -36h0m6 -11h0m0 40h0m0 -19h0m6 -9h0m6 28h0m0 -15h0m0 -24h0m36 -1h0m6 25h0m3 22h0m9 -41h0m0 11h0m31 -7h0m5 9h0m38 -7h0m65 3h0m1 -13h0m66 11h0m81 1h0m2 18h0m0 14h0m298 -25h0m0 -17h0m3 43h0m155 -38h0m0 17h0m0 10h0"/><path d="M1284 1861h0m8 -40h0m0 12h0m0 17h0m4 12h0m6 -14h0m6 -9h0m2 -17h0m0 -10h0m14 42h0m2 -30h0m0 -12h0m0 30h0m12 -15h0m6 25h0m5 -31h0m7 9h0m18 13h0m0 -21h0m0 38h0m0 -48h0m4 20h0m20 -7h0m6 33h0m12 -42h0m0 22h0m0 22h0m11 -42h0m14 15h0m5 11h0m18 -18h0m0 17h0m9 -24h0m16 31h0m5 -32h0m1 41h0m0 -21h0m14 2h0m2 12h0m2 -29h0m11 27h0m1 -13h0m12 9h0m18 6h0m12 -37h0m6 33h0m5 -23h0m1 10h0m0 24h0m18 4h0m0 -17h0m0 -29h0m15 4h0m3 36h0m18 -36h0m6 10h0m0 22h0m0 -11h0m6 20h0m0 -42h0m12 26h0m12 -20h0m0 11h0m24 12h0m0 11h0m3 -31h0m15 -4h0m0 -11h0m0 43h0m0 -14h0m12 -15h0m6 22h0m0 11h0m0 -48h0m0 27h0m6 -18h0m6 -9h0m25 -1h0m4 44h0m7 -33h0m12 16h0m6 -12h0m51 11h0m21 -5h0m1 16h0m17 0h0m2 -12h0m7 20h0m4 -19h0m11 21h0m0 -30h0m1 13h0m0 -25h0m18 18h0m6 12h0m0 -27h0m6 40h0m6 -36h0m0 25h0m0 -37h0m4 46h0m0 -24h0m8 -9h0m0 21h0m13 -7h0m5 -14h0m42 15h0m24 11h0m48 -5h0m2 -15h0m11 27h0m0 -31h0m5 -9h0m19 2h0m5 30h0m0 -13h0m6 21h0m0 -33h0m42 -9h0m6 27h0m12 -18h0m31 1h0m6 13h0m108 -11h0m62 -8h0m82 8h0m0 12h0m6 20h0m292 -39h0m158 5h0m0 11h0m0 12h0"/><path d="M1292 1814h0m0 33h0m0 -18h0m0 30h0m16 -11h0m2 -25h0m4 16h0m10 16h0m2 -28h0m0 -12h0m0 22h0m15 -3h0m3 -13h0m2 38h0m12 -22h0m16 4h0m0 -25h0m0 40h0m0 -27h0m24 -13h0m1 17h0m17 -17h0m0 32h0m0 15h0m1 -29h0m11 -17h0m2 10h0m12 15h0m22 -18h0m1 21h0m12 -24h0m12 29h0m5 -33h0m0 11h0m1 11h0m17 -2h0m1 11h0m3 -33h0m8 36h0m1 -15h0m30 16h0m12 -32h0m6 24h0m6 -18h0m18 36h0m0 -11h0m0 -32h0m3 22h0m14 -23h0m25 8h0m0 -11h0m0 37h0m0 -12h0m18 2h0m37 14h0m17 -33h0m0 32h0m0 -17h0m0 -26h0m12 7h0m6 29h0m0 -14h0m0 30h0m6 -46h0m32 -2h0m12 0h0m10 15h0m7 11h0m75 -7h0m24 27h0m3 -26h0m0 11h0m11 13h0m0 -38h0m1 15h0m0 11h0m18 -20h0m5 15h0m1 -25h0m12 36h0m0 -38h0m4 25h0m2 22h0m0 -34h0m19 2h0m47 8h0m24 13h0m48 -7h0m4 -20h0m9 31h0m0 -24h0m8 -11h0m21 1h0m0 34h0m6 -23h0m6 24h0m0 -32h0m42 -10h0m12 18h0m31 -1h0m258 -10h0m0 17h0m298 -20h0m158 14h0m0 -12h0m0 22h0m0 14h0"/><path d="M1292 1812h0m0 43h0m0 -19h0m4 -10h0m14 22h0m0 -26h0m14 37h0m2 -12h0m0 -23h0m18 7h0m18 3h0m12 -13h0m0 15h0m0 17h0m0 12h0m25 -31h0m0 -14h0m17 -4h0m0 41h0m0 -12h0m15 -24h0m15 29h0m19 -3h0m0 -19h0m24 21h0m5 -32h0m0 10h0m1 13h0m17 5h0m1 10h0m3 -26h0m11 21h0m2 -17h0m26 22h0m18 -6h0m6 -25h0m0 12h0m18 19h0m0 -28h0m0 16h0m4 -31h0m13 8h0m25 2h0m0 10h0m2 28h0m54 -7h0m16 -38h0m0 15h0m0 24h0m0 -11h0m12 -19h0m6 29h0m0 -39h0m0 26h0m6 23h0m0 -38h0m47 -5h0m7 20h0m6 -9h0m76 6h0m28 8h0m10 11h0m1 -27h0m18 -3h0m6 21h0m12 -1h0m0 -33h0m4 45h0m1 -37h0m0 13h0m20 6h0m5 -11h0m66 26h0m48 -1h0m1 -11h0m12 -23h0m0 37h0m5 -23h0m24 -20h0m0 10h0m6 30h0m6 -26h0m42 -5h0m14 8h0m31 -1h0m256 -3h0m0 18h0m298 -25h0m158 14h0m0 12h0m0 -23h0"/><path d="M1292 1849h0m0 -19h0m0 30h0m0 -43h0m18 32h0m0 -36h0m1 12h0m3 14h0m10 18h0m2 -11h0m0 -12h0m0 -15h0m18 12h0m18 3h0m12 10h0m0 -30h0m0 41h0m0 -23h0m25 -4h0m5 -10h0m12 -3h0m0 48h0m8 -23h0m9 -23h0m32 32h0m1 -18h0m28 18h0m1 -37h0m6 28h0m12 -4h0m0 21h0m5 -33h0m12 17h0m1 -10h0m30 22h0m18 -11h0m0 -19h0m18 38h0m1 -20h0m5 -26h0m12 0h0m24 10h0m0 -11h0m4 44h0m68 -35h0m0 32h0m0 -13h0m18 -21h0m0 34h0m0 -10h0m6 -13h0m60 4h0m78 -4h0m27 13h0m9 11h0m1 -33h0m0 11h0m24 11h0m0 -12h0m12 21h0m5 -33h0m0 22h0m1 -10h0m0 31h0m24 -26h0m127 -9h0m0 25h0m29 -39h0m6 40h0m2 -30h0m47 -4h0m306 4h0m292 -11h0m0 11h0m158 12h0m0 16h0m0 -27h0"/><path d="M1292 1821h0m0 25h0m0 -12h0m4 25h0m14 -12h0m1 -34h0m13 45h0m2 -12h0m0 -19h0m0 -12h0m18 15h0m30 -12h0m0 20h0m0 21h0m27 -26h0m0 -11h0m16 2h0m8 -10h0m40 37h0m5 -12h0m24 17h0m1 -41h0m0 27h0m18 -5h0m17 -3h0m4 16h0m45 -20h0m0 16h0m19 18h0m1 -21h0m4 -29h0m12 3h0m24 6h0m5 10h0m0 20h0m67 -26h0m0 22h0m6 10h0m12 -38h0m0 32h0m0 10h0m6 -20h0m0 -11h0m174 21h0m0 11h0m1 -43h0m0 11h0m24 5h0m16 13h0m1 -12h0m0 -17h0m1 39h0m152 -32h0m1 28h0m28 -36h0m11 9h0m0 28h0m44 -36h0m600 2h0m155 7h0"/><path d="M1292 1829h0m0 22h0m0 -37h0m4 48h0m0 -23h0m14 6h0m2 -25h0m14 42h0m0 -32h0m0 15h0m0 -27h0m18 10h0m30 11h0m0 -27h0m2 11h0m4 39h0m24 -32h0m63 13h0m27 13h0m1 -11h0m0 -32h0m18 30h0m18 -8h0m3 15h0m45 -21h0m0 17h0m21 -1h0m15 -24h0m24 -1h0m72 11h0m0 -13h0m0 25h0m0 15h0m18 -36h0m0 29h0m6 9h0m0 -19h0m174 11h0m1 -22h0m3 -10h0m3 43h0m35 -14h0m0 -15h0m1 -20h0m0 48h0m6 -38h0m150 31h0m36 -25h0m0 26h0m799 -28h0"/><path d="M1292 1855h0m0 -29h0m4 18h0m0 -29h0m14 30h0m4 -31h0m12 42h0m0 -33h0m0 23h0m20 -24h0m28 13h0m0 -16h0m0 27h0m31 -25h0m62 29h0m28 3h0m6 -9h0m13 -6h0m17 3h0m48 -9h0m0 12h0m1 -24h0m23 29h0m36 -22h0m0 -13h0m72 11h0m0 26h0m6 10h0m12 -38h0m0 34h0m6 -12h0m0 -12h0m175 28h0m0 -13h0m0 -20h0m5 9h0m36 16h0m0 -12h0m1 -19h0m6 9h0m150 20h0m835 -21h0"/><path d="M1292 1851h0m0 -33h0m2 16h0m2 27h0m14 -16h0m5 -30h0m11 38h0m0 11h0m0 -44h0m0 17h0m21 -12h0m27 12h0m0 -20h0m94 26h0m27 7h0m24 -7h0m12 -2h0m48 -5h0m60 -13h0m72 9h0m0 12h0m18 -23h0m1 32h0m5 -17h0m175 25h0m0 -27h0m41 8h0m0 12h0m1 -38h0m6 12h0m150 25h0m835 -17h0"/><path d="M1296 1853h0m0 -23h0m0 -13h0m0 23h0m14 13h0m4 -12h0m12 13h0m0 -37h0m1 16h0m23 -4h0m24 0h0m0 -10h0m6 21h0m91 1h0m24 13h0m86 -26h0m58 -6h0m72 10h0m0 11h0m18 -13h0m6 24h0m0 -36h0m0 22h0m175 17h0m0 -18h0m42 14h0m0 -35h0m0 23h0m6 -13h0"/><path d="M1296 1853h0m0 -30h0m0 13h0m0 -23h0m30 41h0m0 -33h0m48 12h0m121 24h0m144 -28h0m0 -12h0m72 12h0m0 13h0m18 -22h0m6 33h0m0 -16h0m175 14h0m1 -18h0m41 22h0m0 -31h0m0 12h0"/><path d="M1296 1851h0m0 -38h0m0 23h0m0 -12h0m0 38h0m30 -16h0m0 13h0m0 -40h0m50 18h0m263 -13h0m0 -11h0m74 14h0m22 24h0m0 -25h0m2 14h0m175 -10h0m40 25h0m0 -34h0m0 24h0m6 -12h0"/><path d="M1296 1831h0m0 24h0m0 -36h0m0 24h0m30 12h0m3 -37h0m50 14h0m260 -9h0m78 4h0m18 30h0m2 -35h0m179 11h0m36 -10h0m0 33h0"/><path d="M1296 1827h0m0 23h0m0 -34h0m0 44h0m30 -6h0m54 -19h0m259 -6h0m0 -14h0m78 15h0m18 23h0m217 -35h0m0 35h0"/><path d="M1296 1857h0m0 -34h0m0 22h0m0 -11h0m30 22h0m54 -23h0m259 -4h0m96 28h0m217 -10h0m0 10h0m0 -34h0"/><path d="M1296 1852h0m0 -20h0m0 -18h0m0 48h0m33 -1h0m51 -27h0m259 -9h0m96 33h0m0 -11h0m217 10h0m0 -34h0"/><path d="M1296 1858h0m0 -30h0m0 16h0m343 -22h0m96 29h0m217 9h0m0 -13h0m0 -22h0"/><path d="M1296 1835h0m0 18h0m0 -28h0m343 2h0m96 30h0m217 6h0m0 -12h0m1 -34h0m5 9h0"/><path d="M1296 1837h0m0 12h0m0 12h0m343 -42h0"/><path d="M1296 1832h0m0 10h0m343 -20h0"/><path d="M1639 1827h0"/><path d="M1639 1823h0"/></g><rect x="1188" y="2091.9" width="524" height="63.8" fill="url(#g5)" mask="url(#vm)"/><g stroke="#00305f" stroke-width="9.8" stroke-linecap="round" stroke-opacity="0.2" fill="none"><path d="M1169 2114h0m0 36h0m0 -13h0m6 -34h0m3 20h0m4 16h0m0 11h0m3 -38h0m1 16h0m5 -30h0m2 41h0m0 -20h0m1 31h0m5 -46h0m1 27h0m4 13h0m1 -26h0m5 -11h0m4 14h0m1 28h0m3 -14h0m3 -28h0m7 24h0m0 13h0m0 -46h0m2 22h0m5 -14h0m2 45h0m3 -13h0m0 -22h0m2 11h0m3 -25h0m3 45h0m2 -34h0m2 19h0m4 -11h0m3 21h0m1 -41h0m3 30h0m3 -15h0m4 -18h0m2 50h0m4 -10h0m2 -24h0m0 12h0m2 -29h0m4 51h0m3 -41h0m0 26h0m8 -14h0m1 22h0m0 -40h0m6 31h0m2 -21h0m0 37h0m2 -51h0m1 26h0m7 9h0m4 18h0m0 -37h0m0 -13h0m8 19h0m0 18h0m2 12h0m4 -50h0m0 11h0m0 19h0m6 8h0m3 -17h0m3 -19h0m0 46h0m3 -35h0m1 24h0m7 11h0m1 -25h0m0 -20h0m6 8h0m0 26h0m5 -35h0m1 46h0m2 -26h0m4 -10h0m5 38h0m1 -11h0m0 -11h0m1 -28h0m5 16h0m3 34h0m2 -21h0m1 -25h0m4 38h0m0 -24h0m5 -19h0m3 35h0m0 -25h0m4 10h0m1 32h0m2 -51h0m4 35h0m1 -24h0m4 33h0m4 -14h0m4 -19h0m0 41h0m0 -52h0m6 35h0m3 -15h0m2 -15h0m1 39h0m6 -18h0m0 26h0m0 -40h0m6 -12h0m0 41h0m5 -11h0m3 -19h0m2 -12h0m2 50h0m0 -28h0m5 16h0m6 -37h0m0 50h0m5 -22h0m2 -11h0m0 22h0m4 -37h0m2 49h0m6 -32h0m0 20h0m0 -30h0m7 37h0m1 -17h0m4 -24h0m6 38h0m0 -23h0m0 13h0m7 -25h0m0 43h0m4 -12h0m0 -13h0m1 -26h0m4 13h0m1 36h0m5 -26h0m1 11h0m1 -34h0m6 14h0m0 37h0m5 -25h0m1 11h0m1 -33h0m5 13h0m3 -19h0m2 54h0m2 -26h0m0 14h0m3 -25h0m6 20h0m1 14h0m1 -43h0m0 16h0m7 -24h0m3 40h0m0 -20h0m1 32h0m1 -43h0m5 19h0m2 -28h0m4 54h0m1 -44h0m0 25h0m1 -13h0m6 24h0m0 -46h0m4 30h0m1 -11h0m6 -9h0m0 29h0m5 -14h0m1 27h0m0 -50h0m6 9h0m1 29h0m4 -15h0m4 28h0m3 -38h0m1 28h0m0 -41h0m5 33h0m1 -11h0m4 -13h0m2 40h0m3 -22h0m3 -29h0m3 17h0m5 25h0m4 -10h0m0 -25h0m2 12h0m4 29h0m4 -46h0m2 23h0m0 11h0m6 -23h0m0 41h0m4 -26h0m1 -25h0m1 36h0m5 14h0m1 -39h0m6 21h0m1 -30h0m1 41h0m4 -28h0m6 11h0m0 16h0m3 -43h0m3 15h0m4 37h0m2 -24h0m3 12h0m3 -39h0m0 17h0m6 33h0m2 -11h0m0 -12h0m2 -26h0m2 13h0m6 36h0m0 -11h0m6 -18h0m0 -21h0m0 10h0m4 32h0m2 -11h0m6 -12h0m2 -21h0m2 40h0m2 12h0m0 -42h0m6 18h0m2 -10h0m4 24h0m6 -18h0m0 -25h0m5 46h0m4 -15h0m2 -16h0m1 -12h0m6 37h0m0 13h0m0 -29h0m6 -13h0m6 40h0m0 -49h0m0 22h0m0 11h0m11 -4h0m0 20h0m1 -48h0m7 15h0m1 19h0m4 -28h0m0 18h0m0 26h0m5 -10h0m1 -42h0m6 34h0m0 -12h0m6 -20h0m0 49h0m7 -40h0m1 13h0m3 16h0m1 12h0m7 -51h0m1 15h0m1 21h0m3 -9h0m7 -21h0m2 35h0m6 -24h0m3 -20h0m1 47h0m9 -25h0m1 -14h0m2 43h0m5 -12h0m1 -37h0m3 26h0m2 26h0m1 -43h0m3 29h0m2 -38h0m1 19h0m5 11h0m1 23h0m5 -12h0m1 -41h0m0 16h0m5 14h0m3 -20h0m1 38h0m5 -29h0m4 21h0m5 -28h0m0 20h0m9 -15h0m4 23h0m0 -12h0m1 -21h0m4 45h0m13 -9h0m0 -27h0m6 -17h0m0 54h0m0 -20h0m6 -16h0m6 16h0m4 -12h0m2 29h0m7 -20h0m2 -17h0m1 27h0m8 13h0m5 -28h0m1 19h0m0 -37h0m12 21h0m0 10h0m0 -29h0m11 32h0m17 -4h0m2 -23h0m0 -11h0m10 50h0m2 -44h0m0 32h0m0 -19h0m6 -21h0m4 25h0m0 -14h0m0 28h0m14 -32h0m0 20h0m10 -6h0m2 10h0m6 -21h0m12 11h0m3 10h0m3 -19h0m9 28h0m3 -40h0m0 14h0m6 38h0m0 -21h0m10 12h0m4 -17h0m4 -23h0m0 33h0m6 -20h0m12 35h0m0 -11h0m0 -18h0m0 -24h0m12 54h0m0 -14h0m0 -21h0m12 -16h0m0 40h0m10 3h0m0 -22h0m8 -10h0m1 38h0m9 -45h0m2 12h0m1 16h0m11 -21h0m0 18h0m6 20h0m0 -48h0m1 18h0m11 -21h0m0 29h0m5 22h0m5 -29h0m0 19h0m0 -35h0m9 42h0m5 -29h0m12 24h0m7 -25h0m4 -13h0m13 42h0m0 -48h0m5 31h0m12 1h0m3 15h0m0 -36h0m0 11h0m15 -16h0m20 25h0m6 16h0m6 -18h0m0 -11h0m4 23h0m0 11h0m0 -47h0m14 24h0m11 19h0m0 -47h0m0 23h0m0 -12h0m10 39h0m15 -17h0m4 -33h0m8 7h0m39 2h0m0 32h0m0 -13h0m0 -29h0"/><path d="M1169 2109h0m0 37h0m0 -17h0m7 -12h0m0 -20h0m5 29h0m1 11h0m3 -24h0m2 36h0m6 -50h0m0 22h0m0 14h0m6 10h0m0 -33h0m4 -10h0m6 17h0m2 22h0m8 -29h0m4 -13h0m1 23h0m0 13h0m5 15h0m6 -50h0m0 40h0m1 -11h0m0 -18h0m5 40h0m5 -20h0m2 -22h0m1 33h0m4 -44h0m1 21h0m2 16h0m4 -26h0m0 41h0m3 -24h0m2 -26h0m1 41h0m6 -9h0m0 -17h0m5 -17h0m1 50h0m2 -27h0m4 13h0m0 -28h0m5 42h0m1 -23h0m6 -9h0m2 16h0m4 12h0m0 -42h0m2 22h0m3 -12h0m1 23h0m5 10h0m1 -45h0m5 16h0m1 11h0m6 14h0m4 -24h0m2 -14h0m0 24h0m0 23h0m6 -14h0m3 -28h0m3 11h0m0 32h0m0 -54h0m4 33h0m2 12h0m5 -31h0m1 -13h0m2 37h0m5 -9h0m2 -14h0m1 29h0m2 -40h0m6 50h0m0 -28h0m6 -19h0m0 32h0m3 11h0m3 -30h0m5 -16h0m5 25h0m2 17h0m0 -29h0m6 19h0m0 -33h0m6 21h0m0 24h0m6 -8h0m0 -40h0m0 12h0m6 37h0m1 -17h0m5 -25h0m0 15h0m1 20h0m8 11h0m0 -36h0m2 13h0m0 11h0m1 -36h0m6 44h0m3 -16h0m3 -20h0m0 -12h0m6 37h0m3 -11h0m2 -22h0m1 47h0m0 -36h0m6 20h0m11 13h0m0 -42h0m1 29h0m0 -16h0m11 31h0m1 -39h0m0 12h0m0 17h0m11 7h0m2 -36h0m1 16h0m4 10h0m0 -35h0m3 17h0m1 32h0m8 -42h0m0 31h0m0 -15h0m3 25h0m3 -49h0m0 16h0m6 28h0m0 -18h0m6 -15h0m0 -10h0m1 35h0m4 13h0m1 -26h0m5 -14h0m1 27h0m6 -14h0m1 -23h0m2 48h0m3 -39h0m0 27h0m6 -14h0m5 11h0m2 -27h0m0 43h0m5 -27h0m1 19h0m4 11h0m1 -43h0m0 21h0m6 -30h0m1 41h0m0 -24h0m5 10h0m0 24h0m1 -42h0m4 -11h0m2 42h0m3 -19h0m2 -12h0m6 -8h0m0 36h0m1 13h0m2 -35h0m7 27h0m3 -36h0m0 22h0m0 -11h0m4 33h0m5 -37h0m2 14h0m1 -28h0m0 43h0m10 5h0m1 -21h0m1 -13h0m0 -11h0m12 39h0m0 -22h0m0 -20h0m5 10h0m2 22h0m5 22h0m0 -11h0m1 -40h0m0 21h0m5 -11h0m4 34h0m2 -11h0m1 -13h0m5 -21h0m0 52h0m0 -40h0m6 27h0m6 -13h0m0 -18h0m4 36h0m5 -29h0m2 20h0m1 -33h0m9 44h0m3 -11h0m0 -20h0m3 -12h0m3 22h0m3 19h0m6 -23h0m1 11h0m2 -31h0m0 48h0m6 -11h0m3 -18h0m3 -12h0m0 44h0m2 -55h0m2 32h0m8 -23h0m0 35h0m0 -23h0m6 10h0m0 23h0m0 -53h0m6 20h0m4 32h0m2 -15h0m2 -31h0m10 10h0m0 33h0m4 -13h0m2 -31h0m4 49h0m1 -30h0m2 -11h0m5 30h0m1 -42h0m5 33h0m6 15h0m0 -25h0m3 -23h0m9 37h0m0 -23h0m0 12h0m7 27h0m5 -12h0m1 -10h0m0 -11h0m0 -15h0m6 46h0m8 -26h0m3 10h0m0 -20h0m6 32h0m3 -42h0m3 11h0m1 21h0m11 3h0m0 11h0m0 -35h0m7 -9h0m0 17h0m5 23h0m5 -18h0m7 24h0m0 -32h0m0 18h0m1 -39h0m0 10h0m10 15h0m0 17h0m0 -38h0m2 49h0m11 -22h0m0 16h0m1 -42h0m6 14h0m5 -15h0m0 47h0m0 -14h0m12 -19h0m0 21h0m0 -35h0m6 26h0m6 -14h0m4 20h0m5 -34h0m10 20h0m5 -13h0m1 40h0m6 -18h0m12 -18h0m0 18h0m6 13h0m9 -13h0m4 13h0m5 -21h0m6 -16h0m0 38h0m14 -22h0m4 13h0m18 8h0m0 -13h0m0 -17h0m0 -11h0m12 23h0m0 14h0m6 -31h0m4 25h0m0 14h0m8 -38h0m11 18h0m1 -28h0m5 17h0m7 13h0m0 -27h0m12 16h0m4 15h0m15 -17h0m12 21h0m8 -17h0m3 28h0m0 -16h0m3 -26h0m27 3h0m0 26h0m1 -11h0m11 -17h0m0 33h0m13 2h0m6 -16h0m2 -16h0m15 -6h0m0 24h0m8 -12h0m4 16h0m0 -26h0m15 -1h0m7 44h0m0 -32h0m0 14h0m7 -31h0m8 44h0m18 -6h0m8 -38h0m10 3h0m5 30h0m14 -6h0m0 -22h0m0 45h0m0 -33h0m0 22h0m17 -29h0m6 -9h0m28 31h0m0 -21h0m0 41h0m0 -53h0m25 39h0m0 -35h0m0 47h0m0 -26h0m76 -19h0m0 43h0m0 -28h0m9 19h0"/><path d="M1169 2145h0m1 -30h0m0 14h0m11 -10h0m1 -19h0m0 33h0m5 18h0m6 -41h0m0 31h0m1 -43h0m0 25h0m6 26h0m3 -15h0m3 -19h0m4 11h0m1 21h0m7 -13h0m6 -12h0m4 -20h0m2 49h0m2 -13h0m4 -17h0m0 -13h0m6 37h0m0 -11h0m6 -22h0m2 -13h0m0 27h0m9 -12h0m1 29h0m0 -14h0m0 -27h0m8 18h0m1 14h0m3 -29h0m0 41h0m6 -29h0m0 10h0m0 -31h0m2 42h0m4 -31h0m0 44h0m5 -18h0m7 11h0m0 -21h0m0 -13h0m8 26h0m3 -30h0m1 21h0m0 20h0m4 -31h0m2 -19h0m5 49h0m1 -16h0m1 -23h0m5 12h0m4 21h0m2 -37h0m0 48h0m3 -23h0m8 -15h0m1 -13h0m0 48h0m0 -15h0m6 -10h0m6 -12h0m1 21h0m5 11h0m0 -45h0m6 30h0m0 -12h0m4 23h0m1 -32h0m6 41h0m1 -29h0m4 16h0m2 -30h0m5 11h0m2 30h0m4 -13h0m1 -32h0m6 15h0m6 -10h0m0 30h0m6 -12h0m0 21h0m4 -44h0m2 12h0m0 21h0m4 15h0m2 -27h0m6 -20h0m2 37h0m3 -26h0m2 35h0m1 -24h0m3 -27h0m1 40h0m6 9h0m0 -29h0m0 -12h0m9 27h0m3 -21h0m0 31h0m0 -42h0m6 27h0m6 11h0m6 10h0m0 -48h0m0 28h0m0 -14h0m7 25h0m5 -35h0m0 14h0m2 13h0m0 18h0m12 -45h0m2 46h0m2 -33h0m0 22h0m0 -10h0m10 -28h0m1 41h0m1 -27h0m0 17h0m6 17h0m4 -43h0m2 30h0m0 -19h0m7 28h0m0 -19h0m0 -29h0m3 12h0m3 27h0m2 -16h0m4 -17h0m5 39h0m0 -27h0m1 11h0m6 -21h0m0 44h0m3 -16h0m3 -13h0m8 -16h0m2 22h0m1 20h0m1 -32h0m4 20h0m4 -35h0m3 26h0m0 21h0m0 -35h0m6 25h0m1 -40h0m5 28h0m1 -13h0m0 40h0m6 -13h0m2 -21h0m2 -11h0m2 21h0m0 21h0m6 -13h0m0 -39h0m1 18h0m5 13h0m3 16h0m3 -26h0m0 -14h0m6 25h0m0 23h0m4 -45h0m2 32h0m0 -20h0m6 10h0m0 18h0m3 -49h0m2 12h0m2 12h0m5 14h0m0 14h0m3 -51h0m2 17h0m5 22h0m2 -12h0m0 -23h0m3 46h0m3 -32h0m5 -11h0m1 40h0m2 -10h0m3 -17h0m1 -21h0m8 11h0m1 26h0m5 -37h0m5 54h0m4 -28h0m1 -24h0m0 40h0m11 6h0m1 -35h0m1 23h0m2 -34h0m1 23h0m8 17h0m1 -12h0m3 -12h0m2 -14h0m3 48h0m3 -12h0m0 -10h0m3 -14h0m3 -10h0m6 15h0m0 30h0m4 -46h0m1 31h0m7 7h0m0 -17h0m0 -10h0m12 7h0m0 22h0m4 -41h0m5 34h0m3 -15h0m6 -14h0m0 43h0m2 -10h0m4 -21h0m6 -10h0m4 39h0m1 -13h0m1 -35h0m10 43h0m2 -35h0m6 22h0m0 -13h0m0 -18h0m10 45h0m3 -14h0m0 -10h0m5 -20h0m1 10h0m1 38h0m10 -24h0m1 -18h0m0 36h0m8 -24h0m4 -16h0m0 37h0m12 7h0m1 -14h0m1 -21h0m4 -11h0m6 44h0m6 -25h0m5 14h0m0 16h0m6 -51h0m1 20h0m1 21h0m4 -12h0m0 22h0m1 -43h0m12 23h0m0 -31h0m0 49h0m5 -38h0m5 17h0m2 20h0m8 -7h0m4 -17h0m6 11h0m11 -3h0m1 -14h0m5 -9h0m13 7h0m0 -13h0m0 41h0m6 -14h0m12 -9h0m2 16h0m22 14h0m0 -14h0m0 -19h0m6 -15h0m18 37h0m18 6h0m0 -12h0m0 -19h0m0 -13h0m12 29h0m6 -12h0m4 -15h0m0 37h0m8 -11h0m12 -25h0m0 31h0m12 -17h0m0 12h0m18 3h0m36 -13h0m0 28h0m31 -13h0m0 -21h0m12 21h0m0 13h0m35 -40h0m1 27h0m12 -4h0m21 -31h0m0 40h0m0 -18h0m0 -11h0m0 40h0m70 -28h0m0 15h0m0 14h0m0 -42h0m51 28h0m0 15h0m0 -32h0m0 -13h0m25 23h0m1 22h0m75 -40h0m0 29h0"/><path d="M1170 2112h0m1 12h0m5 26h0m0 -14h0m5 -22h0m6 18h0m1 -28h0m2 38h0m4 -20h0m5 11h0m0 -32h0m1 50h0m6 -37h0m7 30h0m5 -22h0m7 9h0m5 -31h0m2 21h0m0 30h0m4 -20h0m3 -24h0m9 27h0m0 13h0m3 -48h0m3 24h0m4 -11h0m2 36h0m0 -13h0m4 -9h0m2 -28h0m5 37h0m2 -19h0m5 -16h0m0 48h0m0 -20h0m6 -16h0m3 10h0m1 13h0m1 -32h0m1 46h0m6 -32h0m6 13h0m0 15h0m6 -38h0m0 11h0m5 26h0m1 -45h0m0 33h0m6 -21h0m2 10h0m5 29h0m3 -22h0m2 11h0m0 -24h0m0 -13h0m8 44h0m1 -13h0m2 -20h0m1 -13h0m6 49h0m1 -13h0m9 -31h0m6 9h0m1 27h0m1 -43h0m0 32h0m13 -13h0m3 10h0m2 17h0m6 -33h0m0 -15h0m2 27h0m4 28h0m0 -17h0m6 -27h0m1 16h0m5 21h0m3 -42h0m3 25h0m0 -11h0m5 21h0m1 -29h0m6 19h0m0 -10h0m0 -20h0m0 49h0m6 -38h0m3 28h0m1 -13h0m3 24h0m4 -44h0m1 13h0m0 14h0m6 18h0m4 -13h0m1 -32h0m3 10h0m4 30h0m1 -20h0m3 -17h0m2 26h0m11 4h0m1 -34h0m0 46h0m1 -27h0m4 -9h0m7 -7h0m0 18h0m1 13h0m8 6h0m8 -38h0m1 18h0m0 11h0m0 15h0m12 -46h0m0 30h0m1 17h0m0 -34h0m5 9h0m6 23h0m1 -38h0m0 25h0m4 -16h0m7 15h0m0 -26h0m6 35h0m1 -26h0m4 -11h0m4 21h0m3 11h0m1 11h0m0 -50h0m5 15h0m1 11h0m7 11h0m3 -25h0m1 36h0m0 -20h0m0 -27h0m6 18h0m0 18h0m4 -30h0m3 21h0m0 21h0m5 -36h0m0 27h0m1 -38h0m6 50h0m3 -18h0m2 -16h0m1 -10h0m5 32h0m1 -42h0m0 30h0m0 25h0m6 -39h0m5 30h0m1 -10h0m0 -30h0m5 11h0m7 29h0m0 -41h0m0 27h0m4 -15h0m8 12h0m0 -19h0m0 39h0m6 -48h0m6 41h0m0 -16h0m5 -14h0m7 39h0m0 -26h0m5 15h0m1 -29h0m5 39h0m1 -30h0m6 11h0m0 -25h0m6 14h0m5 24h0m1 -35h0m0 20h0m11 17h0m1 -22h0m0 -20h0m12 50h0m1 -21h0m3 -30h0m8 27h0m7 -7h0m3 27h0m3 -39h0m2 30h0m3 -20h0m9 -16h0m2 27h0m1 11h0m4 -20h0m2 29h0m0 -40h0m6 22h0m6 -14h0m2 27h0m10 -39h0m0 14h0m1 25h0m5 -12h0m6 13h0m0 -42h0m0 21h0m6 -12h0m9 18h0m4 10h0m2 -41h0m9 18h0m0 25h0m0 -12h0m1 -26h0m11 40h0m1 -18h0m0 -11h0m5 -12h0m1 32h0m11 -3h0m1 -18h0m5 9h0m1 19h0m4 -32h0m6 30h0m2 -38h0m10 5h0m1 14h0m0 18h0m18 -8h0m0 -15h0m1 29h0m7 -44h0m3 30h0m0 16h0m1 -31h0m13 -17h0m0 30h0m0 17h0m6 -39h0m6 21h0m6 20h0m12 -33h0m0 22h0m12 -14h0m12 -10h0m24 13h0m24 19h0m0 -16h0m6 -21h0m36 29h0m0 -33h0m12 31h0m6 -13h0m4 -17h0m8 30h0m15 -33h0m9 22h0m0 -13h0m0 24h0m18 0h0m36 -13h0m36 -7h0m42 -8h0m6 21h0m28 8h0m0 -30h0m0 10h0m0 31h0m70 -22h0m0 24h0m0 -49h0m0 37h0m51 -4h0m0 10h0m0 -25h0m0 -11h0m8 42h0m17 -20h0m76 16h0m0 -34h0"/><path d="M1170 2120h0m2 13h0m4 -23h0m0 35h0m6 -23h0m5 -15h0m0 32h0m4 -22h0m3 31h0m0 -49h0m1 31h0m5 -20h0m5 34h0m6 -30h0m6 31h0m11 -23h0m2 -25h0m6 46h0m0 -36h0m5 9h0m1 12h0m6 8h0m2 14h0m4 -51h0m6 21h0m0 -10h0m0 33h0m0 -10h0m9 -30h0m3 18h0m0 10h0m6 10h0m0 -43h0m0 14h0m0 39h0m6 -27h0m5 13h0m1 -29h0m0 42h0m4 -24h0m8 -12h0m1 28h0m2 -15h0m3 -25h0m5 19h0m1 18h0m4 -34h0m4 10h0m7 13h0m0 19h0m3 -36h0m0 -12h0m6 23h0m0 12h0m6 -21h0m0 35h0m0 -48h0m5 33h0m13 -26h0m6 33h0m0 -11h0m0 -32h0m6 17h0m10 7h0m1 16h0m1 13h0m6 -52h0m2 14h0m3 18h0m1 15h0m6 -41h0m2 34h0m0 -14h0m10 4h0m0 -10h0m0 21h0m1 -39h0m9 27h0m2 13h0m0 -38h0m0 11h0m0 38h0m9 -31h0m1 15h0m2 -33h0m3 45h0m5 -23h0m4 -21h0m0 32h0m0 16h0m0 -37h0m8 27h0m1 -18h0m3 -19h0m6 11h0m0 21h0m12 0h0m0 -37h0m0 52h0m1 -35h0m5 -8h0m7 29h0m0 -12h0m4 -19h0m13 6h0m0 12h0m0 10h0m0 -33h0m0 48h0m12 -49h0m0 36h0m1 -24h0m1 37h0m4 -28h0m6 25h0m0 -16h0m6 -9h0m0 -19h0m7 29h0m0 12h0m0 -30h0m6 -11h0m5 15h0m0 24h0m7 -11h0m5 13h0m0 -30h0m9 6h0m2 -14h0m1 28h0m1 10h0m6 -20h0m3 -17h0m2 27h0m1 15h0m5 -48h0m0 18h0m7 -9h0m0 30h0m11 -34h0m0 16h0m1 10h0m0 15h0m9 -29h0m3 25h0m0 -39h0m3 23h0m3 -15h0m6 -10h0m0 42h0m0 -22h0m7 8h0m5 -9h0m0 -10h0m0 32h0m6 -41h0m6 45h0m0 -23h0m6 13h0m0 -33h0m3 11h0m3 11h0m1 22h0m5 -50h0m0 39h0m1 -26h0m5 35h0m6 -26h0m0 -20h0m0 34h0m9 -24h0m3 28h0m6 -8h0m6 16h0m0 -27h0m0 -20h0m6 29h0m9 11h0m2 -37h0m1 47h0m5 -17h0m7 -11h0m6 27h0m4 -27h0m1 14h0m1 -34h0m12 -1h0m0 26h0m0 10h0m0 11h0m6 -39h0m12 21h0m6 13h0m6 -41h0m3 21h0m3 14h0m0 13h0m6 -37h0m24 34h0m1 -44h0m5 9h0m1 23h0m5 -10h0m6 14h0m1 -22h0m3 10h0m2 -23h0m0 43h0m13 -27h0m6 22h0m5 -27h0m1 -11h0m13 36h0m4 -23h0m1 -11h0m17 13h0m1 16h0m10 -30h0m0 19h0m0 15h0m2 12h0m12 -45h0m0 21h0m12 10h0m1 -12h0m89 26h0m0 -19h0m6 8h0m0 -29h0m36 33h0m22 -18h0m0 -22h0m32 20h0m0 14h0m54 -15h0m91 6h0m21 -27h0m0 13h0m0 28h0m0 -12h0m70 5h0m0 -19h0m51 14h0m0 20h0m0 -34h0m0 -11h0m101 43h0m0 -44h0"/><path d="M1171 2112h0m6 35h0m5 -14h0m2 -11h0m3 -15h0m4 39h0m3 -49h0m0 28h0m3 12h0m9 12h0m1 -39h0m12 33h0m10 -14h0m7 -26h0m0 34h0m0 10h0m0 -34h0m5 11h0m9 19h0m10 -16h0m0 -16h0m0 37h0m0 -50h0m6 38h0m1 -16h0m5 -21h0m4 39h0m2 -25h0m0 35h0m6 -20h0m0 -29h0m6 44h0m0 -32h0m5 18h0m7 -9h0m5 15h0m1 -31h0m6 44h0m0 -24h0m5 -21h0m7 8h0m3 16h0m3 20h0m5 -37h0m7 10h0m0 21h0m0 -40h0m6 32h0m0 17h0m12 -43h0m6 25h0m0 17h0m1 -50h0m5 14h0m3 12h0m9 11h0m0 -21h0m0 32h0m6 -24h0m0 -24h0m6 38h0m2 -21h0m4 -15h0m6 11h0m1 28h0m5 -20h0m3 -17h0m1 28h0m2 14h0m6 -32h0m0 -14h0m0 25h0m6 21h0m6 -31h0m3 21h0m3 -31h0m1 18h0m2 22h0m3 -12h0m1 -19h0m5 -16h0m6 34h0m0 -17h0m0 36h0m5 -46h0m1 37h0m12 3h0m0 -11h0m0 -30h0m1 16h0m11 -12h0m4 10h0m2 23h0m12 -31h0m0 -12h0m0 42h0m0 -18h0m0 28h0m12 -45h0m1 30h0m0 -16h0m0 27h0m11 -29h0m0 22h0m6 -14h0m1 -20h0m0 44h0m6 -11h0m5 -26h0m0 17h0m7 15h0m3 -43h0m1 20h0m6 17h0m2 10h0m0 -37h0m3 17h0m8 -23h0m0 32h0m0 -19h0m4 33h0m3 -23h0m5 -28h0m1 14h0m0 27h0m5 -15h0m1 24h0m2 -42h0m6 36h0m5 -28h0m4 -14h0m1 35h0m5 15h0m1 -35h0m6 -14h0m0 39h0m6 -28h0m0 13h0m6 17h0m0 -39h0m6 10h0m0 11h0m6 15h0m5 -18h0m0 -13h0m9 33h0m4 -41h0m0 21h0m6 16h0m1 -26h0m4 16h0m4 15h0m3 -41h0m3 32h0m3 -14h0m3 27h0m4 -44h0m2 27h0m3 -15h0m12 9h0m0 15h0m18 -32h0m6 24h0m12 -16h0m6 21h0m0 -29h0m0 19h0m0 22h0m6 -33h0m6 -12h0m0 31h0m2 14h0m4 -29h0m3 -12h0m10 29h0m15 -9h0m2 -25h0m0 37h0m0 -23h0m6 35h0m6 -46h0m0 10h0m24 -15h0m0 40h0m1 -24h0m0 13h0m12 16h0m0 -27h0m5 15h0m0 -34h0m31 7h0m11 5h0m1 13h0m0 22h0m18 -28h0m0 19h0m5 -10h0m6 -22h0m0 42h0m7 -18h0m6 -29h0m6 30h0m14 1h0m82 -10h0m64 11h0m0 -31h0m32 15h0m166 -10h0m0 17h0m0 24h0m0 -12h0m70 -4h0m51 19h0m0 -39h0m0 22h0m101 -26h0"/><path d="M1176 2118h0m1 29h0m10 -28h0m0 12h0m6 -25h0m0 40h0m7 -48h0m0 40h0m0 -11h0m7 23h0m6 -32h0m7 21h0m12 -13h0m4 14h0m0 -23h0m1 33h0m2 -47h0m12 41h0m9 -27h0m0 34h0m0 -21h0m0 -26h0m12 -6h0m2 43h0m0 -20h0m7 -13h0m3 16h0m0 -26h0m3 50h0m3 -13h0m13 -12h0m5 14h0m0 -25h0m0 -12h0m12 2h0m0 25h0m8 -13h0m4 26h0m0 -16h0m6 -22h0m6 19h0m0 13h0m0 12h0m6 -49h0m0 15h0m6 19h0m12 -27h0m0 31h0m7 -9h0m7 -13h0m4 27h0m0 -14h0m6 -8h0m4 -10h0m2 21h0m6 9h0m0 -41h0m3 12h0m9 18h0m0 -13h0m0 32h0m7 -9h0m5 -25h0m0 11h0m0 -21h0m0 45h0m12 -6h0m0 -25h0m6 -9h0m6 38h0m0 -21h0m0 -27h0m9 18h0m3 -11h0m0 30h0m0 11h0m8 -31h0m4 25h0m6 -38h0m0 29h0m0 18h0m1 -33h0m12 -3h0m5 9h0m0 12h0m12 -28h0m0 37h0m0 -26h0m1 11h0m12 -21h0m1 27h0m2 -13h0m1 23h0m2 -47h0m6 35h0m0 -17h0m6 28h0m0 -40h0m6 21h0m6 -15h0m6 11h0m0 24h0m6 -16h0m5 17h0m1 -41h0m0 13h0m11 -6h0m0 19h0m1 13h0m6 -22h0m4 12h0m1 -32h0m1 49h0m5 -40h0m0 31h0m1 -20h0m6 -21h0m6 43h0m5 -31h0m1 -13h0m0 24h0m0 12h0m6 11h0m6 -26h0m0 -10h0m5 34h0m1 -10h0m5 -25h0m1 -11h0m0 24h0m7 20h0m5 -19h0m6 -9h0m1 -12h0m7 23h0m4 17h0m0 -28h0m6 15h0m6 -10h0m0 -12h0m0 38h0m12 -4h0m0 -13h0m0 -13h0m13 16h0m11 -8h0m1 17h0m23 -38h0m0 28h0m18 -19h0m0 23h0m0 11h0m0 -46h0m0 25h0m12 0h0m0 20h0m0 -34h0m6 23h0m9 -23h0m21 10h0m0 -14h0m6 46h0m0 -21h0m6 -25h0m24 38h0m0 -35h0m1 -11h0m5 29h0m12 -1h0m0 15h0m0 -42h0m42 15h0m1 -10h0m18 24h0m11 -7h0m1 -22h0m0 43h0m12 -39h0m108 23h0m58 9h0m32 -9h0m166 -23h0m0 13h0m0 10h0m70 14h0m51 9h0m0 -35h0m0 16h0m101 -24h0"/><path d="M1179 2115h0m8 8h0m2 11h0m4 -26h0m1 38h0m1 -49h0m6 30h0m4 12h0m28 -18h0m6 -10h0m3 38h0m0 -12h0m1 -36h0m10 33h0m7 -13h0m0 23h0m0 -36h0m0 -11h0m6 35h0m12 -14h0m0 -13h0m0 33h0m8 -6h0m4 10h0m0 -38h0m6 26h0m8 -9h0m4 13h0m0 -24h0m0 -11h0m13 12h0m9 6h0m2 18h0m0 13h0m6 -38h0m0 16h0m6 15h0m6 -28h0m0 -13h0m18 33h0m0 -28h0m3 39h0m12 -34h0m3 24h0m0 -14h0m12 -19h0m0 18h0m0 15h0m12 -29h0m6 15h0m0 14h0m0 14h0m4 -42h0m8 31h0m0 -18h0m0 -20h0m0 52h0m6 -41h0m6 9h0m4 28h0m2 -37h0m6 20h0m0 -30h0m0 20h0m6 19h0m6 -23h0m0 -12h0m0 46h0m8 -16h0m10 8h0m0 -35h0m0 19h0m4 -10h0m2 -19h0m7 11h0m6 17h0m11 -14h0m0 -12h0m0 42h0m0 -18h0m17 15h0m1 -20h0m0 33h0m0 -52h0m12 32h0m0 -13h0m1 -15h0m13 10h0m1 -11h0m4 20h0m2 20h0m10 -9h0m0 -18h0m11 14h0m0 -21h0m1 34h0m0 -24h0m11 10h0m1 -21h0m0 41h0m0 -51h0m1 21h0m5 19h0m6 -30h0m8 33h0m3 -38h0m1 12h0m0 16h0m6 17h0m6 -33h0m6 22h0m0 13h0m0 -45h0m6 11h0m0 11h0m7 14h0m0 -42h0m5 28h0m0 -14h0m18 -2h0m7 27h0m0 -15h0m5 -17h0m6 40h0m6 -21h0m0 -16h0m8 9h0m6 15h0m10 -16h0m3 22h0m0 -11h0m23 8h0m16 -1h0m0 -30h0m0 12h0m0 35h0m12 -28h0m0 18h0m6 -36h0m0 44h0m1 -16h0m8 -23h0m21 17h0m0 -15h0m1 -14h0m5 46h0m8 -31h0m22 25h0m2 -31h0m6 21h0m10 2h0m1 14h0m41 -31h0m19 17h0m12 -32h0m0 39h0m120 -9h0m58 0h0m32 -3h0m166 -24h0m0 12h0m0 12h0m121 25h0m0 -25h0m0 -17h0m101 -5h0"/><path d="M1188 2132h0m0 -20h0m6 29h0m0 -38h0m1 21h0m45 -17h0m2 17h0m18 -4h0m0 27h0m0 -14h0m0 -33h0m6 9h0m12 5h0m0 -10h0m0 43h0m0 -14h0m12 -3h0m1 11h0m17 -21h0m0 22h0m0 -38h0m13 7h0m1 10h0m10 4h0m3 -15h0m3 35h0m0 -45h0m6 17h0m0 10h0m4 12h0m2 -38h0m0 48h0m18 -7h0m0 -35h0m0 22h0m8 -30h0m7 12h0m3 27h0m12 -33h0m0 28h0m1 -13h0m17 -8h0m0 11h0m1 14h0m11 -4h0m0 -25h0m0 13h0m0 24h0m7 -45h0m5 9h0m12 0h0m0 27h0m0 13h0m0 -23h0m1 -29h0m11 15h0m0 26h0m0 12h0m0 -50h0m18 3h0m0 31h0m1 12h0m0 -27h0m13 -13h0m16 5h0m0 30h0m0 -41h0m1 24h0m16 7h0m1 -16h0m0 27h0m1 -39h0m11 17h0m1 21h0m0 -10h0m6 -26h0m11 11h0m7 23h0m1 -13h0m5 -10h0m11 15h0m1 -24h0m0 36h0m6 -22h0m6 11h0m0 -25h0m0 44h0m6 -36h0m0 -17h0m0 43h0m15 -6h0m2 -32h0m1 16h0m0 26h0m7 -12h0m5 -22h0m0 12h0m6 23h0m0 -13h0m6 -22h0m0 11h0m0 -22h0m12 23h0m6 -14h0m15 0h0m6 15h0m3 10h0m0 10h0m12 -3h0m2 -35h0m52 21h0m12 16h0m0 -33h0m0 16h0m0 -27h0m12 28h0m5 11h0m1 -20h0m0 30h0m0 -45h0m31 23h0m1 -21h0m4 45h0m3 -33h0m27 22h0m4 -37h0m9 24h0m5 10h0m42 -18h0m31 -10h0m1 25h0m119 -11h0m256 -14h0m121 38h0m0 -14h0m0 -20h0"/><path d="M1188 2111h0m0 19h0m6 11h0m0 -40h0m1 19h0m46 -13h0m19 7h0m0 11h0m0 15h0m3 11h0m3 -49h0m12 20h0m0 -24h0m0 50h0m0 -14h0m12 2h0m2 12h0m16 -33h0m0 24h0m0 -13h0m2 -25h0m22 33h0m6 -24h0m6 10h0m0 15h0m0 14h0m6 -52h0m18 11h0m0 24h0m1 -34h0m17 21h0m0 15h0m12 -33h0m0 34h0m9 -19h0m9 9h0m5 -15h0m7 26h0m0 -15h0m1 28h0m5 -45h0m7 10h0m11 13h0m0 -16h0m0 34h0m0 -45h0m12 2h0m0 15h0m0 23h0m1 10h0m17 -41h0m0 24h0m0 11h0m1 -22h0m18 -18h0m11 5h0m0 25h0m1 17h0m6 -30h0m11 -4h0m0 11h0m1 17h0m0 -42h0m12 22h0m0 -14h0m6 -13h0m0 38h0m12 -26h0m5 10h0m1 26h0m6 -9h0m0 -28h0m11 20h0m1 -23h0m4 39h0m4 -26h0m4 -11h0m0 26h0m6 13h0m0 -48h0m0 27h0m18 -19h0m0 32h0m0 -18h0m12 -14h0m6 13h0m6 -11h0m0 25h0m0 10h0m12 -26h0m0 11h0m6 -22h0m24 20h0m0 12h0m0 -30h0m12 37h0m66 -5h0m0 -39h0m0 16h0m0 11h0m12 -8h0m6 19h0m0 -36h0m36 19h0m0 -11h0m32 26h0m16 -8h0m42 -14h0m151 11h0m258 -19h0m119 38h0m0 -33h0"/><path d="M1189 2133h0m5 -29h0m0 45h0m1 -24h0m47 -20h0m18 9h0m0 13h0m0 22h0m6 -46h0m12 -3h0m0 19h0m0 19h0m12 -4h0m6 12h0m12 -29h0m0 20h0m3 -32h0m21 19h0m6 17h0m2 -34h0m4 20h0m2 23h0m4 -11h0m0 -22h0m18 -10h0m0 30h0m2 -12h0m16 -11h0m0 23h0m13 -4h0m5 -29h0m12 14h0m2 11h0m10 -19h0m0 30h0m0 -17h0m16 -5h0m8 -13h0m0 25h0m0 18h0m12 -38h0m0 23h0m0 10h0m1 -44h0m17 7h0m0 24h0m1 12h0m5 -26h0m24 -14h0m0 15h0m0 22h0m1 -12h0m5 21h0m12 -37h0m0 24h0m7 12h0m2 -29h0m4 12h0m19 -14h0m6 26h0m5 -13h0m6 -16h0m6 11h0m0 -21h0m0 34h0m5 9h0m6 -21h0m1 -18h0m0 29h0m6 11h0m0 -50h0m0 19h0m18 -15h0m0 30h0m0 -16h0m0 27h0m12 -33h0m6 10h0m6 10h0m0 12h0m0 -39h0m14 16h0m4 -10h0m24 18h0m0 17h0m12 -4h0m66 4h0m0 -33h0m0 15h0m12 -4h0m6 9h0m0 12h0m1 -30h0m0 -11h0m35 32h0m48 3h0m43 -27h0m150 13h0m377 27h0m0 -33h0m8 -9h0"/><path d="M1194 2110h0m0 27h0m0 -39h0m0 27h0m1 23h0m47 -43h0m18 9h0m0 18h0m0 16h0m6 -42h0m12 -6h0m0 20h0m0 27h0m12 -17h0m18 -6h0m0 -10h0m0 28h0m3 -43h0m26 33h0m7 -22h0m0 12h0m2 23h0m4 -9h0m18 -32h0m2 26h0m4 10h0m12 2h0m0 -26h0m0 15h0m13 -2h0m17 -8h0m12 14h0m0 -28h0m0 10h0m18 -8h0m6 34h0m0 -13h0m0 -29h0m12 2h0m0 45h0m1 -13h0m0 -18h0m17 -8h0m0 25h0m1 -14h0m29 -6h0m0 -14h0m1 36h0m0 11h0m8 -26h0m9 -10h0m0 18h0m1 11h0m12 -18h0m6 9h0m18 -10h0m6 12h0m12 -27h0m0 16h0m0 16h0m6 10h0m6 -20h0m0 -18h0m0 30h0m5 -39h0m1 18h0m0 30h0m18 -49h0m0 41h0m0 -19h0m0 -11h0m6 21h0m12 -22h0m6 8h0m0 25h0m18 -17h0m0 -18h0m24 12h0m1 21h0m11 6h0m66 -29h0m0 24h0m0 -11h0m0 -29h0m18 23h0m0 15h0m2 -34h0m85 28h0m40 -23h0m527 38h0m0 -40h0"/><path d="M1194 2105h0m1 42h0m0 -20h0m0 -11h0m47 -5h0m18 9h0m0 14h0m4 -26h0m2 35h0m12 -39h0m0 16h0m0 26h0m30 -32h0m0 15h0m4 -27h0m2 39h0m24 -11h0m6 -23h0m0 10h0m6 26h0m18 -34h0m3 19h0m3 -28h0m12 18h0m2 14h0m13 4h0m15 -8h0m6 -11h0m6 19h0m0 -27h0m18 1h0m6 28h0m0 -17h0m1 -24h0m11 14h0m1 34h0m5 -48h0m12 3h0m0 28h0m1 -12h0m29 -2h0m1 19h0m1 14h0m16 -36h0m0 14h0m1 13h0m12 -20h0m6 9h0m24 8h0m12 -29h0m0 32h0m6 9h0m1 -19h0m5 -20h0m5 25h0m1 -12h0m0 25h0m0 -47h0m18 -1h0m0 37h0m0 -26h0m0 11h0m24 -6h0m0 21h0m0 11h0m42 -23h0m7 21h0m71 -19h0m0 -16h0m0 27h0m0 13h0m18 -2h0m0 -10h0m0 -12h0m3 -22h0m651 15h0"/><path d="M1194 2109h0m1 -11h0m0 46h0m0 -25h0m0 12h0m47 -21h0m18 13h0m0 -13h0m6 24h0m0 12h0m12 -44h0m0 17h0m0 18h0m1 11h0m29 -33h0m4 -11h0m32 10h0m0 15h0m6 16h0m18 -37h0m19 12h0m17 18h0m18 -23h0m6 16h0m0 -26h0m0 38h0m19 -34h0m5 38h0m1 -48h0m11 9h0m1 31h0m6 -42h0m12 36h0m5 -22h0m24 0h0m1 22h0m4 14h0m3 -28h0m11 -6h0m0 21h0m6 8h0m6 -16h0m6 -8h0m0 17h0m25 -2h0m11 -25h0m5 33h0m1 -10h0m6 -23h0m0 14h0m5 12h0m1 15h0m18 -44h0m0 26h0m0 13h0m24 -33h0m0 31h0m0 -20h0m44 3h0m76 8h0m0 -20h0m0 -10h0m0 47h0m4 -27h0m14 15h0"/><path d="M1194 2106h0m1 35h0m0 -14h0m47 -16h0m18 12h0m6 10h0m0 -22h0m12 -6h0m0 25h0m0 16h0m30 -35h0m6 -11h0m30 9h0m0 17h0m6 20h0m0 -11h0m18 -28h0m60 7h0m0 17h0m0 11h0m24 -32h0m1 32h0m12 -32h0m0 30h0m18 -6h0m5 -24h0m24 -6h0m0 15h0m1 18h0m7 8h0m11 -10h0m12 -11h0m34 4h0m8 -21h0m5 32h0m7 -11h0m0 -27h0m0 12h0m5 27h0m19 -42h0m0 42h0m0 -31h0m1 19h0m23 -17h0m0 25h0m3 -14h0m117 19h0m0 -24h0m0 -10h0m0 23h0m18 7h0"/><path d="M1195 2112h0m0 26h0m0 -39h0m0 28h0m0 23h0m47 -37h0m18 3h0m0 12h0m6 -23h0m12 -1h0m0 11h0m0 29h0m30 -35h0m36 4h0m1 21h0m6 14h0m24 -44h0m53 7h0m0 20h0m3 11h0m21 -39h0m13 1h0m0 38h0m18 -8h0m7 -17h0m22 -5h0m1 30h0m0 -12h0m23 8h0m50 -25h0m1 -10h0m4 46h0m6 -24h0m0 -16h0m5 25h0m19 -31h0m0 30h0m0 -20h0m24 25h0m0 -30h0m0 12h0m120 21h0m0 -22h0m0 12h0m18 11h0"/><path d="M1195 2110h0m0 30h0m0 -16h0m6 -22h0m59 14h0m6 10h0m0 -19h0m12 5h0m0 -13h0m0 48h0m30 -28h0m36 -8h0m9 33h0m75 -15h0m0 -23h0m0 11h0m24 -11h0m13 -2h0m5 40h0m13 -17h0m30 -18h0m0 26h0m0 -16h0m24 23h0m52 -36h0m8 20h0m0 -12h0m0 -14h0m6 34h0m18 -28h0m1 33h0m1 -12h0m22 8h0m0 -20h0m120 19h0m0 -18h0m0 34h0"/><path d="M1195 2114h0m0 13h0m0 18h0m0 -45h0m71 21h0m0 -12h0m0 26h0m12 -37h0m0 14h0m0 28h0m67 -26h0m83 17h0m1 -11h0m25 -7h0m16 30h0m14 -9h0m29 -17h0m0 17h0m0 -28h0m78 3h0m6 26h0m0 -14h0m3 -21h0m3 12h0m18 -11h0m1 40h0m23 -2h0m0 -26h0m120 30h0m0 -24h0m0 12h0"/><path d="M1195 2106h0m0 19h0m0 21h0m71 -19h0m0 -16h0m12 -12h0m2 43h0m70 -23h0m78 2h0m0 12h0m43 10h0m15 -13h0m27 -22h0m0 24h0m5 8h0m0 -23h0m79 17h0m0 -31h0m0 17h0m24 -12h0m2 25h0m22 8h0m0 -28h0m120 29h0m0 -16h0"/><path d="M1195 2113h0m0 27h0m0 -17h0m1 -21h0m70 28h0m0 -17h0m12 -14h0m2 42h0m70 -26h0m78 14h0m61 0h0m24 -18h0m0 21h0m5 9h0m79 -12h0m0 -22h0m6 13h0m0 22h0m20 -40h0m4 32h0m18 -21h0m0 23h0m120 5h0m0 -16h0"/><path d="M1195 2130h0m0 16h0m0 -27h0m0 -14h0m71 26h0m1 -15h0m11 -16h0m3 44h0m148 -14h0m84 -12h0m0 -11h0m0 25h0m7 8h0m77 -38h0m2 28h0m4 -18h0m24 29h0m18 -24h0m0 20h0m120 -1h0m0 12h0m0 -29h0"/><path d="M1195 2131h0m0 -16h0m5 28h0m66 -15h0m18 15h0m0 -42h0m147 33h0m82 -22h0m0 15h0m84 -20h0m5 20h0m1 11h0m24 2h0m18 -30h0m120 29h0m2 -21h0"/><path d="M1195 2134h0m0 -21h0m0 11h0m89 16h0m2 -39h0m227 34h0m0 -19h0m0 -11h0m86 0h0m4 28h0m0 -12h0m24 12h0m18 -22h0m120 37h0"/><path d="M1195 2112h0m0 11h0m0 15h0m318 -5h0m88 -24h0m2 24h0m0 -12h0m24 13h0"/><path d="M1195 2119h0m2 19h0m316 -14h0m0 13h0m90 -32h0m0 19h0m0 15h0m24 -3h0"/><path d="M1195 2122h0m322 13h0m86 -30h0m0 25h0m0 -11h0"/><path d="M1517 2133h0m86 -24h0m0 21h0"/><path d="M1603 2105h0m0 17h0m0 17h0"/><path d="M1603 2107h0m0 16h0"/><path d="M1603 2104h0m0 10h0"/><path d="M1603 2112h0"/><path d="M1603 2114h0"/><path d="M1603 2111h0"/><path d="M1603 2109h0"/><path d="M1603 2118h0"/><path d="M1603 2110h0"/></g><path d="M1008.0 697.6H1074.4M1151.2 697.6H1264.0" stroke="#ff8c00" stroke-width="5" fill="none"/><rect x="1074.4" y="591.1" width="76.8" height="213" fill="none" stroke="#ff8c00" stroke-width="5.7"/><path d="M1139.0 591.1V804.1" stroke="#ff8c00" stroke-width="11" fill="none"/><path d="M1067.0 982.9H1136.2M1335.9 982.9H1634.0" stroke="#3d98ea" stroke-width="5" fill="none"/><rect x="1136.2" y="876.4" width="199.7" height="213" fill="none" stroke="#3d98ea" stroke-width="5.7"/><path d="M1168.6 876.4V1089.3" stroke="#3d98ea" stroke-width="11" fill="none"/><path d="M1260.0 1268.1H1517.0M1850.4 1268.1H2347.0" stroke="#f2ae9f" stroke-width="5" fill="none"/><rect x="1517.0" y="1161.6" width="333.4" height="213" fill="none" stroke="#f2ae9f" stroke-width="5.7"/><path d="M1634.7 1161.6V1374.6" stroke="#f2ae9f" stroke-width="11" fill="none"/><path d="M1370.0 1553.3H1654.4M2077.2 1553.3H2709.0" stroke="#48dea6" stroke-width="5" fill="none"/><rect x="1654.4" y="1446.8" width="422.8" height="213" fill="none" stroke="#48dea6" stroke-width="5.7"/><path d="M1783.0 1446.8V1659.8" stroke="#48dea6" stroke-width="11" fill="none"/><path d="M1255.0 1838.6H1410.6M1711.2 1838.6H2160.0" stroke="#8c80ee" stroke-width="5" fill="none"/><rect x="1410.6" y="1732.1" width="300.6" height="213" fill="none" stroke="#8c80ee" stroke-width="5.7"/><path d="M1499.6 1732.1V1945.1" stroke="#8c80ee" stroke-width="11" fill="none"/><path d="M1170.0 2123.8H1286.4M1497.2 2123.8H1815.0" stroke="#003064" stroke-width="5" fill="none"/><rect x="1286.4" y="2017.3" width="210.8" height="213" fill="none" stroke="#003064" stroke-width="5.7"/><path d="M1353.3 2017.3V2230.3" stroke="#003064" stroke-width="11" fill="none"/></svg></body></html>
